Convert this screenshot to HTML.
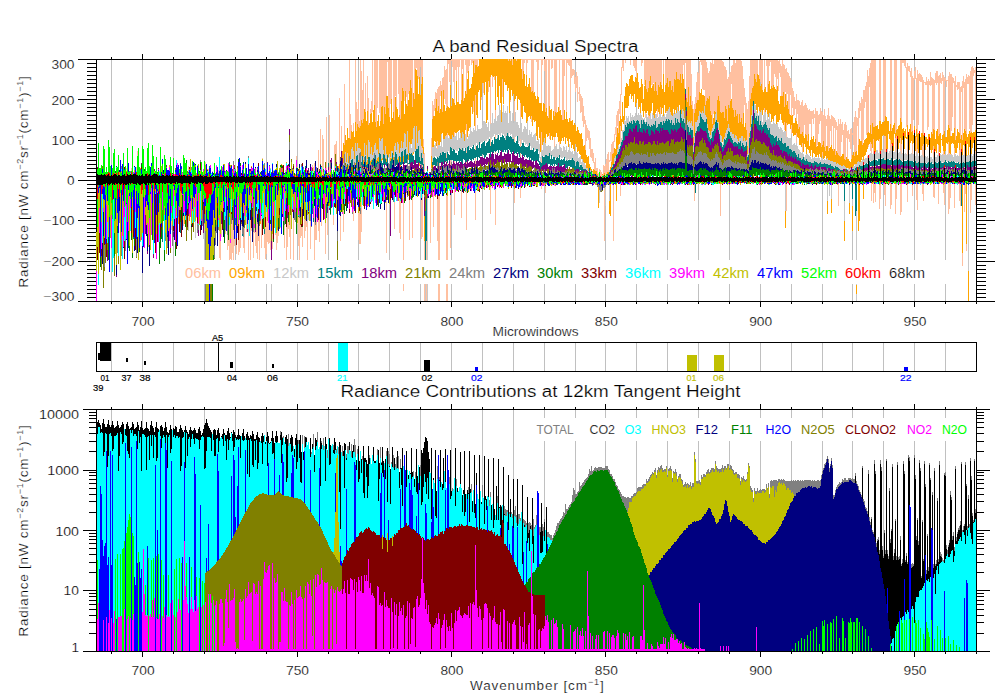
<!DOCTYPE html>
<html><head><meta charset="utf-8"><title>A band Residual Spectra</title>
<style>html,body{margin:0;padding:0;background:#fff}svg{display:block}text{font-family:"Liberation Sans",sans-serif}.t{stroke:#fff;stroke-width:.22px}</style></head>
<body>
<svg width="1000" height="700" viewBox="0 0 1000 700">
<rect width="1000" height="700" fill="#fff"/>
<g shape-rendering="crispEdges">
<path fill="#ffc0a0" d="M0 0m126 168h1v3h-1zm5 0h1v3h-1zm5-1h1v4h-1zm1-16h1v5h-1zm34 70h1v9h-1zm12-5h1v10h-1zm5-50h1v4h-1zm8 51h1v1h-1zm9-55h1v3h-1zm3 7h1v3h-1zm10 1h1v3h-1zm1 61h1v27h-1zm1 10h1v19h-1zm1-17h1v13h-1zm4 6h1v4h-1zm2 5h1v15h-1zm1 5h1v6h-1zm1-15h1v35h-1zm1 18h1v16h-1zm1-19h1v36h-1zm1-4h1v33h-1zm1 10h1v30h-1zm1 9h1v7h-1zm1-14h1v6h-1zm1 20h1v9h-1zm2-5h1v15h-1zm1-20h1v32h-1zm1 10h1v18h-1zm1-6h1v2h-1zm2 13h1v11h-1zm1-9h1v25h-1zm2-5h1v9h-1zm2-3h1v40h-1zm2 0h1v40h-1zm1 8h1v3h-1zm2 4h1v26h-1zm1-4h1v5h-1zm1 4h1v14h-1zm1-13h1v34h-1zm1 5h1v35h-1zm1 12h1v5h-1zm1-65h1v3h-1zm0 55h1v34h-1zm2-10h1v32h-1zm1-58h1v1h-1zm2 76h1v14h-1zm1-7h1v32h-1zm1-15h1v42h-1zm1 9h1v21h-1zm1 2h1v21h-1zm1 7h1v13h-1zm1-6h1v26h-1zm2 10h1v15h-1zm1-64h1v1h-1zm2 63h1v2h-1zm1 0h1v17h-1zm1-3h1v13h-1zm1 1h1v5h-1zm2-4h1v1h-1zm4-2h1v23h-1zm2 2h1v33h-1zm1-9h1v29h-1zm1 4h1v7h-1zm1 3h1v12h-1zm1-10h1v44h-1zm3 3h1v42h-1zm3-62h1v4h-1zm1 67h1v1h-1zm1-6h1v29h-1zm1 1h1v42h-1zm1 7h1v13h-1zm1 2h1v9h-1zm1 0h1v20h-1zm2-8h1v19h-1zm1 1h1v11h-1zm1 1h1v6h-1zm1 2h1v37h-1zm2-52h1v2h-1zm1 50h1v28h-1zm2-56h1v3h-1zm1 2h1v6h-1zm1-4h1v8h-1zm0 43h1v54h-1zm1 19h1v15h-1zm1-8h1v23h-1zm2-67h1v22h-1zm0 70h1v11h-1zm1-6h1v28h-1zm1-85h1v35h-1zm1 79h1v18h-1zm1-73h1v40h-1zm1 4h1v30h-1zm2 84h1v31h-1zm1-106h1v53h-1zm1 96h1v22h-1zm2-98h1v59h-1zm4 100h1v10h-1zm1-70h1v27h-1zm1-1h1v10h-1zm1-3h1v21h-1zm3-43h1v66h-1zm1 118h1v25h-1zm1-90h1v25h-1zm2 84h1v22h-1zm1-126h1v61h-1zm5-24h1v78h-1zm1 54h1v25h-1zm1 11h1v6h-1zm2-2h1v8h-1zm0 86h1v12h-1zm2-149h1v62h-1zm1 42h1v29h-1zm1 7h1v15h-1zm1-9h1v27h-1zm0 113h1v27h-1zm1-92h1v7h-1zm0 90h1v33h-1zm1-151h1v66h-1zm0 154h1v30h-1zm1-143h1v49h-1zm0 126h1v35h-1zm1-107h1v33h-1zm1-30h1v59h-1zm2 23h1v29h-1zm2-7h1v35h-1zm1 22h1v27h-1zm2 11h1v5h-1zm1-8h1v12h-1zm1-41h1v52h-1zm2 0h1v45h-1zm1 0h1v62h-1zm1 0h1v67h-1zm1 0h1v48h-1zm2 0h1v53h-1zm1 0h1v61h-1zm1 0h1v47h-1zm1 0h1v46h-1zm1 0h1v64h-1zm1 0h1v47h-1zm1 0h1v54h-1zm1 0h1v36h-1zm0 106h1v2h-1zm0 34h1v53h-1zm1-140h1v2h-1zm1 0h1v48h-1zm1 0h1v57h-1zm1 0h1v44h-1zm1 0h1v39h-1zm2 0h1v52h-1zm1 0h1v60h-1zm0 142h1v27h-1zm1-142h1v36h-1zm1 0h1v47h-1zm2 0h1v34h-1zm1 0h1v55h-1zm0 138h1v35h-1zm1-138h1v59h-1zm0 141h1v38h-1zm1-141h1v41h-1zm1 0h1v28h-1zm1 0h1v31h-1zm0 134h1v66h-1zm0 90h1v7h-1zm1-224h1v41h-1zm1 0h1v31h-1zm1 0h1v37h-1zm1 0h1v46h-1zm1 0h1v34h-1zm1 0h1v31h-1zm0 104h1v2h-1zm0 36h1v40h-1zm1-140h1v20h-1zm1 0h1v28h-1zm1 0h1v47h-1zm0 109h1v1h-1zm0 29h1v40h-1zm2-138h1v39h-1zm1 0h1v9h-1zm1 0h1v8h-1zm1 0h1v16h-1zm1 0h1v19h-1zm1 0h1v17h-1zm1 0h1v7h-1zm1 0h1v24h-1zm0 86h1v4h-1zm0 54h1v39h-1zm1-140h1v17h-1zm0 88h1v2h-1zm0 7h1v3h-1zm0 10h1v2h-1zm0 29h1v43h-1zm1-55h1v8h-1zm1 14h1v19h-1zm0 88h1v19h-1zm0 43h1v17h-1zm2-43h1v19h-1zm0 43h1v17h-1zm4-86h1v45h-1zm1-60h1v18h-1zm1-37h1v18h-1zm1 4h1v11h-1zm0 42h1v1h-1zm0 18h1v2h-1zm0 27h1v35h-1zm1-93h1v12h-1zm1-7h1v16h-1zm1 1h1v6h-1zm1-4h1v22h-1zm0 52h1v8h-1zm0 58h1v42h-1zm1-112h1v19h-1zm0 109h2v64h-2zm0 88h2v17h-2zm1-198h1v27h-1zm0 77h1v3h-1zm1-82h1v15h-1zm1 4h1v6h-1zm1-7h1v34h-1zm1-1h1v13h-1zm1-11h1v33h-1zm1 4h1v34h-1zm1-1h1v39h-1zm0 66h1v2h-1zm0 19h1v4h-1zm0 7h1v1h-1zm0 34h1v65h-1zm0 89h2v17h-2zm1-224h1v46h-1zm0 73h1v3h-1zm0 30h1v2h-1zm0 33h1v64h-1zm1-136h1v4h-1zm1 0h1v22h-1zm1 0h1v25h-1zm0 100h1v5h-1zm0 35h1v53h-1zm1-136h1v2h-1zm1 0h1v8h-1zm1 0h1v23h-1zm1 0h1v44h-1zm0 73h1v4h-1zm0 29h1v2h-1zm0 28h1v26h-1zm1-130h1v11h-1zm1 0h1v22h-1zm1 0h1v8h-1zm1 0h1v43h-1zm1 0h1v8h-1zm1 0h1v1h-1zm1 0h1v41h-1zm0 90h1v1h-1zm0 40h1v29h-1zm1-130h1v10h-1zm1 0h1v42h-1zm1 0h1v1h-1zm1 0h1v6h-1zm1 0h1v35h-1zm0 65h1v14h-1zm0 27h1v2h-1zm0 11h1v2h-1zm0 29h1v39h-1zm1-132h1v14h-1zm1 0h1v12h-1zm1 0h1v7h-1zm1 0h1v1h-1zm1 0h1v6h-1zm1 0h1v4h-1zm1 0h1v2h-1zm0 42h1v11h-1zm1-42h1v14h-1zm1 0h2v6h-2zm0 36h1v34h-1zm0 51h1v4h-1zm0 12h1v6h-1zm0 33h1v29h-1zm2-132h1v8h-1zm1 0h1v1h-1zm3 38h1v3h-1zm2-14h1v10h-1zm5-2h1v11h-1zm2-4h1v47h-1zm0 61h1v8h-1zm0 49h1v27h-1zm2-111h1v11h-1zm2 0h1v4h-1zm1 34h1v8h-1zm0 25h1v4h-1zm0 17h1v2h-1zm0 12h1v1h-1zm0 25h1v36h-1zm7-110h1v18h-1zm6-20h1v2h-1zm2 0h1v2h-1zm0 41h1v2h-1zm2-41h1v6h-1zm2 42h1v20h-1zm0 36h1v5h-1zm0 17h1v1h-1zm0 35h1v14h-1zm2-130h1v2h-1zm4 44h1v15h-1zm0 36h1v8h-1zm0 14h1v4h-1zm0 34h1v11h-1zm1-128h1v1h-1zm1 0h1v20h-1zm1 0h1v12h-1zm1 0h1v4h-1zm1 0h1v1h-1zm1 0h1v16h-1zm1 0h1v4h-1zm1 0h3v1h-3zm3 0h1v33h-1zm0 57h1v6h-1zm1-57h1v32h-1zm1 0h1v34h-1zm1 0h2v1h-2zm2 0h1v3h-1zm1 0h1v37h-1zm1 0h1v11h-1zm1 0h2v1h-2zm2 0h1v44h-1zm0 73h1v18h-1zm0 27h1v4h-1zm0 26h1v4h-1zm1-126h1v6h-1zm1 0h1v1h-1zm1 0h1v12h-1zm1 0h1v53h-1zm0 84h1v1h-1zm0 43h1v7h-1zm1-127h1v49h-1zm1 0h1v1h-1zm1 0h1v59h-1zm1 0h1v47h-1zm0 74h1v6h-1zm1-74h1v1h-1zm1 0h1v10h-1zm1 0h1v9h-1zm1 0h1v1h-1zm1 0h1v57h-1zm0 78h1v10h-1zm0 29h1v1h-1zm0 18h1v2h-1zm1-125h1v53h-1zm1 0h1v54h-1zm1 0h2v1h-2zm2 0h1v52h-1zm0 82h1v4h-1zm1-82h2v1h-2zm2 0h2v61h-2zm2 0h1v17h-1zm1 0h1v1h-1zm1 0h1v53h-1zm1 0h1v4h-1zm1 0h1v6h-1zm1 0h1v7h-1zm1 0h1v62h-1zm1 0h1v19h-1zm1 10h1v7h-1zm1 0h1v6h-1zm1 1h1v14h-1zm1 7h1v15h-1zm1-5h1v16h-1zm1 4h1v26h-1zm1 16h1v2h-1zm1-5h1v14h-1zm1 7h1v19h-1zm1 2h1v16h-1zm1 2h1v23h-1zm1 8h1v21h-1zm1 10h1v8h-1zm1 4h1v30h-1zm1 5h1v16h-1zm1 3h1v10h-1zm1 2h1v10h-1zm1 1h1v18h-1zm1 7h1v19h-1zm1 11h1v9h-1zm1 0h1v12h-1zm1 4h1v10h-1zm1 9h1v8h-1zm1-4h1v13h-1zm1 10h1v3h-1zm1 0h1v6h-1zm1 5h1v2h-1zm1-4h1v3h-1zm1 1h1v6h-1zm1 2h1v4h-1zm2-7h1v10h-1zm1 1h1v7h-1zm0 22h1v53h-1zm1-24h1v12h-1zm1-5h1v15h-1zm1-5h1v18h-1zm1-2h1v20h-1zm1 8h1v2h-1zm1-8h1v9h-1zm1-8h1v18h-1zm1-2h1v12h-1zm1-1h1v12h-1zm0 44h1v56h-1zm1-51h1v8h-1zm1-7h1v8h-1zm1-12h1v22h-1zm1-4h1v15h-1zm1-2h1v24h-1zm1-8h1v13h-1zm1-7h1v22h-1zm0 32h1v16h-1zm0 58h1v12h-1zm1-117h1v28h-1zm1-7h1v8h-1zm1 0h1v11h-1zm2 0h1v3h-1zm5 0h1v5h-1zm3 0h1v6h-1zm1 0h1v8h-1zm1 0h1v11h-1zm1 0h1v18h-1zm5 0h1v6h-1zm1 0h1v3h-1zm2 0h1v25h-1zm1 0h1v20h-1zm0 53h1v5h-1zm1-53h1v29h-1zm1 0h1v32h-1zm1 0h1v28h-1zm0 55h1v3h-1zm1-55h1v21h-1zm0 56h1v3h-1zm1-56h1v16h-1zm1 0h1v25h-1zm1 0h1v26h-1zm1 0h1v23h-1zm1 0h1v31h-1zm1 0h1v22h-1zm1 0h1v31h-1zm1 0h1v35h-1zm0 49h1v8h-1zm1-49h1v25h-1zm1 0h1v27h-1zm1 0h1v22h-1zm0 47h1v7h-1zm1-47h1v25h-1zm2 0h1v14h-1zm2 0h1v25h-1zm1 0h1v23h-1zm0 51h1v2h-1zm1-51h1v18h-1zm1 0h1v27h-1zm1 0h2v21h-2zm1 52h1v1h-1zm1-52h1v30h-1zm1 0h1v26h-1zm1 0h1v32h-1zm1 0h1v19h-1zm1 0h1v20h-1zm1 0h1v12h-1zm1 0h2v19h-2zm2 0h1v20h-1zm1 0h1v14h-1zm1 0h1v23h-1zm1 0h1v14h-1zm1 0h1v5h-1zm1 0h1v28h-1zm1 0h1v3h-1zm1 0h1v38h-1zm1 0h1v42h-1zm1 0h1v27h-1zm1 0h1v46h-1zm1 0h1v36h-1zm1 14h1v31h-1zm1 27h1v8h-1zm1 8h1v28h-1zm1-5h1v9h-1zm0 80h1v17h-1zm1-87h1v12h-1zm1-15h1v21h-1zm1-10h1v28h-1zm1 1h1v27h-1zm1-12h1v31h-1zm1-1h1v2h-1zm1 0h1v5h-1zm1 0h1v29h-1zm1 0h2v30h-2zm2 0h1v45h-1zm1 2h1v39h-1zm1 6h1v30h-1zm1 5h1v26h-1zm1-2h1v25h-1zm1-9h1v49h-1zm1 1h1v52h-1zm1-3h1v64h-1zm1 4h1v50h-1zm1-4h1v51h-1zm1 0h2v52h-2zm2 0h1v40h-1zm1 0h1v36h-1zm1 0h1v41h-1zm1 0h1v52h-1zm0 124h1v32h-1zm1-124h1v53h-1zm1 1h1v51h-1zm1 1h1v50h-1zm1 4h1v52h-1zm1 1h1v39h-1zm1 3h1v39h-1zm1 9h1v42h-1zm1-2h1v28h-1zm1-3h1v31h-1zm1-2h1v29h-1zm1-6h1v18h-1zm1-1h1v43h-1zm1-5h1v50h-1zm1 0h1v57h-1zm1 3h1v47h-1zm1-3h1v56h-1zm1 0h1v54h-1zm1 0h1v63h-1zm1 0h1v54h-1zm1 0h1v62h-1zm1 1h1v57h-1zm1 5h1v58h-1zm1 13h1v34h-1zm1 9h1v17h-1zm1 9h1v26h-1zm1 6h1v27h-1zm1 6h1v37h-1zm1-8h1v49h-1zm1-25h1v57h-1zm1-16h1v39h-1zm1 0h1v33h-1zm1 0h1v28h-1zm1 0h1v26h-1zm1 0h1v14h-1zm1 0h1v19h-1zm1 0h1v22h-1zm1 0h1v14h-1zm0 53h1v1h-1zm2-53h1v19h-1zm1 0h1v22h-1zm1 0h1v24h-1zm1 0h1v30h-1zm2 0h1v29h-1zm0 48h1v5h-1zm2-48h1v6h-1zm1 0h1v32h-1zm1 0h1v24h-1zm1 0h1v6h-1zm1 0h1v2h-1zm1 0h1v26h-1zm1 0h1v28h-1zm1 0h1v25h-1zm1 0h1v14h-1zm1 0h1v17h-1zm1 0h1v30h-1zm1 0h1v19h-1zm1 1h1v30h-1zm1-1h1v13h-1zm1 4h1v13h-1zm1 2h1v30h-1zm1-6h1v36h-1zm1 4h1v28h-1zm1 1h1v42h-1zm0 57h1v8h-1zm1-53h1v23h-1zm1-1h1v37h-1zm0 55h1v14h-1zm0 61h1v27h-1zm1-112h1v22h-1zm1 1h1v36h-1zm1 3h1v38h-1zm1 2h1v17h-1zm1 4h1v34h-1zm0 43h1v9h-1zm1-37h1v20h-1zm1 3h1v25h-1zm1 6h1v18h-1zm1 4h1v8h-1zm1-7h1v27h-1zm0 39h1v10h-1zm1-33h1v14h-1zm1 0h1v29h-1zm1 1h1v26h-1zm1 4h1v29h-1zm1-3h1v32h-1zm1-2h1v32h-1zm0 43h1v9h-1zm1-37h1v30h-1zm1-1h1v20h-1zm1-2h1v31h-1zm1 2h1v30h-1zm1 3h1v33h-1zm1 2h1v24h-1zm1-1h1v15h-1zm1 2h1v13h-1zm1 0h1v26h-1zm1 0h1v8h-1zm1-1h1v14h-1zm1 4h1v4h-1zm1-6h1v31h-1zm1 3h1v36h-1zm1 0h1v34h-1zm1 4h1v19h-1zm1-1h1v10h-1zm1-6h1v13h-1zm1 3h1v36h-1zm1 1h1v33h-1zm0 40h1v4h-1zm1-37h1v26h-1zm1-6h1v38h-1zm1 7h1v35h-1zm1 3h1v7h-1zm1-4h1v31h-1zm1-7h1v43h-1zm1 8h1v31h-1zm1 3h1v12h-1zm1-4h1v30h-1zm1 1h1v10h-1zm1 1h1v34h-1zm1 1h1v10h-1zm1 2h1v35h-1zm1 2h1v8h-1zm1 4h1v27h-1zm1-7h1v36h-1zm0 65h1v22h-1zm1-60h1v32h-1zm1-5h1v38h-1zm1 5h1v18h-1zm1-2h1v13h-1zm1 8h1v24h-1zm1-6h1v35h-1zm1-2h1v38h-1zm1 3h1v13h-1zm1 6h1v28h-1zm1-1h1v9h-1zm1 4h1v8h-1zm1-5h1v20h-1zm1-1h1v31h-1zm1 5h1v2h-1zm1-11h1v23h-1zm1-5h1v39h-1zm0 47h1v1h-1zm1-53h1v41h-1zm1 6h1v34h-1zm1 1h1v8h-1zm1-10h1v37h-1zm1-7h1v17h-1zm1 2h1v8h-1zm1-6h1v44h-1zm1 2h1v46h-1zm1-9h1v50h-1zm1 0h1v18h-1zm1-4h1v16h-1zm1-4h1v53h-1zm1-12h1v63h-1zm1 6h1v56h-1zm0 69h1v2h-1zm1-77h1v19h-1zm1-5h1v62h-1zm0 79h1v9h-1zm1-82h1v74h-1zm0 84h1v9h-1zm0 16h1v1h-1zm0 6h1v1h-1zm0 17h1v18h-1zm1-123h1v63h-1zm1 0h2v67h-2zm0 79h1v14h-1zm0 27h1v1h-1zm0 17h1v20h-1zm1 1h1v9h-1zm1-124h1v66h-1zm0 106h1v1h-1zm0 18h1v18h-1zm4-124h2v61h-2zm0 79h1v13h-1zm0 26h1v1h-1zm0 20h1v24h-1zm1-1h1v15h-1zm3-124h1v60h-1zm1 0h1v61h-1zm0 76h2v16h-2zm0 23h2v1h-2zm0 25h1v11h-1zm1-124h1v56h-1zm0 124h1v22h-1zm5-124h1v64h-1zm0 80h1v10h-1zm0 19h1v1h-1zm0 24h1v26h-1zm1-123h1v71h-1zm0 84h1v7h-1zm0 21h1v1h-1zm0 19h1v21h-1zm3-124h1v63h-1zm1 0h1v73h-1zm0 78h1v14h-1zm0 46h1v30h-1zm1-124h1v70h-1zm0 76h1v14h-1zm0 48h1v15h-1zm4-124h1v58h-1zm0 78h1v13h-1zm0 21h1v1h-1zm0 25h1v31h-1zm1-124h1v62h-1zm0 84h1v10h-1zm0 16h1v1h-1zm0 24h1v28h-1zm1-124h2v3h-2zm2 0h1v6h-1zm1 0h1v8h-1zm1 7h1v60h-1zm1-4h1v62h-1zm0 76h1v16h-1zm0 45h1v18h-1zm1-118h1v5h-1zm1 0h1v6h-1zm1 5h1v6h-1zm1-3h1v64h-1zm1 8h1v55h-1zm0 68h1v10h-1zm0 41h1v11h-1zm1-107h1v42h-1zm1-7h1v9h-1zm1-4h1v12h-1zm1 11h1v51h-1zm0 59h1v15h-1zm0 25h1v1h-1zm0 22h1v16h-1zm1-114h1v64h-1zm0 79h1v5h-1zm0 35h1v26h-1zm1-110h1v51h-1zm1-1h1v8h-1zm1 1h1v8h-1zm1 1h1v7h-1zm1 2h1v56h-1zm0 69h1v9h-1zm0 22h1v1h-1zm0 16h1v10h-1zm1-104h1v55h-1zm0 64h1v13h-1zm0 40h1v17h-1zm1-102h1v1h-1zm1 0h1v3h-1zm1-5h1v8h-1zm1 4h1v49h-1zm1-2h1v48h-1zm1 2h1v4h-1zm1-9h1v14h-1zm1 5h1v8h-1zm1 1h1v56h-1zm1 1h1v50h-1zm0 67h1v11h-1zm0 38h1v13h-1zm1-104h1v50h-1zm0 103h1v15h-1zm1-110h1v10h-1zm1-2h1v14h-1zm1 0h1v12h-1zm1 5h1v60h-1zm0 69h1v9h-1zm0 39h1v20h-1zm1-109h1v59h-1zm1-2h1v10h-1zm1 5h1v6h-1zm1-6h1v9h-1zm1 3h1v59h-1zm0 76h1v4h-1zm0 34h1v8h-1zm1-108h1v54h-1zm0 77h1v1h-1zm0 7h1v1h-1zm0 23h1v21h-1zm1-106h1v3h-1zm1 2h1v7h-1zm1 0h1v1h-1zm1-4h1v49h-1zm0 66h1v13h-1zm0 41h1v31h-1zm1-111h1v56h-1zm0 81h1v1h-1zm0 30h1v26h-1zm1-109h1v62h-1zm0 80h1v1h-1zm0 7h1v1h-1zm0 23h1v14h-1zm1-110h1v57h-1zm1 3h1v40h-1zm1 1h1v5h-1zm1 3h1v47h-1zm0 67h1v7h-1zm0 36h1v24h-1zm1-108h1v64h-1zm1 9h1v2h-1zm1-3h1v8h-1zm1 0h1v7h-1zm1 0h1v51h-1zm0 68h1v6h-1zm0 13h1v1h-1zm0 21h1v17h-1zm1-97h1v52h-1zm0 56h1v13h-1zm0 41h1v22h-1zm1-98h1v6h-1zm1-5h1v59h-1zm0 172h1v13h-1zm1-177h1v12h-1zm1 6h1v47h-1zm0 64h1v9h-1zm0 16h1v1h-1zm0 5h1v1h-1zm0 18h1v27h-1zm1-106h1v52h-1zm0 104h1v11h-1zm1-109h1v60h-1zm0 170h1v7h-1zm1-167h1v7h-1zm1-2h1v9h-1zm1 1h1v53h-1zm1-5h1v62h-1zm0 113h1v29h-1zm1-117h1v65h-1zm0 94h1v1h-1zm0 22h1v17h-1zm1-117h1v59h-1zm1 2h1v8h-1zm1 2h1v3h-1zm1-3h1v63h-1zm0 84h1v3h-1zm0 15h1v1h-1zm0 18h1v21h-1z"/>
<path fill="#ffa500" d="M0 0m140 168h1v1h-1zm29-3h1v2h-1zm9 52h1v7h-1zm6-2h1v9h-1zm5-1h1v7h-1zm7-41h1v1h-1zm8 50h1v1h-1zm3-54h1v1h-1zm8 4h1v1h-1zm36-7h1v1h-1zm9 55h1v3h-1zm21-57h1v1h-1zm1 1h1v1h-1zm4-3h1v1h-1zm52 4h1v2h-1zm1-2h1v5h-1zm3-13h1v7h-1zm1-8h1v20h-1zm1 2h1v9h-1zm1-10h1v17h-1zm1 5h1v22h-1zm0 25h1v2h-1zm1-37h1v25h-1zm1 10h1v25h-1zm0 27h1v4h-1zm0 37h1v2h-1zm1-64h1v18h-1zm1 1h1v20h-1zm1-8h1v18h-1zm1 1h1v15h-1zm1-1h1v20h-1zm1 6h1v22h-1zm1-15h1v21h-1zm0 41h1v2h-1zm1-32h1v20h-1zm0 37h1v2h-1zm1-44h1v19h-1zm1 3h1v21h-1zm0 33h1v2h-1zm1-32h1v20h-1zm1-2h1v23h-1zm1-6h1v36h-1zm1 3h1v33h-1zm1-4h1v38h-1zm0 41h1v4h-1zm0 7h1v1h-1zm1-58h1v34h-1zm1 3h1v43h-1zm0 55h1v1h-1zm1-46h1v24h-1zm0 41h1v3h-1zm1-51h1v48h-1zm0 49h1v4h-1zm0 8h1v1h-1zm1-43h1v15h-1zm1-2h1v19h-1zm1-9h1v40h-1zm0 47h1v4h-1zm1-48h1v34h-1zm0 47h1v2h-1zm1-38h1v33h-1zm0 37h1v1h-1zm1-49h1v42h-1zm1-5h1v40h-1zm1 17h1v21h-1zm1 5h1v23h-1zm0 33h1v3h-1zm1-39h1v28h-1zm0 37h1v3h-1zm1-43h1v39h-1zm0 42h1v5h-1zm1-31h1v12h-1zm1-5h1v20h-1zm1-14h1v32h-1zm0 52h1v2h-1zm1-53h1v32h-1zm0 52h1v2h-1zm1-34h1v26h-1zm1-17h1v48h-1zm1 7h1v32h-1zm0 44h1v1h-1zm1-62h1v58h-1zm0 63h1v3h-1zm1-63h1v59h-1zm1 12h1v49h-1zm1 9h1v37h-1zm1 5h1v35h-1zm0 36h1v3h-1zm1-59h1v52h-1zm0 59h1v1h-1zm1-40h1v33h-1zm1-6h1v43h-1zm0 45h1v3h-1zm1-37h1v26h-1zm1-23h1v46h-1zm1 10h1v43h-1zm1 2h1v33h-1zm0 50h1v1h-1zm1-42h1v27h-1zm0 40h1v5h-1zm1-42h1v38h-1zm1 4h1v29h-1zm0 38h1v5h-1zm0 8h1v2h-1zm1-64h1v40h-1zm1-13h1v60h-1zm1 3h1v51h-1zm0 65h1v6h-1zm1-42h1v19h-1zm1-23h1v43h-1zm1 13h1v43h-1zm0 50h1v1h-1zm1-48h1v25h-1zm1-6h1v53h-1zm0 55h1v5h-1zm1-64h1v51h-1zm1-11h1v64h-1zm1 8h1v56h-1zm1 19h1v32h-1zm0 47h1v1h-1zm1-61h1v35h-1zm0 59h1v2h-1zm1-53h1v27h-1zm1-30h1v80h-1zm1 1h1v56h-1zm1 6h1v67h-1zm1 18h1v37h-1zm1-17h1v53h-1zm0 86h1v3h-1zm1-68h1v44h-1zm1-11h1v62h-1zm1-7h1v71h-1zm1 70h1v7h-1zm1 69h1v25h-1zm7-60h1v12h-1zm1-37h1v28h-1zm1-3h1v31h-1zm1 0h1v25h-1zm1-8h1v34h-1zm1-9h1v47h-1zm1 12h1v30h-1zm1-5h1v39h-1zm1 7h1v32h-1zm1-4h1v33h-1zm1-18h1v43h-1zm1 21h1v21h-1zm1-22h1v49h-1zm1 15h1v34h-1zm1 6h1v25h-1zm1-3h1v27h-1zm1-2h1v27h-1zm1 1h1v28h-1zm1 1h1v28h-1zm1-23h1v54h-1zm1 21h1v33h-1zm1-8h1v37h-1zm1 1h1v38h-1zm1 4h1v29h-1zm1 2h1v28h-1zm1-24h1v52h-1zm1 21h1v30h-1zm1 0h1v29h-1zm1 2h1v26h-1zm1 0h1v29h-1zm1-4h1v38h-1zm1-26h1v58h-1zm1 27h1v33h-1zm1-3h1v43h-1zm1-7h1v39h-1zm1 3h1v30h-1zm1-15h1v58h-1zm1-8h1v60h-1zm1 18h1v39h-1zm1-1h1v39h-1zm1-4h1v23h-1zm1-7h1v37h-1zm1-16h1v40h-1zm1 12h1v53h-1zm1-8h1v30h-1zm1 0h1v50h-1zm1 2h1v51h-1zm1-1h1v26h-1zm1-7h1v31h-1zm1 0h1v51h-1zm1 0h1v38h-1zm1 0h2v24h-2zm2 0h1v36h-1zm1 0h1v23h-1zm1 0h1v64h-1zm1 0h1v61h-1zm1 0h1v22h-1zm1 0h1v28h-1zm1 0h1v18h-1zm1 0h1v16h-1zm1 0h1v17h-1zm1 0h1v18h-1zm1 0h1v17h-1zm1 0h1v51h-1zm1 0h1v17h-1zm1 0h1v38h-1zm1 0h1v46h-1zm1 0h1v27h-1zm1 0h1v44h-1zm1 0h1v63h-1zm1 0h1v20h-1zm1 0h1v45h-1zm1 0h1v23h-1zm1 0h2v26h-2zm2 0h1v32h-1zm1 2h1v27h-1zm1-2h1v54h-1zm1 2h1v39h-1zm1-2h1v31h-1zm1 6h1v31h-1zm1-6h1v35h-1zm1 0h1v42h-1zm1 0h1v40h-1zm1 2h1v35h-1zm1-2h1v51h-1zm1 0h1v40h-1zm1 0h1v41h-1zm1 0h1v44h-1zm1 10h1v48h-1zm1 10h1v40h-1zm1-8h1v35h-1zm1 3h1v38h-1zm1 12h1v27h-1zm1-11h1v48h-1zm1 12h1v34h-1zm1-3h1v33h-1zm1-6h1v38h-1zm1 9h1v32h-1zm1 5h1v24h-1zm1-1h1v35h-1zm1 2h1v27h-1zm1-1h1v30h-1zm1 4h1v25h-1zm1 3h1v37h-1zm1-3h1v44h-1zm1 1h1v30h-1zm1 6h1v35h-1zm1 0h1v49h-1zm1 0h1v29h-1zm1 8h1v34h-1zm1-8h1v39h-1zm1 1h1v34h-1zm1 8h1v31h-1zm1-4h1v26h-1zm1 8h1v21h-1zm1 2h1v18h-1zm1-12h1v27h-1zm1 4h1v30h-1zm1-1h1v27h-1zm1 11h1v20h-1zm1-9h1v26h-1zm1 5h1v21h-1zm1-4h1v25h-1zm1 1h1v20h-1zm1-1h1v25h-1zm1-5h1v35h-1zm1 4h1v30h-1zm1-1h1v34h-1zm1 5h1v26h-1zm1 5h1v18h-1zm1 0h1v21h-1zm1-10h1v27h-1zm1 9h1v25h-1zm1-7h1v26h-1zm1 7h1v22h-1zm1 3h1v25h-1zm1-4h1v21h-1zm1 3h1v21h-1zm1 0h1v27h-1zm1-1h1v25h-1zm1 5h1v24h-1zm1-2h1v28h-1zm1 2h1v19h-1zm1 6h1v16h-1zm1-4h1v25h-1zm1 3h1v21h-1zm1 3h1v21h-1zm1 1h1v21h-1zm1-1h1v26h-1zm1 6h1v20h-1zm1 7h1v16h-1zm1-1h1v18h-1zm1 5h1v13h-1zm1 5h1v13h-1zm1 2h1v11h-1zm1-1h1v15h-1zm1 8h1v4h-1zm1 3h1v3h-1zm1 2h1v2h-1zm1 2h1v1h-1zm1-2h1v5h-1zm1 1h1v4h-1zm1 1h1v3h-1zm1 0h1v4h-1zm1 3h1v2h-1zm1 13h1v21h-1zm4-13h1v1h-1zm1 1h1v1h-1zm1-2h1v2h-1zm3-1h1v2h-1zm1 0h1v1h-1zm1 29h1v13h-1zm1-34h1v3h-1zm0 17h1v32h-1zm1-22h1v6h-1zm1-8h1v11h-1zm1-1h1v11h-1zm1-5h1v10h-1zm1 1h1v7h-1zm1-12h1v18h-1zm0 47h1v17h-1zm1-56h1v21h-1zm1 5h1v12h-1zm1-12h1v23h-1zm1-5h1v10h-1zm1 3h1v12h-1zm1-17h1v20h-1zm1 14h1v8h-1zm1-20h1v24h-1zm1-9h1v21h-1zm1-4h1v25h-1zm1 1h1v24h-1zm1 2h1v20h-1zm1-7h1v17h-1zm1-3h1v18h-1zm1-1h1v24h-1zm1 0h1v21h-1zm1 6h1v21h-1zm1 1h1v12h-1zm1-5h1v30h-1zm1 1h1v25h-1zm1-5h1v26h-1zm1 9h1v27h-1zm1 6h1v19h-1zm1-1h1v26h-1zm1-8h1v24h-1zm1 5h1v27h-1zm1 15h1v18h-1zm1-13h1v25h-1zm1-6h1v33h-1zm1 9h1v24h-1zm1 3h1v19h-1zm1-4h1v27h-1zm1-7h1v35h-1zm1-5h1v37h-1zm1 12h1v23h-1zm1-2h1v17h-1zm1-2h1v31h-1zm1 7h1v27h-1zm1-9h1v31h-1zm1 9h1v20h-1zm1 4h1v14h-1zm1-10h1v27h-1zm1 2h1v27h-1zm1-5h1v25h-1zm1 3h1v29h-1zm1 4h1v19h-1zm1-15h1v42h-1zm1 18h1v13h-1zm1-7h1v28h-1zm1-2h1v28h-1zm1-5h1v33h-1zm1 9h1v22h-1zm1-6h1v26h-1zm1 0h1v31h-1zm1 9h1v25h-1zm1-4h1v30h-1zm1 6h1v17h-1zm1-13h1v35h-1zm1 1h1v30h-1zm1-8h1v41h-1zm1 7h1v28h-1zm1 0h1v32h-1zm1 1h1v25h-1zm1-6h1v36h-1zm1 9h1v31h-1zm1-9h1v35h-1zm1 5h1v32h-1zm1 9h1v30h-1zm2 10h1v9h-1zm1 4h1v18h-1zm1-15h1v35h-1zm1 19h1v15h-1zm1-10h1v27h-1zm1 9h1v16h-1zm1 4h1v17h-1zm1 28h1v8h-1zm1-24h1v23h-1zm1-4h1v13h-1zm1-6h1v19h-1zm1-3h1v20h-1zm1 0h1v16h-1zm1-8h1v19h-1zm1 1h1v19h-1zm1-4h1v24h-1zm1 6h1v16h-1zm1 0h1v18h-1zm1 1h1v10h-1zm1 9h1v10h-1zm1-4h1v16h-1zm1-3h1v26h-1zm1 1h1v31h-1zm1-3h1v35h-1zm1 15h1v24h-1zm1 4h1v16h-1zm1 9h1v4h-1zm1-6h1v7h-1zm1-7h1v13h-1zm1 1h1v2h-1zm2-12h1v22h-1zm1-4h1v26h-1zm1 5h1v29h-1zm1 11h1v23h-1zm1 1h1v23h-1zm1-1h1v30h-1zm1 0h1v27h-1zm1 6h1v19h-1zm1-12h1v27h-1zm1 3h1v21h-1zm1 12h1v7h-1zm1-16h1v19h-1zm1 3h1v20h-1zm1-7h1v31h-1zm1-2h1v33h-1zm1 9h1v26h-1zm1 2h1v24h-1zm1 7h1v21h-1zm1-7h1v25h-1zm1 6h1v20h-1zm1-2h1v25h-1zm1 9h1v18h-1zm1-9h1v24h-1zm1 8h1v16h-1zm1-4h1v18h-1zm1 6h1v12h-1zm1-11h1v28h-1zm1 14h1v11h-1zm1-4h1v18h-1zm1 7h1v10h-1zm1 16h1v8h-1zm2-13h1v4h-1zm1-34h1v28h-1zm1-6h1v22h-1zm1-5h1v18h-1zm1-2h1v15h-1zm1-12h1v30h-1zm1 5h1v25h-1zm1 3h1v28h-1zm1-8h1v39h-1zm1 1h1v32h-1zm1 4h1v32h-1zm1 7h1v26h-1zm1-2h1v26h-1zm1 6h1v25h-1zm1 2h1v18h-1zm1-3h1v19h-1zm1-2h1v25h-1zm1 5h1v18h-1zm1 0h1v22h-1zm1-8h1v33h-1zm1-3h1v32h-1zm1 8h1v25h-1zm1-3h1v36h-1zm1 2h1v31h-1zm1-3h1v36h-1zm1 2h1v29h-1zm1 2h1v26h-1zm1 1h1v34h-1zm1-4h1v36h-1zm1 15h1v21h-1zm1 3h1v16h-1zm1-8h1v18h-1zm1 0h1v24h-1zm1 0h1v27h-1zm1-4h1v33h-1zm1 15h1v15h-1zm1-13h1v37h-1zm0 117h1v17h-1zm1-106h1v18h-1zm1-4h1v24h-1zm1 8h1v15h-1zm1 5h1v10h-1zm1 1h1v14h-1zm1 1h1v9h-1zm1-1h1v18h-1zm1 8h1v13h-1zm1 0h1v12h-1zm1-5h1v17h-1zm1 3h1v12h-1zm1 3h1v13h-1zm1 5h1v9h-1zm1-2h1v18h-1zm1 7h1v11h-1zm1 0h1v13h-1zm1-2h1v11h-1zm1 4h1v16h-1zm1 2h1v6h-1zm1-4h1v13h-1zm1 1h1v19h-1zm1 6h1v8h-1zm1-7h1v16h-1zm1 12h1v7h-1zm1-6h1v16h-1zm1-3h1v13h-1zm1 2h1v18h-1zm1-3h1v17h-1zm1 6h1v12h-1zm1-3h1v18h-1zm1 8h1v10h-1zm1-1h1v9h-1zm1-4h1v15h-1zm1 0h1v12h-1zm1 1h1v14h-1zm1 4h1v11h-1zm1-2h1v7h-1zm1-4h1v18h-1zm1 6h1v11h-1zm1 4h1v5h-1zm1-5h1v13h-1zm1 0h1v12h-1zm0 55h1v13h-1zm1-50h1v9h-1zm1-3h1v12h-1zm1-1h1v14h-1zm1-2h1v16h-1zm0 54h1v14h-1zm1-50h1v12h-1zm1 2h1v11h-1zm1-2h1v13h-1zm1 6h1v7h-1zm1-4h1v13h-1zm1 2h1v10h-1zm1 2h1v9h-1zm1 1h1v9h-1zm1 1h1v8h-1zm1-1h1v10h-1zm1-2h1v12h-1zm1 0h1v11h-1zm1 5h1v7h-1zm0 62h1v20h-1zm1-61h1v7h-1zm1-3h1v11h-1zm1 2h2v9h-2zm2 2h1v8h-1zm0 42h1v11h-1zm1-41h1v6h-1zm1-3h1v8h-1zm1-4h1v13h-1zm0 51h1v25h-1zm1-54h1v14h-1zm1 4h1v8h-1zm1-4h1v12h-1zm1-1h1v13h-1zm0 134h1v9h-1zm1-130h1v7h-1zm1-10h1v16h-1zm0 38h1v48h-1zm1-44h1v23h-1zm0 46h1v36h-1zm1-44h1v21h-1zm1 0h1v19h-1zm1 4h1v12h-1zm1-2h1v17h-1zm0 41h1v15h-1zm1-44h1v16h-1zm1-1h1v16h-1zm1-1h1v14h-1zm1-5h1v16h-1zm1-1h1v13h-1zm1 1h1v11h-1zm1-8h1v17h-1zm1 9h1v10h-1zm1-11h1v25h-1zm1 4h1v12h-1zm1 0h1v24h-1zm1-1h1v26h-1zm1 0h1v15h-1zm1-1h1v15h-1zm1 4h1v12h-1zm1-8h1v18h-1zm1 0h1v30h-1zm1 3h1v26h-1zm1-2h1v14h-1zm1 0h1v13h-1zm1-1h1v15h-1zm1-5h1v20h-1zm1 1h1v32h-1zm1 4h1v28h-1zm1 0h1v13h-1zm1 10h1v8h-1zm1-7h1v16h-1zm1 7h1v13h-1zm1-3h1v15h-1zm1-3h1v26h-1zm1-2h1v11h-1zm1 10h1v5h-1zm1-3h1v6h-1zm1-1h1v7h-1zm1-3h1v23h-1zm1-1h1v18h-1zm1-7h1v20h-1zm1 4h1v22h-1zm1 7h1v11h-1zm1-1h1v5h-1zm1 3h1v18h-1zm1-2h1v9h-1zm1 8h1v2h-1zm1-12h1v14h-1zm2 4h1v21h-1zm1-5h1v19h-1zm1 8h1v9h-1zm1-1h1v13h-1zm1 4h1v8h-1zm1-9h1v4h-1zm1 10h1v15h-1zm1-7h1v8h-1zm1 5h1v15h-1zm1-1h1v20h-1zm2 4h1v13h-1zm1-4h1v17h-1zm1 0h1v13h-1zm1 2h1v9h-1zm2 2h1v13h-1zm1 0h1v7h-1zm1 2h1v8h-1zm1-5h1v11h-1zm1 0h1v3h-1zm1 4h1v12h-1zm1-6h1v21h-1zm1 2h1v16h-1zm1-5h1v17h-1zm1 1h1v19h-1zm1 9h1v12h-1zm1-8h1v22h-1zm1-2h1v15h-1zm1 7h1v9h-1zm1-2h1v18h-1zm1-1h1v20h-1zm1 6h1v1h-1zm1-4h1v11h-1zm1-1h1v17h-1zm1-3h1v23h-1zm1 6h1v14h-1zm1 0h1v6h-1zm1-7h1v14h-1zm1-5h1v17h-1zm1 3h1v25h-1zm1 8h1v18h-1zm1 0h1v8h-1zm1-3h1v10h-1zm1 0h1v11h-1zm1-5h1v20h-1zm1 12h1v13h-1zm1-4h1v17h-1zm1-7h1v19h-1zm1 3h1v11h-1zm1 1h1v17h-1zm1 6h1v4h-1zm1-4h1v14h-1zm1 5h1v15h-1zm0 44h1v69h-1zm1-51h1v12h-1zm1-4h1v17h-1zm1 2h1v10h-1zm1 3h1v22h-1zm0 50h1v60h-1zm1-47h1v7h-1zm1-3h1v21h-1zm0 137h1v30h-1zm1-140h1v16h-1zm1 2h1v4h-1zm1-1h1v22h-1zm1 1h1v15h-1zm1-1h1v11h-1zm1 0h1v5h-1zm1-2h1v21h-1z"/>
<path fill="#c8c8c8" d="M0 0m159 171h1v1h-1zm29-1h1v2h-1zm0 46h1v15h-1zm7 5h1v17h-1zm8 12h1v6h-1zm9-62h1v1h-1zm8-2h1v1h-1zm26 48h1v6h-1zm10-6h1v8h-1zm14-43h1v1h-1zm1 116h1v17h-1zm14-114h1v2h-1zm22 45h1v8h-1zm1-1h1v6h-1zm11-6h1v6h-1zm13-36h1v2h-1zm11-9h1v2h-1zm2-11h1v11h-1zm1 10h1v3h-1zm1-9h1v11h-1zm1 10h1v2h-1zm2-4h1v4h-1zm1-10h1v11h-1zm1-2h1v12h-1zm1 4h1v14h-1zm1 8h1v3h-1zm1-16h1v20h-1zm1 8h1v5h-1zm1-8h1v12h-1zm1 5h1v12h-1zm1 0h1v5h-1zm1 1h1v3h-1zm1 7h1v6h-1zm2 1h1v3h-1zm1-14h1v14h-1zm1 12h1v1h-1zm1-10h1v17h-1zm1 14h1v1h-1zm1-19h1v17h-1zm1 2h1v15h-1zm1 12h1v7h-1zm1-7h1v13h-1zm1 8h1v4h-1zm1-3h1v6h-1zm1-7h1v8h-1zm1-2h1v12h-1zm1 7h1v10h-1zm1-1h1v9h-1zm1 5h1v3h-1zm1-16h1v15h-1zm1 3h1v13h-1zm1-2h1v20h-1zm1-1h1v20h-1zm1 12h1v4h-1zm2-4h1v12h-1zm1 8h1v5h-1zm2 3h1v1h-1zm1-3h1v8h-1zm1 3h1v1h-1zm1-6h1v7h-1zm1 0h1v2h-1zm1 4h1v2h-1zm1-9h1v11h-1zm1-3h1v9h-1zm1 7h1v4h-1zm1-8h1v17h-1zm1 2h1v13h-1zm1 9h1v3h-1zm1-5h1v9h-1zm1-7h1v11h-1zm1 7h1v3h-1zm1-6h1v14h-1zm1-9h1v17h-1zm1 1h1v15h-1zm1 13h1v7h-1zm1-16h1v23h-1zm1 22h1v2h-1zm1-11h1v11h-1zm1 2h1v10h-1zm1 4h1v5h-1zm1-9h1v15h-1zm1-11h1v24h-1zm1-2h1v26h-1zm1 23h1v2h-1zm1-23h1v23h-1zm1 17h1v6h-1zm1-12h1v15h-1zm1-1h1v27h-1zm1 9h1v14h-1zm1 11h1v3h-1zm1 0h1v5h-1zm1 4h1v10h-1zm2 130h1v17h-1zm2-86h1v62h-1zm0 86h1v17h-1zm4-116h1v1h-1zm1-21h1v15h-1zm1 1h1v10h-1zm1-3h1v12h-1zm1-2h1v13h-1zm1 5h1v9h-1zm1 1h1v8h-1zm1-4h1v13h-1zm1 0h1v11h-1zm1 1h1v7h-1zm1-12h1v21h-1zm1 13h1v5h-1zm1-8h2v13h-2zm2-3h1v17h-1zm1 1h1v17h-1zm1-1h1v16h-1zm1 2h1v13h-1zm1-2h1v17h-1zm1 3h1v8h-1zm1 0h1v9h-1zm1-4h1v15h-1zm1 2h1v12h-1zm1-1h2v14h-2zm2-3h1v18h-1zm1 7h1v11h-1zm1-8h1v17h-1zm1 6h1v10h-1zm1-5h1v16h-1zm1 5h1v11h-1zm1-6h1v16h-1zm1 2h1v17h-1zm1 7h1v7h-1zm1-7h1v14h-1zm1 4h1v13h-1zm1 1h1v8h-1zm1-3h1v10h-1zm1-2h1v15h-1zm1-7h1v20h-1zm1 4h1v16h-1zm1 1h1v14h-1zm1-4h1v17h-1zm1 2h1v15h-1zm1-1h1v17h-1zm1 2h1v12h-1zm1-6h1v20h-1zm1 4h1v16h-1zm1 0h1v13h-1zm1 0h1v14h-1zm1-1h1v14h-1zm1-3h1v17h-1zm1-4h2v20h-2zm2 1h1v19h-1zm1 2h1v17h-1zm1 3h1v12h-1zm1-5h1v19h-1zm1 9h1v6h-1zm1-7h1v14h-1zm1-1h1v16h-1zm1-10h1v24h-1zm1 10h1v13h-1zm1-4h1v15h-1zm1-1h1v17h-1zm1 3h1v14h-1zm1-5h1v22h-1zm1-1h1v19h-1zm1-10h1v30h-1zm1 5h1v26h-1zm1 12h1v11h-1zm1-10h1v23h-1zm1-7h1v29h-1zm1 8h1v23h-1zm1-2h1v29h-1zm1 2h1v23h-1zm1-7h1v27h-1zm1 17h1v13h-1zm1-10h1v20h-1zm1-2h1v24h-1zm1 10h1v13h-1zm1-8h1v26h-1zm1 10h1v12h-1zm1-2h1v16h-1zm1-9h1v25h-1zm1 10h2v14h-2zm2 3h1v18h-1zm1 3h1v13h-1zm1-10h1v21h-1zm1 5h1v21h-1zm1 9h1v8h-1zm1-3h1v14h-1zm1-3h1v16h-1zm1 1h1v18h-1zm1 2h1v15h-1zm1-8h1v25h-1zm1 14h1v11h-1zm1-5h1v13h-1zm1 4h1v12h-1zm1-2h1v18h-1zm1 5h1v11h-1zm1-2h1v13h-1zm1-1h1v16h-1zm1-1h1v17h-1zm1 8h2v8h-2zm2-2h1v12h-1zm1 5h1v14h-1zm1 13h1v5h-1zm1-7h1v9h-1zm1 0h1v6h-1zm1-8h1v14h-1zm1-4h1v18h-1zm1 6h1v11h-1zm1 2h1v9h-1zm1 0h1v10h-1zm1-1h1v11h-1zm1 1h1v7h-1zm1 0h1v10h-1zm1 5h1v4h-1zm1-1h1v6h-1zm1-1h1v8h-1zm1-2h1v10h-1zm1-1h1v12h-1zm1-2h1v14h-1zm1 5h2v8h-2zm2-4h1v10h-1zm1 2h1v10h-1zm1 1h1v10h-1zm1 3h1v7h-1zm1-5h1v11h-1zm1 1h1v10h-1zm1 3h1v8h-1zm1-4h1v14h-1zm1 6h1v9h-1zm1-2h1v9h-1zm1-6h1v16h-1zm1 7h1v8h-1zm1 1h1v8h-1zm1-1h1v7h-1zm1 3h1v6h-1zm1-3h1v10h-1zm1 5h1v7h-1zm1-4h1v10h-1zm1 1h1v8h-1zm1 5h1v4h-1zm1-1h1v10h-1zm1-1h1v8h-1zm1 6h1v3h-1zm1-3h1v8h-1zm1 3h1v7h-1zm1 1h1v6h-1zm1 2h1v4h-1zm1 3h1v2h-1zm1 0h1v3h-1zm1 3h1v1h-1zm2-1h1v2h-1zm2 2h1v2h-1zm6 3h1v2h-1zm1 15h1v13h-1zm2-14h1v1h-1zm1-1h1v1h-1zm3 12h1v19h-1zm2-3h1v1h-1zm2-14h1v2h-1zm0 15h1v16h-1zm3-20h1v2h-1zm2-7h1v6h-1zm1-2h1v5h-1zm2-7h1v5h-1zm1-4h1v7h-1zm1 2h1v2h-1zm1-5h1v4h-1zm1-4h1v4h-1zm1-8h1v10h-1zm1 0h1v2h-1zm1-10h1v11h-1zm1 1h1v4h-1zm1-5h1v11h-1zm1 2h1v5h-1zm1-2h1v8h-1zm1 5h1v1h-1zm1-8h1v10h-1zm1 4h1v4h-1zm1-2h1v9h-1zm1 2h1v3h-1zm1-1h1v5h-1zm1-3h1v10h-1zm1 4h1v4h-1zm1-2h1v5h-1zm1-2h1v8h-1zm1 2h1v9h-1zm1-2h1v15h-1zm1 2h1v5h-1zm1 3h1v6h-1zm1 1h1v1h-1zm1-1h1v4h-1zm1 4h1v2h-1zm1-8h1v8h-1zm1 3h1v9h-1zm1 1h1v6h-1zm1 1h1v7h-1zm1-6h1v14h-1zm1 6h1v6h-1zm1-6h1v13h-1zm1 2h1v9h-1zm1 3h1v7h-1zm1-4h1v7h-1zm1 0h1v14h-1zm1 4h1v9h-1zm1-1h1v7h-1zm1-3h1v10h-1zm1 0h1v8h-1zm1 3h1v5h-1zm1-2h1v10h-1zm1 1h1v5h-1zm1-2h1v9h-1zm1 3h1v4h-1zm1-3h1v5h-1zm1-3h1v10h-1zm1-2h1v10h-1zm1-2h1v13h-1zm1 6h1v10h-1zm1 2h1v5h-1zm1 1h1v9h-1zm1-3h1v10h-1zm1 1h1v11h-1zm1-1h1v5h-1zm1 0h1v10h-1zm1-6h1v12h-1zm1 4h1v11h-1zm1 0h1v12h-1zm2 3h1v4h-1zm1-5h1v12h-1zm1 2h1v8h-1zm1 7h1v5h-1zm3 2h1v5h-1zm1 2h1v5h-1zm1-1h1v11h-1zm1 2h1v5h-1zm1-2h1v9h-1zm1 5h1v4h-1zm1 19h1v7h-1zm1-9h1v7h-1zm1-14h1v11h-1zm1 0h1v9h-1zm1-2h1v7h-1zm1-4h1v10h-1zm1-5h1v12h-1zm1 1h1v2h-1zm1 1h1v4h-1zm1-2h1v8h-1zm1 2h1v7h-1zm1-7h1v16h-1zm1 9h1v7h-1zm1 2h1v2h-1zm1 7h1v4h-1zm1 6h1v3h-1zm1 1h1v6h-1zm1 4h1v4h-1zm1-4h1v7h-1zm1-3h1v4h-1zm1-3h1v6h-1zm1-1h1v5h-1zm1-10h1v8h-1zm1-2h1v8h-1zm1 10h1v1h-1zm1 0h1v8h-1zm1 8h1v4h-1zm1 5h1v7h-1zm1 1h1v7h-1zm1 8h1v3h-1zm1-5h1v6h-1zm1-2h1v2h-1zm1-4h1v7h-1zm1-3h1v8h-1zm1-2h1v6h-1zm1-4h1v7h-1zm1 4h1v4h-1zm1 4h1v4h-1zm1 0h1v6h-1zm1 2h1v6h-1zm1 0h1v9h-1zm1 4h1v4h-1zm1-3h1v7h-1zm1 1h1v7h-1zm1 3h1v5h-1zm1 2h1v1h-1zm1-3h1v5h-1zm1 0h1v3h-1zm1-2h1v10h-1zm1 0h1v7h-1zm1 5h1v4h-1zm1-3h1v9h-1zm1 3h1v5h-1zm1-1h1v2h-1zm1 14h1v3h-1zm1-4h1v5h-1zm1-13h1v1h-1zm1-10h1v4h-1zm1-12h1v9h-1zm1-9h1v10h-1zm2-2h1v9h-1zm1 1h1v13h-1zm1 6h1v5h-1zm1 3h1v7h-1zm1 1h1v1h-1zm1-4h1v14h-1zm1 3h1v7h-1zm1-4h1v15h-1zm1 12h1v5h-1zm1-7h1v10h-1zm1-2h1v11h-1zm1-1h1v10h-1zm1 8h1v5h-1zm1-6h1v14h-1zm1 5h1v11h-1zm1-6h1v15h-1zm1 8h1v13h-1zm1 3h2v11h-2zm2-3h1v15h-1zm1 2h1v15h-1zm1 1h1v13h-1zm1 0h1v12h-1zm1-1h1v18h-1zm1 4h1v11h-1zm1 2h1v11h-1zm1-2h1v14h-1zm1 1h1v10h-1zm1 2h1v13h-1zm1 2h1v12h-1zm1-1h2v12h-2zm1 53h1v27h-1zm1-47h1v10h-1zm1 0h1v9h-1zm1 1h1v8h-1zm1 0h2v11h-2zm2 2h1v10h-1zm1 5h1v7h-1zm1-1h1v7h-1zm1-1h1v8h-1zm1 2h1v8h-1zm1-2h1v12h-1zm1 3h1v11h-1zm1 3h1v5h-1zm1 1h1v8h-1zm1 2h1v6h-1zm1 1h1v7h-1zm1-1h1v7h-1zm1 2h1v3h-1zm1 3h1v3h-1zm1-2h1v6h-1zm1-1h1v5h-1zm1 0h1v7h-1zm1 1h1v7h-1zm1 1h1v6h-1zm1 1h1v5h-1zm1 2h1v4h-1zm1-2h1v6h-1zm1 1h1v5h-1zm1-1h1v4h-1zm1 1h2v4h-2zm2 0h1v5h-1zm1-1h1v7h-1zm1 1h1v5h-1zm1 2h1v2h-1zm1-2h2v6h-2zm2 2h1v4h-1zm1-1h1v4h-1zm1 1h1v4h-1zm1-1h1v5h-1zm1-1h1v6h-1zm0 27h1v16h-1zm1-25h2v5h-2zm1 24h1v12h-1zm1-23h1v3h-1zm1 0h2v5h-2zm0 24h1v14h-1zm2-23h1v5h-1zm1 0h1v6h-1zm1 0h1v4h-1zm1 2h1v3h-1zm1-1h1v4h-1zm1 1h1v4h-1zm1 1h1v4h-1zm1 0h1v5h-1zm1 1h2v4h-2zm2-1h1v4h-1zm1 1h1v3h-1zm0 35h1v20h-1zm1-34h1v2h-1zm1 1h1v1h-1zm1 1h1v1h-1zm1-1h1v3h-1zm1 1h1v2h-1zm0 16h1v18h-1zm1-17h1v2h-1zm2 0h1v1h-1zm0 31h1v7h-1zm1-33h1v3h-1zm1 0h1v4h-1zm1-2h1v4h-1zm1 0h1v3h-1zm0 47h1v49h-1zm0 73h1v1h-1zm0 10h1v7h-1zm1-132h1v5h-1zm1-1h1v6h-1zm1 1h1v3h-1zm1 0h1v4h-1zm1-1h1v5h-1zm1-2h1v7h-1zm1 1h1v2h-1zm1-1h1v5h-1zm1-1h1v6h-1zm1 0h1v5h-1zm1-2h1v7h-1zm2-2h1v7h-1zm1-1h1v8h-1zm1 0h1v7h-1zm1 1h1v7h-1zm1-1h1v7h-1zm2-1h1v8h-1zm1-2h2v9h-2zm2 3h1v6h-1zm1-1h1v7h-1zm2-2h1v8h-1zm1-1h1v10h-1zm1 4h1v5h-1zm1-1h2v7h-2zm3-3h1v10h-1zm1 4h1v6h-1zm1-2h1v8h-1zm1-1h1v9h-1zm1 1h1v7h-1zm2 1h2v7h-2zm2 0h1v8h-1zm1-2h1v9h-1zm2 3h1v7h-1zm1-1h1v7h-1zm1-1h1v8h-1zm1 3h1v6h-1zm1-1h1v8h-1zm2 1h1v6h-1zm1-1h1v7h-1zm1 1h1v6h-1zm1 1h1v5h-1zm2-1h2v7h-2zm2-1h1v8h-1zm1 1h2v7h-2zm3 2h1v5h-1zm1-4h1v10h-1zm1 2h1v9h-1zm1 2h1v6h-1zm2 0h1v7h-1zm1-1h2v8h-2zm2 2h1v6h-1zm2-1h1v7h-1zm1 1h1v6h-1zm1-1h1v7h-1zm1 2h1v4h-1zm2-1h1v6h-1zm1 0h1v5h-1zm1 2h1v4h-1zm1-2h1v7h-1zm2 0h1v5h-1zm1 0h1v6h-1zm1-2h1v7h-1zm1-1h1v8h-1zm2 0h1v7h-1zm1 1h1v8h-1zm1-1h1v8h-1zm1 1h1v8h-1zm1 0h1v6h-1zm1 0h1v5h-1zm1 0h1v6h-1zm1-1h1v8h-1zm1 1h1v6h-1zm1-1h1v8h-1zm1 1h1v6h-1zm1-1h1v7h-1zm1 1h1v7h-1zm1 2h1v4h-1zm1-2h1v7h-1zm1-1h1v8h-1zm1 2h1v7h-1zm1-1h1v7h-1zm1 1h1v6h-1zm1 0h2v7h-2zm3-1h1v8h-1zm1 0h2v7h-2zm3 1h1v6h-1zm1-1h2v7h-2zm1 30h1v86h-1zm1-30h1v6h-1zm2-1h1v7h-1zm1 2h1v5h-1zm1-2h1v7h-1zm2 0h1v7h-1z"/>
<path fill="#008080" d="M0 0m133 237h1v2h-1zm29-7h1v12h-1zm18-67h1v1h-1zm0 59h1v11h-1zm1-56h1v1h-1zm7 6h1v1h-1zm16 42h1v9h-1zm5-48h1v2h-1zm20-4h1v3h-1zm6 56h1v7h-1zm7 16h1v2h-1zm15-67h1v1h-1zm3 5h1v1h-1zm4 57h1v5h-1zm5-64h1v1h-1zm19-1h1v1h-1zm10 52h1v1h-1zm7-50h1v2h-1zm7 38h1v10h-1zm1 14h1v4h-1zm5-46h1v1h-1zm5-3h1v1h-1zm3 35h1v14h-1zm1-31h1v1h-1zm1-10h1v4h-1zm10 5h1v3h-1zm5-3h1v5h-1zm3 2h1v2h-1zm1-3h1v4h-1zm4-4h1v7h-1zm1-1h1v8h-1zm4-3h1v12h-1zm1-1h1v7h-1zm4 7h1v3h-1zm1-6h1v10h-1zm1 8h1v3h-1zm2-8h1v11h-1zm1 9h1v2h-1zm1-1h1v4h-1zm1-7h2v7h-2zm3 5h1v2h-1zm1-2h1v5h-1zm1-2h1v8h-1zm2-3h1v12h-1zm1 8h1v4h-1zm1-2h1v3h-1zm1 1h1v1h-1zm1-9h1v11h-1zm1 1h1v9h-1zm1 7h1v4h-1zm1 2h1v5h-1zm1-9h1v11h-1zm1 1h1v9h-1zm1 4h1v6h-1zm1 3h1v4h-1zm1-7h1v9h-1zm3 6h1v8h-1zm1-2h1v9h-1zm1-6h1v10h-1zm3-1h1v14h-1zm1 2h1v11h-1zm1 6h1v4h-1zm2-4h1v6h-1zm1 6h1v3h-1zm1-10h1v13h-1zm1-1h1v13h-1zm2-1h1v14h-1zm1-1h1v14h-1zm1 6h1v8h-1zm1-1h1v5h-1zm1 9h1v1h-1zm1-10h1v11h-1zm1 1h1v9h-1zm1-1h1v9h-1zm1 2h1v7h-1zm1 1h1v8h-1zm2-5h1v9h-1zm1-2h2v14h-2zm2-3h1v16h-1zm1 11h1v6h-1zm1 4h1v3h-1zm1-8h1v11h-1zm1 5h1v7h-1zm1 6h1v6h-1zm2 47h1v49h-1zm1-39h1v1h-1zm0 27h1v42h-1zm6-37h1v3h-1zm1-4h1v7h-1zm1-1h1v8h-1zm1 1h1v8h-1zm1 1h1v7h-1zm1-2h1v5h-1zm1 1h1v8h-1zm1-2h1v7h-1zm1-3h1v10h-1zm1 2h1v7h-1zm1-3h1v10h-1zm1 0h1v12h-1zm1 1h1v8h-1zm1 0h1v9h-1zm1 5h1v3h-1zm1-6h1v11h-1zm1 2h1v6h-1zm1 1h1v6h-1zm1-8h1v13h-1zm1 1h1v12h-1zm1 3h1v9h-1zm1-2h1v12h-1zm1 1h1v11h-1zm1 3h1v8h-1zm1 0h1v9h-1zm1 2h1v6h-1zm1-4h1v10h-1zm1-3h1v15h-1zm1 1h1v12h-1zm1 1h1v12h-1zm1-2h1v16h-1zm1 3h1v8h-1zm1 0h1v9h-1zm1-3h1v14h-1zm1 5h1v9h-1zm1-6h1v13h-1zm1-1h1v15h-1zm1 4h1v9h-1zm1-2h1v12h-1zm1 1h1v12h-1zm1-2h1v12h-1zm1-2h1v15h-1zm1 4h1v9h-1zm1 1h1v8h-1zm1-4h1v11h-1zm1-1h1v15h-1zm1 3h1v9h-1zm1-6h1v16h-1zm1 6h1v8h-1zm1-4h1v12h-1zm1-1h1v11h-1zm1-1h1v13h-1zm1-1h1v17h-1zm1 5h1v11h-1zm1-3h1v12h-1zm1-1h1v11h-1zm1-1h1v12h-1zm1-2h1v14h-1zm1 7h1v11h-1zm1-4h1v10h-1zm1-2h1v12h-1zm1 4h1v9h-1zm1-7h1v14h-1zm1 2h1v13h-1zm1 0h1v12h-1zm1-1h1v12h-1zm1-3h1v18h-1zm1 5h1v10h-1zm1-3h1v14h-1zm1 0h1v13h-1zm1-2h1v17h-1zm1 1h1v16h-1zm1 2h1v12h-1zm1 2h1v12h-1zm1-4h1v14h-1zm1-3h1v20h-1zm1 3h1v13h-1zm1 1h1v13h-1zm1-1h1v16h-1zm1 1h1v17h-1zm1 2h1v13h-1zm1 0h1v12h-1zm1 3h1v12h-1zm1 1h1v10h-1zm1-2h1v13h-1zm1-5h1v16h-1zm1 8h1v10h-1zm1 2h1v11h-1zm1 1h1v6h-1zm1-1h1v8h-1zm1-3h1v12h-1zm1 0h1v13h-1zm1 3h1v11h-1zm1 1h1v8h-1zm1 0h1v10h-1zm1 0h1v11h-1zm1-1h1v11h-1zm1-3h1v17h-1zm1 7h1v8h-1zm1 0h1v11h-1zm1 0h1v10h-1zm1-2h1v13h-1zm1 4h1v9h-1zm1-1h1v10h-1zm1-2h1v11h-1zm1 0h1v12h-1zm1 5h1v8h-1zm1 7h1v4h-1zm1 1h1v7h-1zm1 1h1v4h-1zm1-7h1v10h-1zm1 1h2v8h-2zm2-2h1v9h-1zm1 0h1v8h-1zm1 1h1v9h-1zm1 0h1v8h-1zm1-3h1v11h-1zm1 6h1v7h-1zm1-4h1v10h-1zm1 4h1v7h-1zm1-2h1v7h-1zm1 0h1v9h-1zm1 3h1v4h-1zm1-2h1v7h-1zm1-1h1v9h-1zm1 1h1v5h-1zm1-3h1v12h-1zm1 5h1v6h-1zm1-1h1v7h-1zm1 1h1v5h-1zm1-1h1v6h-1zm1-2h1v7h-1zm1 4h1v7h-1zm1-1h1v8h-1zm1 1h1v6h-1zm1-1h2v6h-2zm2 0h2v7h-2zm2-2h1v10h-1zm1 2h1v8h-1zm1 1h1v9h-1zm1 5h1v4h-1zm1-4h1v7h-1zm1-1h1v8h-1zm1 1h1v7h-1zm1 5h1v4h-1zm1-2h1v5h-1zm1 0h1v6h-1zm1 2h1v3h-1zm1 2h1v2h-1zm1 0h1v1h-1zm1 0h1v2h-1zm2 2h1v3h-1zm2-3h1v4h-1zm1 4h1v2h-1zm1-1h1v1h-1zm1 3h1v2h-1zm1 0h2v1h-2zm3 1h1v1h-1zm9 1h1v1h-1zm4-4h1v2h-1zm2-4h1v2h-1zm1-1h1v3h-1zm1-3h1v3h-1zm1 0h1v1h-1zm1-3h1v1h-1zm1-6h1v4h-1zm1-1h1v4h-1zm1-2h1v2h-1zm1-3h1v6h-1zm1-3h1v5h-1zm1-4h1v5h-1zm1-2h1v5h-1zm1-8h1v9h-1zm1-1h1v9h-1zm1-6h1v11h-1zm1 2h1v9h-1zm1-4h1v13h-1zm1 1h1v9h-1zm1-2h1v7h-1zm1 1h1v6h-1zm1-2h1v10h-1zm1 3h1v8h-1zm1-4h1v8h-1zm1 1h1v8h-1zm1 2h1v3h-1zm1-2h1v4h-1zm1-1h1v12h-1zm1 1h1v11h-1zm1 3h1v5h-1zm1 4h1v4h-1zm1-8h1v12h-1zm1 4h1v9h-1zm1-4h1v9h-1zm1 2h1v9h-1zm1 2h1v9h-1zm1-2h1v8h-1zm1 4h1v3h-1zm1-2h1v10h-1zm1 2h1v10h-1zm1 1h1v8h-1zm1-2h1v5h-1zm1 1h1v5h-1zm1-2h1v8h-1zm1 1h1v9h-1zm1-4h1v9h-1zm1 7h1v2h-1zm1-1h1v4h-1zm1-3h1v7h-1zm1 0h1v9h-1zm1-2h1v6h-1zm1 0h1v9h-1zm1 3h1v3h-1zm1-4h1v9h-1zm1 2h1v7h-1zm1-2h1v9h-1zm1-2h1v11h-1zm1 2h1v9h-1zm1-2h1v13h-1zm1 1h1v14h-1zm1 3h1v11h-1zm1-3h1v9h-1zm1 5h1v5h-1zm1-2h1v8h-1zm1 2h1v4h-1zm1-7h1v12h-1zm1 5h1v9h-1zm1-4h1v11h-1zm1 3h1v7h-1zm1 1h1v5h-1zm1-13h1v13h-1zm1 8h1v9h-1zm1 3h1v7h-1zm1-2h1v10h-1zm1 4h1v8h-1zm1-34h1v5h-1zm1 18h1v4h-1zm1 18h1v7h-1zm1 2h1v8h-1zm1 5h1v3h-1zm1-4h1v7h-1zm1 2h2v8h-2zm2 22h1v2h-1zm1-9h1v3h-1zm1-10h1v3h-1zm0 51h1v9h-1zm1-53h1v2h-1zm1-4h1v4h-1zm1-1h1v6h-1zm1-3h1v8h-1zm1-9h1v14h-1zm1 3h1v12h-1zm1 2h1v11h-1zm1 1h1v11h-1zm1 2h2v9h-2zm2-3h1v14h-1zm1 9h1v10h-1zm1 5h1v8h-1zm1 4h1v5h-1zm1 2h1v6h-1zm1-1h1v2h-1zm1-6h1v10h-1zm1-1h1v10h-1zm1-2h1v7h-1zm1-7h1v11h-1zm1-2h1v10h-1zm1 3h1v5h-1zm1 7h1v2h-1zm1 4h1v5h-1zm1 8h1v4h-1zm1 1h1v5h-1zm1 4h1v5h-1zm1-2h1v6h-1zm1-6h1v9h-1zm1 1h1v6h-1zm1-2h1v6h-1zm1-4h1v8h-1zm1-3h1v8h-1zm1 1h1v7h-1zm1 4h1v6h-1zm1 2h1v5h-1zm1 2h1v4h-1zm1 3h1v3h-1zm1-1h1v5h-1zm1 0h1v4h-1zm1 1h1v4h-1zm1 1h1v2h-1zm1-2h1v7h-1zm1 1h1v6h-1zm1-2h1v9h-1zm1 5h1v1h-1zm1-3h1v6h-1zm1 2h1v7h-1zm1 2h1v4h-1zm1-1h1v5h-1zm1-4h1v8h-1zm1 15h1v4h-1zm1-2h1v5h-1zm1-17h1v10h-1zm1-7h1v7h-1zm1-7h1v6h-1zm1-8h1v11h-1zm1-15h1v9h-1zm1 12h1v11h-1zm1 5h1v6h-1zm1-2h1v10h-1zm1 5h1v8h-1zm1-5h1v14h-1zm1 9h1v6h-1zm1-4h1v9h-1zm1 4h1v8h-1zm1 2h1v4h-1zm1-2h1v4h-1zm1-1h1v9h-1zm1-2h1v11h-1zm1 3h1v10h-1zm1 3h1v6h-1zm1 2h1v7h-1zm1-2h1v10h-1zm1 6h1v9h-1zm1 1h1v10h-1zm1 0h1v12h-1zm1 1h1v8h-1zm1 2h1v8h-1zm1-1h1v8h-1zm1-1h1v6h-1zm1 5h1v4h-1zm1-3h1v7h-1zm1 2h1v7h-1zm1 1h1v9h-1zm1-3h1v12h-1zm1 5h1v10h-1zm1 1h1v7h-1zm1-1h1v8h-1zm1 0h1v9h-1zm1 4h1v5h-1zm1-1h1v8h-1zm1 0h1v10h-1zm1 3h1v5h-1zm1 0h1v8h-1zm1 1h1v6h-1zm1 2h1v6h-1zm1-1h1v6h-1zm1 0h1v8h-1zm1 2h1v4h-1zm1 2h1v4h-1zm1 2h1v4h-1zm1-3h1v6h-1zm1 4h1v3h-1zm1 0h1v4h-1zm1 2h1v6h-1zm1-1h1v4h-1zm1-2h1v7h-1zm1 3h1v5h-1zm1 1h1v4h-1zm1-2h1v6h-1zm1 2h1v3h-1zm1 1h1v3h-1zm1 0h1v5h-1zm1 0h1v4h-1zm1 1h1v1h-1zm1 0h1v3h-1zm1 0h1v5h-1zm1-2h1v5h-1zm1 1h1v3h-1zm1 0h1v5h-1zm1 1h1v4h-1zm1 1h1v3h-1zm1-1h1v3h-1zm1-1h1v5h-1zm1 2h3v3h-3zm3-1h1v4h-1zm1 1h1v3h-1zm1 0h1v5h-1zm1 0h1v4h-1zm1 1h2v3h-2zm2-1h1v5h-1zm1 2h1v4h-1zm1 0h1v3h-1zm1 1h1v2h-1zm1 1h1v2h-1zm1-2h1v3h-1zm1 1h1v4h-1zm1 0h1v3h-1zm1 1h1v2h-1zm1 1h1v1h-1zm1 1h3v1h-3zm4 14h1v17h-1zm2-15h1v2h-1zm6 0h2v1h-2zm0 15h1v15h-1zm3-16h1v2h-1zm0 17h1v31h-1zm1-18h1v4h-1zm0 17h1v27h-1zm2-17h1v2h-1zm1-2h1v2h-1zm1 1h1v3h-1zm1 0h1v4h-1zm1 0h1v3h-1zm2-1h1v3h-1zm1-1h1v4h-1zm1-1h1v4h-1zm1 1h1v4h-1zm2-3h1v4h-1zm1 1h1v4h-1zm1-1h2v5h-2zm2-1h1v6h-1zm2 0h1v6h-1zm1 0h1v5h-1zm1 1h1v5h-1zm1-2h2v6h-2zm3 0h1v6h-1zm1 0h1v5h-1zm1-1h1v6h-1zm1 2h2v4h-2zm3-1h2v6h-2zm2 1h2v5h-2zm2-2h1v7h-1zm2 3h1v4h-1zm1-1h1v5h-1zm1 0h1v6h-1zm1-1h1v6h-1zm2 1h1v5h-1zm1-1h1v5h-1zm1 1h1v6h-1zm1 1h1v4h-1zm1 1h1v3h-1zm2-1h2v5h-2zm2 0h1v3h-1zm1-1h1v6h-1zm2 1h1v5h-1zm1 0h1v4h-1zm1 0h2v6h-2zm2 1h1v5h-1zm2-1h1v5h-1zm1 2h1v3h-1zm1 0h1v5h-1zm1-1h1v5h-1zm2 1h1v6h-1zm1 0h1v4h-1zm1 0h1v5h-1zm1 0h1v3h-1zm2 0h1v4h-1zm1 1h1v4h-1zm1-1h1v5h-1zm1-1h1v5h-1zm2 1h1v6h-1zm1-1h1v6h-1zm1 2h2v4h-2zm3-2h1v5h-1zm1 1h2v5h-2zm2-1h1v6h-1zm2-1h1v7h-1zm1 2h1v5h-1zm1 0h2v4h-2zm2-1h1v3h-1zm1-2h1v7h-1zm1 2h1v4h-1zm1 1h1v4h-1zm1-2h1v5h-1zm1 1h2v5h-2zm2-1h1v6h-1zm1 1h1v5h-1zm1-1h1v6h-1zm1 1h1v5h-1zm1 1h1v2h-1zm1 0h1v5h-1zm1 0h1v4h-1zm1-1h1v6h-1zm1 2h1v4h-1zm1-1h1v5h-1zm1 21h1v22h-1zm1-21h1v5h-1zm1-1h1v5h-1zm1 1h1v4h-1zm2-1h1v6h-1zm1 0h1v3h-1zm1 0h1v5h-1zm1-1h1v6h-1zm2 1h1v5h-1zm1-1h1v6h-1zm1 0h1v5h-1zm2 0h1v5h-1z"/>
<path fill="#800080" d="M0 0m97 167h1v1h-1zm10 83h1v11h-1zm9 25h1v2h-1zm25-112h1v1h-1zm4 52h1v19h-1zm2 36h1v3h-1zm6 3h1v4h-1zm1-85h1v2h-1zm12-4h1v2h-1zm7 67h1v5h-1zm15-27h1v11h-1zm10 25h1v6h-1zm5-26h1v29h-1zm18 8h1v12h-1zm11 6h1v2h-1zm15 11h1v3h-1zm2-60h2v2h-2zm2-2h1v1h-1zm4 63h1v2h-1zm12-68h1v1h-1zm4 79h1v19h-1zm16-76h1v3h-1zm0 41h1v12h-1zm2-77h1v6h-1zm3 80h1v3h-1zm6-40h1v2h-1zm10-1h1v4h-1zm1 5h1v1h-1zm13 2h1v1h-1zm4-5h1v3h-1zm1 37h1v6h-1zm1-40h1v3h-1zm1 41h1v2h-1zm1-48h1v2h-1zm1-2h1v5h-1zm0 49h1v1h-1zm5-45h1v2h-1zm1 4h1v2h-1zm1 30h1v15h-1zm2-39h1v1h-1zm1-6h1v6h-1zm1 7h1v7h-1zm4 11h1v2h-1zm16-3h1v2h-1zm1 2h1v1h-1zm3-1h1v4h-1zm4-2h1v1h-1zm2 0h1v2h-1zm3 2h1v2h-1zm4-3h1v7h-1zm5 0h1v3h-1zm2 4h1v2h-1zm4 32h1v36h-1zm1-32h1v2h-1zm6-4h1v3h-1zm2-2h1v8h-1zm4 0h1v8h-1zm1 3h1v7h-1zm1 0h1v1h-1zm1 0h1v2h-1zm4-2h1v7h-1zm1-1h1v5h-1zm1 0h1v7h-1zm1 3h1v4h-1zm1-5h1v8h-1zm1 0h1v10h-1zm1 4h1v7h-1zm1 0h1v4h-1zm1-2h1v9h-1zm1 6h1v1h-1zm1-3h1v3h-1zm2 2h1v1h-1zm1 3h1v2h-1zm1 27h1v19h-1zm3-31h1v3h-1zm0 28h1v4h-1zm6-27h1v4h-1zm1-1h2v4h-2zm4 0h1v5h-1zm2 0h1v4h-1zm1-4h1v5h-1zm1 0h1v3h-1zm1 3h1v1h-1zm1-4h1v7h-1zm1 3h1v3h-1zm1-2h1v4h-1zm1 3h1v1h-1zm1-1h1v1h-1zm1-3h1v7h-1zm1 4h1v3h-1zm2-1h1v5h-1zm1-3h1v7h-1zm1 2h1v6h-1zm1 1h1v5h-1zm1-2h1v3h-1zm1 1h1v7h-1zm1-1h1v4h-1zm1 2h1v4h-1zm1-2h1v8h-1zm1 0h1v6h-1zm1 2h1v5h-1zm1 0h1v1h-1zm1-1h1v4h-1zm1-1h1v5h-1zm1 2h1v4h-1zm1-4h1v8h-1zm1 3h1v4h-1zm1-1h1v5h-1zm1-1h2v6h-2zm2 1h1v5h-1zm1 1h1v4h-1zm1-2h1v7h-1zm1 3h1v2h-1zm1-3h1v6h-1zm1-1h1v7h-1zm1 1h1v5h-1zm1-1h1v6h-1zm1-3h1v7h-1zm1 0h2v9h-2zm2 1h1v7h-1zm1 0h1v9h-1zm1 1h1v5h-1zm1-2h1v8h-1zm1 0h1v7h-1zm1 1h1v4h-1zm1-4h1v11h-1zm1 3h1v3h-1zm1-3h1v10h-1zm1-2h1v14h-1zm1 2h1v8h-1zm1 5h1v6h-1zm1-5h1v10h-1zm1 1h1v8h-1zm1-2h1v7h-1zm1 3h1v6h-1zm1-1h1v7h-1zm1-3h1v10h-1zm1-2h1v10h-1zm1 6h2v7h-2zm2-3h1v6h-1zm1 1h1v8h-1zm1 0h1v10h-1zm1-1h1v9h-1zm1-3h1v12h-1zm1 4h2v8h-2zm2 7h1v1h-1zm1-8h1v10h-1zm1-2h1v11h-1zm1 4h1v10h-1zm1 1h2v8h-2zm2-3h1v11h-1zm1 5h1v7h-1zm1 0h1v6h-1zm1-1h1v6h-1zm1 1h1v6h-1zm1-3h1v12h-1zm1 2h1v9h-1zm1 3h1v6h-1zm1-1h1v8h-1zm1 0h1v5h-1zm1 1h1v8h-1zm1 0h1v7h-1zm1 0h2v6h-2zm2 1h1v6h-1zm1 1h1v7h-1zm1-1h1v7h-1zm1 4h1v2h-1zm1-4h1v7h-1zm1-1h1v9h-1zm1 3h1v6h-1zm1 1h1v5h-1zm1 2h1v5h-1zm1 3h1v2h-1zm1-2h1v2h-1zm1-1h1v5h-1zm1-1h1v5h-1zm1 0h1v4h-1zm1-1h1v7h-1zm1-1h1v8h-1zm1 2h1v4h-1zm1 2h1v2h-1zm1-1h1v5h-1zm1 0h1v4h-1zm1 0h1v5h-1zm1 1h1v1h-1zm1-1h1v4h-1zm1 1h1v1h-1zm1 0h1v5h-1zm1-1h1v6h-1zm1 0h1v4h-1zm1-3h1v8h-1zm1 4h1v4h-1zm1-1h1v5h-1zm1 0h1v6h-1zm1 1h1v5h-1zm1-1h1v6h-1zm1-2h1v8h-1zm1 4h1v2h-1zm1 1h1v2h-1zm1-2h1v2h-1zm4 2h1v1h-1zm4 1h1v3h-1zm1-1h1v2h-1zm1 0h1v4h-1zm1 0h1v3h-1zm2 2h2v1h-2zm2-1h1v1h-1zm1 1h1v3h-1zm1-1h1v2h-1zm2 0h1v3h-1zm1 4h1v2h-1zm2-2h1v1h-1zm4 3h1v2h-1zm0 9h1v1h-1zm4-8h1v1h-1zm6 0h1v1h-1zm4-2h1v1h-1zm3-4h1v4h-1zm2 0h1v1h-1zm1-3h1v2h-1zm1-2h1v3h-1zm1-3h1v5h-1zm1-3h1v7h-1zm1-1h1v5h-1zm1-4h1v8h-1zm1 1h1v4h-1zm1-4h1v7h-1zm1-4h1v8h-1zm1-2h1v6h-1zm1-4h1v7h-1zm1-1h1v10h-1zm1-4h2v9h-2zm2 0h1v11h-1zm1-3h1v10h-1zm1-4h1v15h-1zm1 0h1v13h-1zm1 2h1v11h-1zm1 1h1v11h-1zm1-4h1v14h-1zm1 1h1v8h-1zm1-3h1v18h-1zm1-1h1v18h-1zm1 7h1v12h-1zm1 0h1v13h-1zm1-3h1v12h-1zm1 3h1v9h-1zm1 0h1v12h-1zm1 1h1v9h-1zm1-4h1v12h-1zm1 2h1v14h-1zm1 2h1v11h-1zm1-3h1v14h-1zm1-1h1v15h-1zm1 5h1v8h-1zm1 2h1v6h-1zm1-1h1v8h-1zm1-5h1v15h-1zm1 1h1v13h-1zm1 1h1v9h-1zm1 2h1v7h-1zm1-4h1v14h-1zm1 0h1v15h-1zm1 1h1v10h-1zm1 0h1v14h-1zm1 2h1v10h-1zm1-5h1v15h-1zm1 3h1v12h-1zm1-3h1v14h-1zm1 2h1v13h-1zm1 0h1v14h-1zm1 0h1v13h-1zm1 0h1v12h-1zm1 0h1v11h-1zm1 2h1v9h-1zm1 2h1v12h-1zm1 0h1v9h-1zm1-5h1v10h-1zm1 1h1v10h-1zm1 1h1v8h-1zm1-2h1v15h-1zm1 1h1v12h-1zm1 2h1v10h-1zm1-2h1v11h-1zm1-1h1v13h-1zm1-1h1v14h-1zm1-5h1v18h-1zm1 4h1v10h-1zm1 1h1v11h-1zm1 1h1v13h-1zm1 2h1v8h-1zm1-37h1v6h-1zm1 17h1v5h-1zm1 21h1v13h-1zm1 3h1v12h-1zm1 0h1v10h-1zm1 0h1v11h-1zm1 3h1v7h-1zm1 0h1v8h-1zm1 16h1v6h-1zm1-8h1v8h-1zm1-10h1v11h-1zm1-3h1v13h-1zm1-2h1v15h-1zm1 1h1v15h-1zm1-1h1v11h-1zm1-3h1v13h-1zm1 1h1v11h-1zm1 1h1v8h-1zm1 1h1v12h-1zm1 0h1v9h-1zm1 0h1v12h-1zm1 2h1v14h-1zm1 5h1v9h-1zm1 3h1v7h-1zm1 1h1v10h-1zm1 3h1v7h-1zm1-5h1v12h-1zm1 2h1v6h-1zm1-1h1v8h-1zm1-5h1v10h-1zm1-3h1v11h-1zm1-3h1v15h-1zm1-2h1v15h-1zm1 4h1v14h-1zm1 7h1v13h-1zm1 7h1v5h-1zm1 2h1v6h-1zm1 4h1v7h-1zm1-1h1v5h-1zm1-3h1v7h-1zm1-2h1v9h-1zm1-2h1v8h-1zm1-2h1v9h-1zm1-3h1v9h-1zm1 0h1v13h-1zm1 3h1v6h-1zm1 1h1v8h-1zm1 1h1v7h-1zm1 2h1v10h-1zm1 1h1v8h-1zm1-1h1v9h-1zm1 1h1v8h-1zm1-1h1v8h-1zm1 3h1v6h-1zm1 0h1v8h-1zm1 1h1v4h-1zm1-3h1v9h-1zm1 2h1v7h-1zm1 3h1v5h-1zm1-1h1v6h-1zm1 0h1v9h-1zm1-1h1v6h-1zm1 11h1v3h-1zm1-1h1v4h-1zm1-12h1v5h-1zm1-10h1v7h-1zm1-8h1v12h-1zm1-3h1v11h-1zm1-17h1v10h-1zm1 14h1v18h-1zm1 0h1v16h-1zm1 2h1v13h-1zm1 3h1v12h-1zm1 1h1v11h-1zm1 1h1v10h-1zm1-1h1v12h-1zm1 3h1v11h-1zm1-2h1v13h-1zm1-2h1v13h-1zm1 4h1v10h-1zm1 0h1v12h-1zm1 2h1v11h-1zm1-1h1v13h-1zm1 3h1v9h-1zm1 1h1v12h-1zm1 5h1v10h-1zm1 2h1v8h-1zm1 2h1v8h-1zm1-3h1v6h-1zm1 2h1v9h-1zm1-1h1v11h-1zm1-3h1v13h-1zm1 3h1v12h-1zm1 0h1v11h-1zm1 2h1v9h-1zm1 3h1v5h-1zm1 0h1v7h-1zm1 3h1v5h-1zm1-2h1v8h-1zm1 0h1v5h-1zm1 1h1v7h-1zm1 0h1v9h-1zm1 2h1v9h-1zm1 2h1v5h-1zm1-2h1v7h-1zm1 3h1v4h-1zm1-1h1v6h-1zm1 2h1v4h-1zm1-1h1v7h-1zm1 2h1v4h-1zm1-2h1v7h-1zm1 2h1v5h-1zm1 2h1v3h-1zm1-1h1v5h-1zm1 1h1v5h-1zm1 1h1v6h-1zm1 4h1v2h-1zm1-3h1v6h-1zm1 1h1v5h-1zm1 1h1v3h-1zm1 0h1v4h-1zm1 0h1v3h-1zm1-1h1v5h-1zm1 1h1v4h-1zm1 2h1v2h-1zm1-1h1v2h-1zm1-2h1v6h-1zm1 2h1v3h-1zm1 2h1v2h-1zm1-2h1v4h-1zm1-1h1v4h-1zm1 2h1v1h-1zm1 0h1v2h-1zm1 0h1v3h-1zm1-1h1v4h-1zm2 1h1v2h-1zm1 0h1v3h-1zm1 0h1v2h-1zm1 0h2v3h-2zm2 2h1v2h-1zm2-1h2v3h-2zm2 1h1v2h-1zm2 0h1v3h-1zm1 0h1v1h-1zm5 1h1v1h-1zm2 1h1v1h-1zm3-2h1v3h-1zm1 0h1v2h-1zm2 2h1v1h-1zm1-1h1v1h-1zm3 0h1v2h-1zm1-3h1v4h-1zm1 3h1v2h-1zm2 0h1v1h-1zm8-1h1v1h-1zm2-1h1v3h-1zm1 0h1v2h-1zm1-1h1v4h-1zm1 1h1v2h-1zm2-3h1v5h-1zm1 2h1v2h-1zm1 0h1v3h-1zm1-1h1v2h-1zm1 1h1v3h-1zm2 0h1v1h-1zm1-2h1v4h-1zm1 1h1v2h-1zm1 0h2v3h-2zm3-1h1v3h-1zm1-1h1v4h-1zm1 0h3v5h-3zm4 1h1v4h-1zm1 0h1v3h-1zm1 0h1v4h-1zm1 0h1v2h-1zm1 1h1v3h-1zm2-1h2v4h-2zm2 1h1v4h-1zm1-1h1v3h-1zm2 0h1v4h-1zm1-1h1v5h-1zm1 2h1v3h-1zm1-1h1v2h-1zm1 0h1v3h-1zm2 1h2v2h-2zm2-2h1v5h-1zm1 2h1v2h-1zm2 0h1v3h-1zm1-1h1v4h-1zm1 2h1v3h-1zm1 0h1v2h-1zm1 1h1v2h-1zm2-2h1v3h-1zm1 0h1v4h-1zm1 2h1v2h-1zm1-1h1v3h-1zm3 0h1v3h-1zm1 2h1v2h-1zm1-3h1v4h-1zm2 1h1v3h-1zm1 1h1v2h-1zm1 1h1v2h-1zm1-2h1v4h-1zm2 2h1v3h-1zm1-1h1v1h-1zm1 1h1v1h-1zm1-1h1v3h-1zm2-1h1v3h-1zm1 1h1v1h-1zm2 0h1v3h-1zm2 0h2v1h-2zm2-1h1v1h-1zm1 0h1v3h-1zm2 1h1v1h-1zm1-2h1v3h-1zm2 0h1v4h-1zm1 1h1v2h-1zm1 0h1v3h-1zm1 1h1v1h-1zm1-1h1v2h-1zm1 0h1v3h-1zm1 0h1v1h-1zm2 1h4v2h-4zm4 0h1v1h-1zm3-1h1v3h-1zm1 1h1v1h-1zm3-3h1v5h-1zm1 2h2v3h-2zm3 0h1v3h-1zm2-1h1v4h-1zm2 1h1v2h-1z"/>
<path fill="#808000" d="M0 0m101 256h1v14h-1zm1-90h1v3h-1zm1 70h1v52h-1zm1 31h1v4h-1zm1-23h1v19h-1zm2-1h1v7h-1zm7 13h1v20h-1zm4 0h1v8h-1zm18 1h1v1h-1zm4-88h1v1h-1zm22 41h1v20h-1zm5 37h1v1h-1zm3 1h1v5h-1zm5-80h1v2h-1zm11 47h1v26h-1zm1-44h1v2h-1zm0 56h1v3h-1zm4 0h1v13h-1zm2-4h1v9h-1zm12 350h1v29h-1zm1-1h1v79h-1zm1-1h1v80h-1zm1 0h1v23h-1zm1-1h1v24h-1zm1-286h2v17h-2zm0 285h1v25h-1zm1-1h1v35h-1zm1-1h1v29h-1zm1-1h1v34h-1zm1-308h1v1h-1zm0 307h1v41h-1zm1-1h1v41h-1zm1-2h1v39h-1zm1-1h1v90h-1zm1-1h1v91h-1zm1-1h1v45h-1zm1-1h1v41h-1zm1-2h1v43h-1zm1-1h1v48h-1zm1-2h1v93h-1zm1-1h1v91h-1zm1-2h1v49h-1zm1-2h1v42h-1zm1-1h1v55h-1zm1-2h1v83h-1zm1-2h1v41h-1zm1-2h1v60h-1zm1-376h1v1h-1zm0 375h1v60h-1zm1-371h1v2h-1zm0 369h1v62h-1zm1-338h1v30h-1zm0 336h1v62h-1zm1-371h1v3h-1zm0 369h1v55h-1zm1-2h1v110h-1zm1-2h1v119h-1zm1-364h1v2h-1zm0 362h1v120h-1zm1-2h1v123h-1zm1-2h1v78h-1zm1-2h1v77h-1zm1-300h1v2h-1zm0 298h1v82h-1zm1-2h1v83h-1zm1-2h1v83h-1zm1-296h1v8h-1zm0 294h1v126h-1zm1-2h1v77h-1zm1-1h1v87h-1zm1-2h1v87h-1zm1-2h1v75h-1zm1-2h1v89h-1zm1-2h1v90h-1zm1-1h1v90h-1zm1-1h1v140h-1zm1-1h1v83h-1zm1-2h1v86h-1zm1-1h1v97h-1zm1-1h1v96h-1zm1 0h1v98h-1zm1-1h1v86h-1zm1-274h1v5h-1zm0 273h1v155h-1zm1 0h1v92h-1zm1 0h1v155h-1zm1-1h1v156h-1zm1 0h1v86h-1zm1 1h1v68h-1zm1 0h1v78h-1zm1 0h1v79h-1zm1 1h1v75h-1zm1 0h1v71h-1zm1 0h1v70h-1zm1 0h2v154h-2zm1-323h1v1h-1zm0 59h1v10h-1zm1 264h1v68h-1zm1 0h1v154h-1zm1 0h1v83h-1zm1-1h1v89h-1zm1-1h1v89h-1zm1-1h1v82h-1zm1-1h1v158h-1zm1-276h1v14h-1zm0 277h1v150h-1zm1 1h1v149h-1zm1 1h1v98h-1zm1 1h1v97h-1zm1 0h1v106h-1zm1 1h1v92h-1zm1 0h1v105h-1zm1 0h2v106h-2zm2 0h1v153h-1zm1-361h1v7h-1zm0 362h1v108h-1zm1-290h1v8h-1zm0 290h1v109h-1zm1-338h1v3h-1zm0 338h1v95h-1zm1 0h1v107h-1zm1-333h1v2h-1zm0 334h1v151h-1zm1 0h1v102h-1zm1 0h1v151h-1zm1 0h1v92h-1zm1 0h1v100h-1zm1 1h1v98h-1zm1 0h1v97h-1zm1-282h1v8h-1zm0 282h1v87h-1zm1 1h1v97h-1zm1 1h1v98h-1zm1 1h1v147h-1zm1 1h1v95h-1zm1 1h1v82h-1zm1 2h1v143h-1zm1-336h1v1h-1zm0 337h1v75h-1zm1-294h1v1h-1zm0 296h1v75h-1zm1 1h1v84h-1zm1 2h1v68h-1zm1 1h1v83h-1zm1-345h1v3h-1zm0 347h1v121h-1zm1 1h1v63h-1zm1 2h1v131h-1zm1 2h1v55h-1zm1 1h1v66h-1zm1 1h1v52h-1zm1 2h1v51h-1zm1-355h1v2h-1zm0 30h1v9h-1zm0 327h1v59h-1zm1-362h1v1h-1zm0 363h1v57h-1zm1-361h1v1h-1zm0 363h1v39h-1zm1 2h1v49h-1zm1-361h1v2h-1zm0 364h1v115h-1zm1 2h1v46h-1zm1-374h1v6h-1zm0 376h1v45h-1zm1 2h1v43h-1zm1-334h1v1h-1zm0 336h1v40h-1zm1-339h1v3h-1zm0 342h1v104h-1zm1-371h1v1h-1zm0 373h1v102h-1zm1 2h1v40h-1zm1 2h1v35h-1zm1 1h1v97h-1zm1 2h1v35h-1zm1 1h1v38h-1zm1-401h1v12h-1zm0 403h1v33h-1zm1-393h1v7h-1zm0 395h1v85h-1zm1-318h1v19h-1zm0 319h1v27h-1zm1 2h1v29h-1zm1 1h1v29h-1zm1-405h1v3h-1zm0 407h1v26h-1zm1-408h1v1h-1zm0 409h1v23h-1zm2-362h1v6h-1zm2-41h1v2h-1zm2 5h1v4h-1zm3 32h1v3h-1zm1-33h1v5h-1zm0 26h1v14h-1zm1-26h1v4h-1zm11 30h1v9h-1zm16-26h1v2h-1zm33-1h1v2h-1zm1 0h1v1h-1zm1-2h1v3h-1zm1 2h1v2h-1zm1 1h1v1h-1zm1-3h1v1h-1zm1 3h1v1h-1zm1-2h1v3h-1zm3-1h1v1h-1zm3 23h1v20h-1zm1 0h1v8h-1zm1-22h1v2h-1zm1 5h1v1h-1zm1-2h2v1h-2zm2-3h1v1h-1zm0 23h1v5h-1zm1-27h1v6h-1zm9 2h1v2h-1zm11 2h1v1h-1zm1-1h1v3h-1zm2 1h1v1h-1zm2 1h1v2h-1zm7-3h1v1h-1zm2 1h1v1h-1zm1 1h1v2h-1zm2-1h1v3h-1zm1 0h1v2h-1zm1-1h1v2h-1zm2 1h1v3h-1zm2-2h1v3h-1zm2 1h1v2h-1zm1 1h1v2h-1zm1-1h1v3h-1zm1-3h1v7h-1zm1 2h1v5h-1zm1 1h1v2h-1zm2 0h1v2h-1zm1-2h1v5h-1zm1 1h1v1h-1zm1 0h1v3h-1zm1-4h1v7h-1zm2-2h1v8h-1zm1 4h1v1h-1zm2-2h1v5h-1zm1 3h1v2h-1zm1 0h1v3h-1zm1-2h1v5h-1zm1-3h1v7h-1zm1 2h1v6h-1zm1 0h1v8h-1zm1 4h1v3h-1zm1-6h1v7h-1zm1 3h1v5h-1zm1 2h1v4h-1zm1-6h1v9h-1zm1 5h1v5h-1zm1 0h1v6h-1zm1-1h1v4h-1zm1 4h1v1h-1zm1-5h1v5h-1zm1 2h1v4h-1zm1-2h1v6h-1zm1 1h1v4h-1zm1-1h1v5h-1zm1 3h1v3h-1zm1-1h2v5h-2zm2 2h1v2h-1zm1 0h1v1h-1zm2-3h1v5h-1zm1 1h1v5h-1zm1 3h1v1h-1zm1-1h1v3h-1zm1 0h1v4h-1zm1 2h1v1h-1zm1-4h1v7h-1zm1 4h1v4h-1zm1-1h1v4h-1zm1-1h2v6h-2zm2 1h1v4h-1zm1 4h1v2h-1zm1-1h1v1h-1zm2-2h1v4h-1zm1 1h1v1h-1zm3 2h2v1h-2zm2-2h1v6h-1zm2 1h1v2h-1zm2 1h1v1h-1zm2-2h2v4h-2zm6 1h1v2h-1zm2 2h1v1h-1zm3-1h2v1h-2zm7-1h1v3h-1zm1 1h1v1h-1zm1-2h1v2h-1zm1 0h1v4h-1zm1-2h1v4h-1zm1 2h1v4h-1zm1 1h1v3h-1zm1-2h1v4h-1zm1 0h1v6h-1zm1 2h1v1h-1zm2 1h1v2h-1zm2 1h1v2h-1zm1-1h1v2h-1zm2 1h1v1h-1zm1-1h1v2h-1zm3 0h1v3h-1zm3 1h1v1h-1zm6 3h1v1h-1zm7 16h1v1h-1zm1-1h1v1h-1zm6-17h1v2h-1zm1 1h2v1h-2zm2-4h1v2h-1zm1 1h1v1h-1zm1-2h1v1h-1zm1-1h1v2h-1zm1-1h1v2h-1zm1-1h1v3h-1zm1-3h1v4h-1zm1-1h1v5h-1zm1-3h1v5h-1zm1-1h1v6h-1zm1-3h1v7h-1zm1-4h1v11h-1zm1-3h1v11h-1zm1 2h1v7h-1zm1-5h1v10h-1zm1 0h1v11h-1zm1 2h1v8h-1zm1-4h1v13h-1zm1 1h1v11h-1zm1-2h1v10h-1zm1 0h1v9h-1zm1 1h1v9h-1zm1-1h1v12h-1zm1-5h1v18h-1zm1 7h1v10h-1zm1-1h1v10h-1zm1 1h1v9h-1zm1 1h1v8h-1zm1-4h1v13h-1zm1 0h1v14h-1zm1 3h1v9h-1zm1-2h1v13h-1zm1-1h1v13h-1zm1 4h1v9h-1zm1-1h1v10h-1zm1 0h1v11h-1zm1 0h1v8h-1zm1-2h2v15h-2zm2 1h1v10h-1zm1 2h1v11h-1zm1-1h1v9h-1zm1-3h1v12h-1zm1 0h1v14h-1zm1 3h1v12h-1zm1 1h1v9h-1zm1-4h1v12h-1zm1 4h1v9h-1zm1-2h1v11h-1zm1 0h1v10h-1zm1 0h1v11h-1zm1-1h1v12h-1zm1 1h1v10h-1zm1 1h1v8h-1zm1-1h1v12h-1zm1-1h1v10h-1zm1-1h2v12h-2zm2 5h1v7h-1zm1-3h1v10h-1zm1-4h1v14h-1zm1 1h1v12h-1zm1-1h1v14h-1zm1 5h1v10h-1zm1-2h2v12h-2zm2-1h1v11h-1zm1 1h1v10h-1zm1 0h1v9h-1zm1-1h1v8h-1zm1-4h1v14h-1zm1 2h1v11h-1zm1 3h1v9h-1zm1-3h1v14h-1zm1-39h1v10h-1zm1 16h1v8h-1zm1 29h1v8h-1zm1 2h1v8h-1zm1-2h1v11h-1zm1 1h1v10h-1zm1-1h1v12h-1zm1 1h1v13h-1zm1 14h1v8h-1zm1-6h1v7h-1zm1-7h1v10h-1zm1-1h1v10h-1zm1 0h1v8h-1zm1 1h1v5h-1zm1-5h1v10h-1zm1-1h1v10h-1zm1-1h1v12h-1zm1-2h1v17h-1zm1 5h1v10h-1zm1-3h1v13h-1zm1 3h1v10h-1zm1 4h1v7h-1zm1 0h1v10h-1zm1 1h1v10h-1zm1 4h1v7h-1zm1 0h1v9h-1zm1 0h1v7h-1zm1-4h1v12h-1zm1 1h1v9h-1zm1-3h1v12h-1zm1-2h1v10h-1zm1 1h1v7h-1zm1-2h1v11h-1zm1 3h1v11h-1zm1 6h1v6h-1zm1-1h1v9h-1zm1 3h1v8h-1zm1 5h1v6h-1zm1-3h1v7h-1zm1-1h1v5h-1zm1 0h1v6h-1zm1-3h1v8h-1zm1-1h1v9h-1zm1-3h1v11h-1zm1 4h1v7h-1zm1-4h1v12h-1zm1 3h1v10h-1zm1 0h1v11h-1zm1 5h1v6h-1zm1-1h1v8h-1zm1 0h1v6h-1zm1 0h1v9h-1zm1-1h1v8h-1zm1 1h1v7h-1zm1 2h1v6h-1zm1-3h1v9h-1zm1 2h1v8h-1zm1 0h1v7h-1zm1 1h1v7h-1zm1 0h1v6h-1zm1 3h1v4h-1zm1-4h1v8h-1zm1 8h1v5h-1zm1 0h1v4h-1zm1-11h1v9h-1zm1-8h1v13h-1zm1-3h1v11h-1zm1-4h1v11h-1zm1-18h1v29h-1zm1 22h1v5h-1zm1-2h1v14h-1zm1-1h1v12h-1zm1 2h1v11h-1zm1 0h1v12h-1zm1 0h1v13h-1zm1 1h1v12h-1zm1 2h1v10h-1zm1 0h1v11h-1zm1-2h1v13h-1zm1 1h1v10h-1zm1 2h1v10h-1zm1 1h1v6h-1zm1 1h1v8h-1zm1-1h1v10h-1zm1 4h1v8h-1zm1 3h1v6h-1zm1 0h1v8h-1zm1 2h1v5h-1zm1-5h1v10h-1zm1 5h1v6h-1zm1 1h1v4h-1zm1-1h1v6h-1zm1 2h1v6h-1zm1-1h1v6h-1zm1 0h1v7h-1zm1-1h1v7h-1zm1 2h1v7h-1zm1 1h1v4h-1zm1 1h1v4h-1zm1-3h1v9h-1zm1 3h1v5h-1zm1 2h1v5h-1zm1 2h1v2h-1zm1-2h1v5h-1zm1 0h1v4h-1zm1 0h1v5h-1zm1 1h2v5h-2zm2 2h1v2h-1zm1-1h1v5h-1zm1 1h1v4h-1zm1 0h2v5h-2zm2 1h1v4h-1zm1 1h1v4h-1zm1 2h1v3h-1zm1 0h1v2h-1zm1 1h1v3h-1zm1 0h1v2h-1zm2 0h1v2h-1zm1-1h1v2h-1zm1 1h2v2h-2zm4 1h1v1h-1zm2 0h1v1h-1zm4-1h1v1h-1zm1 1h1v1h-1zm4 0h1v1h-1zm3 0h1v2h-1zm8 0h2v1h-2zm2-1h1v4h-1zm1 2h1v3h-1zm1-1h1v1h-1zm3 2h1v1h-1zm1-1h2v2h-2zm2 1h1v2h-1zm2-3h1v3h-1zm1 3h1v2h-1zm1-1h1v3h-1zm2 0h1v3h-1zm3 1h1v1h-1zm2-1h1v2h-1zm1-1h1v2h-1zm1 1h1v3h-1zm2-2h1v2h-1zm1-2h1v2h-1zm3 3h1v1h-1zm3 0h1v2h-1zm4 0h1v1h-1zm3-2h1v3h-1zm3 0h1v1h-1zm1 1h1v2h-1zm1-1h1v3h-1zm1 1h2v2h-2zm3-1h2v3h-2zm2 1h1v1h-1zm1 0h2v2h-2zm3 0h1v3h-1zm1-1h1v2h-1zm1 1h1v1h-1zm1-2h1v5h-1zm1 2h1v2h-1zm3 0h1v2h-1zm1 1h1v2h-1zm1-2h1v2h-1zm2 1h1v3h-1zm1 0h1v1h-1zm3-1h1v1h-1zm7 1h1v1h-1zm3 0h1v2h-1zm1 1h1v1h-1zm2-1h1v1h-1zm2 1h2v1h-2zm4 0h1v1h-1zm2 0h1v2h-1zm2 0h2v1h-2zm2 1h2v1h-2zm5-1h1v2h-1zm3 0h1v1h-1zm8 0h1v1h-1zm9-1h1v2h-1zm1 1h1v2h-1zm6 0h1v1h-1zm8 0h1v1h-1zm2 0h1v1h-1zm6-1h1v1h-1z"/>
<path fill="#808080" d="M0 0m104 245h1v22h-1zm13-12h1v20h-1zm2-22h1v12h-1zm2-45h1v3h-1zm0 74h1v16h-1zm4-1h1v12h-1zm5-68h1v2h-1zm6 68h1v18h-1zm29-6h1v8h-1zm2 4h1v10h-1zm5-12h1v21h-1zm1 6h1v1h-1zm5-25h1v11h-1zm4-34h1v1h-1zm9-5h1v3h-1zm6 56h1v10h-1zm1 2h1v5h-1zm2-65h1v2h-1zm2 50h1v16h-1zm3 21h1v29h-1zm0 53h1v17h-1zm9-38h1v12h-1zm1-15h1v14h-1zm1-6h1v8h-1zm2-52h1v1h-1zm0 54h1v3h-1zm7-11h1v14h-1zm2-6h1v25h-1zm4 4h1v10h-1zm2-53h1v4h-1zm2 8h1v2h-1zm7 57h1v8h-1zm1 1h1v10h-1zm1-54h1v1h-1zm4-17h1v2h-1zm5 43h1v33h-1zm4-31h1v2h-1zm0 54h1v2h-1zm3-3h1v2h-1zm4-56h1v5h-1zm14 9h1v1h-1zm2 259h1v4h-1zm2 6h1v1h-1zm1-1h1v2h-1zm1-219h1v8h-1zm4 217h1v12h-1zm1-292h1v8h-1zm3 26h1v2h-1zm2 39h1v13h-1zm1 5h1v10h-1zm3 228h1v4h-1zm1-229h1v7h-1zm1-41h1v1h-1zm1-6h1v3h-1zm1 271h1v9h-1zm1-268h1v2h-1zm1 269h1v12h-1zm2 1h1v1h-1zm2-265h1v1h-1zm2 42h1v7h-1zm1 12h1v1h-1zm0 226h1v2h-1zm2-18h1v13h-1zm2-212h1v3h-1zm1-55h1v5h-1zm1 265h1v10h-1zm4 9h1v2h-1zm2-3h1v12h-1zm4 12h1v8h-1zm2-275h1v1h-1zm1-13h1v6h-1zm0 52h1v1h-1zm3 231h1v5h-1zm3 4h1v4h-1zm1-218h1v10h-1zm1-60h1v3h-1zm0 276h1v7h-1zm1-278h1v3h-1zm3-4h1v5h-1zm0 281h1v10h-1zm2-292h1v12h-1zm1 11h1v5h-1zm1 289h1v4h-1zm1-8h1v7h-1zm1 0h1v8h-1zm1-290h1v10h-1zm2 288h1v13h-1zm1-232h1v2h-1zm2-50h1v5h-1zm0 277h1v13h-1zm1 6h1v12h-1zm1-275h1v2h-1zm1-8h1v11h-1zm0 287h1v5h-1zm2-296h1v14h-1zm1-1h1v15h-1zm0 56h1v6h-1zm1-43h1v9h-1zm1 3h1v5h-1zm0 288h1v4h-1zm1-287h1v2h-1zm1-12h1v5h-1zm1 11h1v1h-1zm2 1h1v4h-1zm2-5h1v8h-1zm0 291h1v3h-1zm2-291h1v6h-1zm1 3h1v2h-1zm1-1h1v4h-1zm1-13h1v6h-1zm1 16h1v2h-1zm1-2h1v6h-1zm1-3h1v6h-1zm0 285h1v6h-1zm1-286h1v6h-1zm1 10h1v1h-1zm1 274h1v11h-1zm1-282h1v2h-1zm0 297h1v1h-1zm2-294h1v1h-1zm1-1h1v6h-1zm1 1h1v5h-1zm1 2h1v2h-1zm0 281h1v5h-1zm2-288h1v5h-1zm0 288h1v13h-1zm1-287h1v5h-1zm0 290h1v12h-1zm2-284h1v1h-1zm0 292h1v2h-1zm1-299h1v2h-1zm1 35h1v4h-1zm0 257h1v13h-1zm1-298h1v10h-1zm1 307h1v3h-1zm1-7h1v12h-1zm2-295h1v1h-1zm0 294h1v13h-1zm1-286h1v2h-1zm1 289h1v9h-1zm2-292h1v2h-1zm1 3h1v1h-1zm3-3h1v2h-1zm0 22h1v4h-1zm1-30h1v10h-1zm0 36h1v2h-1zm1-29h1v5h-1zm1 0h1v4h-1zm3 6h1v2h-1zm1 299h1v5h-1zm2 1h1v6h-1zm1-300h1v1h-1zm4-4h1v1h-1zm0 297h1v11h-1zm1-301h1v4h-1zm3 8h1v1h-1zm0 23h1v2h-1zm7-25h1v4h-1zm1 1h1v3h-1zm2-1h1v1h-1zm1 0h1v3h-1zm2-8h1v7h-1zm0 304h1v13h-1zm1-295h1v2h-1zm1-5h1v7h-1zm0 311h1v3h-1zm1-306h1v2h-1zm1-2h1v2h-1zm1-4h1v1h-1zm1 1h1v4h-1zm1 2h1v5h-1zm1-1h1v5h-1zm1-1h1v7h-1zm2-1h1v5h-1zm1 3h1v2h-1zm0 309h1v7h-1zm1-309h1v3h-1zm1-6h1v4h-1zm1 8h1v3h-1zm0 318h1v3h-1zm2-319h1v4h-1zm0 18h1v2h-1zm1-17h1v2h-1zm1-5h1v6h-1zm0 314h1v7h-1zm2-313h1v6h-1zm1 2h1v4h-1zm1 2h1v3h-1zm1-2h1v5h-1zm1 1h1v1h-1zm1-4h1v6h-1zm1 3h1v6h-1zm1 23h1v1h-1zm2-20h1v2h-1zm1 316h1v6h-1zm1-316h1v1h-1zm1-1h1v3h-1zm1 314h1v8h-1zm4-315h1v1h-1zm3 1h1v3h-1zm1 0h1v1h-1zm1 1h2v1h-2zm2-2h1v3h-1zm0 316h1v12h-1zm1-319h1v4h-1zm1 3h1v1h-1zm2-2h1v4h-1zm1 2h1v1h-1zm1 0h1v2h-1zm1 331h1v6h-1zm1-8h1v5h-1zm1-327h1v2h-1zm2 2h1v1h-1zm2 1h1v1h-1zm1 0h1v2h-1zm1-1h1v3h-1zm0 329h1v7h-1zm1-328h1v4h-1zm1 2h1v1h-1zm2 336h1v1h-1zm1-338h1v3h-1zm2 338h1v8h-1zm1-337h1v1h-1zm0 340h1v7h-1zm1 1h1v6h-1zm1-343h1v2h-1zm0 343h1v2h-1zm1-342h1v2h-1zm1-1h1v1h-1zm0 345h1v2h-1zm2-344h1v2h-1zm0 344h1v2h-1zm1-345h1v3h-1zm0 347h1v4h-1zm1-347h1v2h-1zm1 343h1v6h-1zm1-341h1v2h-1zm0 337h1v11h-1zm1-336h1v2h-1zm0 345h1v8h-1zm2-1h1v10h-1zm1 0h1v5h-1zm1-346h1v3h-1zm0 350h1v3h-1zm3-349h1v1h-1zm0 350h1v4h-1zm1 1h1v5h-1zm1-351h1v1h-1zm0 352h1v6h-1zm1-350h1v1h-1zm0 352h1v2h-1zm1-351h1v1h-1zm1-1h1v1h-1zm0 352h1v10h-1zm1-1h1v8h-1zm1 1h1v3h-1zm1 2h1v5h-1zm1-352h1v1h-1zm1-2h1v1h-1zm0 348h1v17h-1zm1-352h1v6h-1zm0 360h1v2h-1zm1-2h1v2h-1zm1-355h1v3h-1zm0 345h1v10h-1zm1-346h1v2h-1zm1 0h1v4h-1zm1 3h1v1h-1zm0 355h1v8h-1zm1 0h1v5h-1zm2-355h1v3h-1zm0 352h1v7h-1zm1-352h1v1h-1zm0 355h1v9h-1zm1-358h1v3h-1zm0 350h1v3h-1zm3-346h1v1h-1zm0 359h2v5h-2zm2 2h1v4h-1zm1-364h1v3h-1zm0 365h2v5h-2zm2-367h1v5h-1zm0 370h1v3h-1zm1-366h1v1h-1zm0 363h1v3h-1zm1-367h1v6h-1zm0 365h1v3h-1zm1-3h1v5h-1zm1-358h1v1h-1zm0 354h1v6h-1zm1-356h1v3h-1zm0 353h1v8h-1zm1 0h1v5h-1zm1-351h1v2h-1zm0 349h1v4h-1zm1-2h1v5h-1zm1-1h1v4h-1zm1-346h2v1h-2zm0 344h1v4h-1zm1-4h1v7h-1zm1-340h1v2h-1zm0 341h1v4h-1zm1-340h1v3h-1zm0 331h1v11h-1zm1-332h1v2h-1zm0 337h1v5h-1zm1-338h1v1h-1zm0 338h1v2h-1zm1-2h1v3h-1zm1-336h1v3h-1zm0 334h1v3h-1zm1-1h1v3h-1zm1-331h1v1h-1zm0 329h1v2h-1zm1-330h1v1h-1zm0 323h1v8h-1zm1-7h1v14h-1zm1-317h1v1h-1zm0 319h1v11h-1zm1 4h1v4h-1zm1-321h1v3h-1zm0 321h1v3h-1zm1-321h1v2h-1zm0 319h1v4h-1zm1-1h1v2h-1zm1-318h1v1h-1zm0 309h1v10h-1zm1-310h1v2h-1zm0 314h1v5h-1zm1-313h1v3h-1zm0 312h1v4h-1zm1-312h1v1h-1zm0 310h1v4h-1zm1-1h1v4h-1zm1-2h1v5h-1zm1-1h1v4h-1zm1-306h1v2h-1zm0 305h1v3h-1zm1-1h1v3h-1zm1-3h1v4h-1zm1-5h1v7h-1zm1-295h1v1h-1zm0 297h1v4h-1zm1-5h1v9h-1zm1-281h1v1h-1zm0 286h1v3h-1zm1-1h1v2h-1zm1-2h1v3h-1zm1-1h1v4h-1zm1-283h1v1h-1zm0 284h1v4h-1zm1-283h2v2h-2zm0 283h1v2h-1zm1-1h2v4h-2zm1-282h1v5h-1zm1 0h1v7h-1zm0 282h2v3h-2zm1-281h1v5h-1zm1 282h1v2h-1zm1-284h1v4h-1zm0 284h1v3h-1zm1-283h1v3h-1zm0 283h1v2h-1zm1-283h1v2h-1zm0 281h3v4h-3zm1-282h1v1h-1zm1-1h1v1h-1zm1 286h1v3h-1zm1 1h1v4h-1zm1-295h1v1h-1zm0 299h1v2h-1zm1-302h1v3h-1zm0 302h1v3h-1zm1-302h1v2h-1zm0 304h1v3h-1zm1-306h1v4h-1zm0 309h1v2h-1zm1 0h1v3h-1zm1 3h1v4h-1zm1-313h1v3h-1zm0 316h1v2h-1zm1-318h1v4h-1zm0 319h1v4h-1zm1-319h1v3h-1zm0 322h1v2h-1zm1-325h2v5h-2zm0 326h1v4h-1zm1 2h1v5h-1zm1-330h1v5h-1zm0 332h1v5h-1zm1-332h1v6h-1zm0 334h1v6h-1zm1-337h1v7h-1zm0 337h1v7h-1zm1-339h1v9h-1zm0 340h1v9h-1zm1-342h1v8h-1zm0 342h1v11h-1zm1-341h1v9h-1zm0 342h1v12h-1zm1-343h1v11h-1zm0 342h1v15h-1zm1-341h1v8h-1zm0 341h1v11h-1zm1-342h1v8h-1zm0 343h2v4h-2zm1-346h1v11h-1zm1-1h1v11h-1zm0 345h1v6h-1zm1-344h1v12h-1zm0 344h1v2h-1zm1-342h1v9h-1zm0 340h1v3h-1zm1-339h1v8h-1zm0 338h2v3h-2zm1-339h1v10h-1zm1-1h3v11h-3zm0 339h1v2h-1zm1-4h1v4h-1zm1-1h3v4h-3zm1-333h1v7h-1zm1 1h1v8h-1zm1-2h1v11h-1zm0 334h1v2h-1zm1-332h1v9h-1zm0 330h1v4h-1zm1-331h1v8h-1zm0 330h1v4h-1zm1-330h2v9h-2zm0 330h2v2h-2zm2-329h1v7h-1zm0 324h1v4h-1zm1-327h1v11h-1zm0 329h1v2h-1zm1-324h2v6h-2zm0 322h1v3h-1zm1-2h1v4h-1zm1-324h1v10h-1zm0 322h1v3h-1zm1-319h1v8h-1zm0 318h1v2h-1zm1-321h2v11h-2zm0 319h1v2h-1zm1 1h1v2h-1zm1-318h1v9h-1zm0 315h1v2h-1zm1-314h1v7h-1zm0 312h1v4h-1zm1-314h1v10h-1zm0 321h1v3h-1zm1-322h1v10h-1zm0 317h1v3h-1zm1-316h1v9h-1zm0 313h1v3h-1zm1-313h1v10h-1zm0 314h1v4h-1zm1-315h1v12h-1zm0 313h1v4h-1zm1-312h1v9h-1zm0 311h1v4h-1zm1-311h1v10h-1zm0 314h1v4h-1zm1-315h1v9h-1zm0 317h1v2h-1zm1-318h1v12h-1zm0 317h1v2h-1zm1-314h1v8h-1zm0 314h1v3h-1zm1-317h1v12h-1zm0 314h1v2h-1zm1-313h1v11h-1zm0 322h1v2h-1zm1-322h3v10h-3zm0 316h1v2h-1zm1-1h1v3h-1zm1-2h1v4h-1zm1-313h1v9h-1zm0 316h1v2h-1zm1-317h1v11h-1zm0 326h1v4h-1zm1-325h1v11h-1zm0 318h1v2h-1zm1-317h1v9h-1zm0 318h1v2h-1zm1-318h1v10h-1zm0 315h1v4h-1zm1-315h1v9h-1zm0 318h1v4h-1zm1-320h1v13h-1zm0 327h1v3h-1zm1-327h1v11h-1zm0 324h1v2h-1zm1-325h1v11h-1zm0 323h1v3h-1zm1-325h1v13h-1zm0 325h1v4h-1zm1-323h1v11h-1zm0 328h1v2h-1zm1-329h1v13h-1zm0 330h1v4h-1zm1-329h1v12h-1zm0 334h1v2h-1zm1-332h1v10h-1zm0 331h1v3h-1zm1-374h1v20h-1zm0 372h1v4h-1zm1-358h1v16h-1zm0 360h1v4h-1zm1-331h1v10h-1zm0 330h1v2h-1zm1-328h1v9h-1zm0 329h1v4h-1zm1-328h1v8h-1zm0 329h1v2h-1zm1-329h1v9h-1zm0 326h1v4h-1zm1-325h1v7h-1zm0 329h1v3h-1zm1-327h1v7h-1zm0 324h2v4h-2zm1-315h1v6h-1zm1-7h1v6h-1zm0 291h1v3h-1zm1-295h1v7h-1zm0 302h1v3h-1zm1-303h1v9h-1zm0 325h1v2h-1zm1-327h1v10h-1zm0 327h1v3h-1zm1-329h1v11h-1zm0 329h1v2h-1zm1-329h1v10h-1zm0 328h1v4h-1zm1-329h1v10h-1zm0 331h1v3h-1zm1-330h1v10h-1zm0 323h1v4h-1zm1-320h1v9h-1zm0 322h1v2h-1zm1-324h1v9h-1zm0 321h2v3h-2zm1-321h1v11h-1zm1 0h1v10h-1zm0 322h1v2h-1zm1-321h1v9h-1zm0 318h1v2h-1zm1-315h1v7h-1zm0 313h1v4h-1zm1-312h1v8h-1zm0 311h1v4h-1zm1-310h1v8h-1zm0 313h1v2h-1zm1-311h1v7h-1zm0 309h1v3h-1zm1-311h1v8h-1zm0 309h1v4h-1zm1-308h1v8h-1zm0 308h1v2h-1zm1-310h1v8h-1zm0 310h1v4h-1zm1-310h1v7h-1zm0 311h1v3h-1zm1-315h1v10h-1zm0 307h1v3h-1zm1-309h1v10h-1zm0 314h1v4h-1zm1-312h1v11h-1zm0 314h1v4h-1zm1-311h1v6h-1zm0 312h1v2h-1zm1-311h1v10h-1zm0 311h1v4h-1zm1-309h1v8h-1zm0 309h1v3h-1zm1-307h1v7h-1zm0 306h1v4h-1zm1-303h1v5h-1zm0 300h1v4h-1zm1-302h1v6h-1zm0 305h1v4h-1zm1-308h1v8h-1zm0 306h1v4h-1zm1-305h1v6h-1zm0 305h1v2h-1zm1-306h1v8h-1zm0 308h1v2h-1zm1-308h1v7h-1zm0 304h1v4h-1zm1-305h2v8h-2zm0 305h1v2h-1zm1 4h1v2h-1zm1-308h1v8h-1zm0 305h1v4h-1zm1-304h1v5h-1zm0 305h1v4h-1zm1-304h1v5h-1zm0 307h1v2h-1zm1-307h1v6h-1zm0 308h1v4h-1zm1-307h1v5h-1zm0 310h1v2h-1zm1-312h1v7h-1zm0 311h2v2h-2zm1-308h1v4h-1zm1-2h2v7h-2zm0 312h2v4h-2zm2-311h1v5h-1zm0 312h1v4h-1zm1-312h1v7h-1zm0 318h1v4h-1zm1-317h1v5h-1zm0 313h1v2h-1zm1-314h1v6h-1zm0 315h1v4h-1zm1-314h1v5h-1zm0 312h1v4h-1zm1-313h1v6h-1zm0 316h1v2h-1zm1-315h1v6h-1zm0 316h1v2h-1zm1-316h1v5h-1zm0 315h1v2h-1zm1-310h1v1h-1zm0 303h1v2h-1zm1-304h1v3h-1zm0 295h1v2h-1zm1-301h1v5h-1zm0 304h1v2h-1zm1-308h1v7h-1zm0 328h1v4h-1zm1-333h1v9h-1zm0 335h1v4h-1zm1-339h1v11h-1zm0 341h1v2h-1zm1-341h1v14h-1zm0 349h1v4h-1zm1-351h1v13h-1zm0 341h1v3h-1zm1-334h1v6h-1zm0 337h2v3h-2zm1-340h1v12h-1zm1 1h1v10h-1zm0 336h1v4h-1zm1-335h1v8h-1zm0 338h1v2h-1zm1-337h1v10h-1zm0 336h1v3h-1zm1-336h1v8h-1zm0 335h1v4h-1zm1-335h1v9h-1zm0 336h1v3h-1zm1-335h2v8h-2zm0 334h2v2h-2zm2-336h1v11h-1zm0 336h1v4h-1zm1-334h1v8h-1zm0 335h1v2h-1zm1-338h1v12h-1zm0 332h1v4h-1zm1-329h1v10h-1zm0 333h1v2h-1zm1-332h1v9h-1zm0 327h1v4h-1zm1-325h1v6h-1zm0 336h1v4h-1zm1-335h1v8h-1zm0 322h1v6h-1zm1-320h1v5h-1zm0 319h1v8h-1zm1-320h1v8h-1zm0 321h1v5h-1zm1-321h1v6h-1zm0 320h1v6h-1zm1-319h1v6h-1zm0 319h1v17h-1zm1-320h1v6h-1zm0 320h1v10h-1zm1-319h1v6h-1zm0 319h1v12h-1zm1-317h1v5h-1zm0 318h1v5h-1zm1-319h1v6h-1zm0 317h1v4h-1zm1-316h1v4h-1zm0 316h1v3h-1zm1-317h1v7h-1zm0 318h1v4h-1zm1-316h1v5h-1zm0 315h1v4h-1zm1-317h1v6h-1zm0 318h1v5h-1zm1-317h1v7h-1zm0 316h1v4h-1zm1-314h1v6h-1zm0 315h1v4h-1zm1-316h1v6h-1zm0 317h1v5h-1zm1-315h1v4h-1zm0 315h1v9h-1zm1-316h1v5h-1zm0 316h2v7h-2zm1-315h1v6h-1zm1-1h1v5h-1zm0 316h2v9h-2zm1-315h1v5h-1zm1 1h2v5h-2zm0 313h1v13h-1zm1 1h1v11h-1zm1-315h1v4h-1zm0 314h1v14h-1zm1-312h2v2h-2zm0 313h1v15h-1zm1-1h1v16h-1zm1-311h1v2h-1zm0 312h1v12h-1zm1-312h1v1h-1zm0 311h1v13h-1zm1-311h1v2h-1zm0 311h1v12h-1zm1-310h1v2h-1zm0 311h1v11h-1zm1-310h1v1h-1zm0 309h1v10h-1zm1 1h1v8h-1zm1-1h1v8h-1zm1 1h1v7h-1zm1-1h1v8h-1zm1-309h1v1h-1zm0 309h1v7h-1zm1-310h1v3h-1zm0 310h1v8h-1zm1 0h1v7h-1zm1-309h1v1h-1zm0 309h2v6h-2zm1-311h1v3h-1zm1-1h1v4h-1zm0 312h1v7h-1zm1-309h1v2h-1zm0 310h1v5h-1zm1-312h1v2h-1zm0 311h1v8h-1zm1-309h1v3h-1zm0 310h1v6h-1zm1-311h1v1h-1zm0 310h1v7h-1zm1-311h1v3h-1zm0 312h1v6h-1zm1-313h1v6h-1zm0 313h1v7h-1zm1-311h1v3h-1zm0 310h1v9h-1zm1-309h1v1h-1zm0 309h1v8h-1zm1-310h1v3h-1zm0 311h1v7h-1zm1-314h1v6h-1zm0 313h1v6h-1zm1-311h1v4h-1zm0 306h1v4h-1zm1-304h1v1h-1zm0 300h1v3h-1zm1-302h1v3h-1zm0 299h1v2h-1zm1-298h1v4h-1zm0 294h1v4h-1zm1-292h1v2h-1zm0 291h1v2h-1zm1-292h1v3h-1zm0 288h1v3h-1zm1-291h1v3h-1zm0 288h1v3h-1zm1-285h3v2h-3zm0 288h1v4h-1zm1 9h1v4h-1zm1-4h1v2h-1zm1-294h1v3h-1zm0 288h1v3h-1zm1-286h1v2h-1zm0 293h1v3h-1zm1 30h1v4h-1zm1-324h1v1h-1zm0 324h1v2h-1zm1-322h1v2h-1zm0 317h1v3h-1zm1-3h1v2h-1zm1-316h1v2h-1zm0 314h1v4h-1zm1-314h1v4h-1zm0 313h1v3h-1zm1-314h1v4h-1zm0 312h1v4h-1zm1 1h1v2h-1zm1-310h1v2h-1zm0 309h1v2h-1zm1-309h1v1h-1zm0 306h1v3h-1zm1-305h1v1h-1zm0 306h1v3h-1zm1-309h1v2h-1zm0 12h1v1h-1zm0 295h2v4h-2zm1-306h1v1h-1zm1 2h1v1h-1zm0 306h2v2h-2zm2-309h1v3h-1zm0 307h1v4h-1zm1 0h2v2h-2zm1-306h1v2h-1zm0 11h1v1h-1zm1-12h1v4h-1zm0 308h1v2h-1zm1-306h1v3h-1zm0 305h1v4h-1zm1-308h1v4h-1zm0 309h2v4h-2zm2-307h1v2h-1zm0 301h1v3h-1zm1-299h1v1h-1zm0 307h1v3h-1zm1 3h1v2h-1zm1-313h1v4h-1zm0 315h1v4h-1zm1-317h2v4h-2zm0 321h1v2h-1zm1 2h1v2h-1zm1-322h1v2h-1zm0 325h1v2h-1zm1-29h1v2h-1zm1 33h1v3h-1zm1-328h1v1h-1zm0 330h1v4h-1zm1-329h1v3h-1zm0 335h1v2h-1zm1-336h1v1h-1zm0 337h1v3h-1zm1-338h1v4h-1zm0 341h1v3h-1zm1-41h1v4h-1zm1 47h1v4h-1zm1-348h1v3h-1zm0 353h1v3h-1zm1-352h1v2h-1zm0 347h1v2h-1zm1-346h1v2h-1zm0 359h1v2h-1zm1-360h1v1h-1zm0 362h1v2h-1zm1-72h1v4h-1zm1-291h1v1h-1zm0 302h1v3h-1zm1-300h1v1h-1zm0 372h1v4h-1zm1-4h1v2h-1zm1-2h1v3h-1zm1-366h1v2h-1zm0 379h1v4h-1zm1-90h1v4h-1zm1 7h1v4h-1zm1 79h1v4h-1zm1 10h1v2h-1zm1-385h1v1h-1zm0 359h1v3h-1zm1 20h1v4h-1zm1-91h1v2h-1zm1 91h1v4h-1zm1 6h1v3h-1zm1-68h1v3h-1zm1 51h1v4h-1zm1-368h1v1h-1zm0 358h1v2h-1zm1-65h1v3h-1zm1 92h1v4h-1zm1-385h1v1h-1zm0 378h1v4h-1zm1-377h1v1h-1zm0 347h1v2h-1zm1 37h1v4h-1zm1-94h1v3h-1zm1 95h1v3h-1zm1-387h1v1h-1zm0 386h1v3h-1zm1-387h1v3h-1zm0 367h1v4h-1zm1-369h1v2h-1zm0 397h1v2h-1zm1-5h1v4h-1zm1-98h1v3h-1zm1-293h1v5h-1zm0 303h1v3h-1zm1-303h1v4h-1zm0 392h1v2h-1zm1-391h1v3h-1zm0 384h1v3h-1zm1-385h1v4h-1zm0 394h1v2h-1zm1-107h1v3h-1zm1-285h1v1h-1zm0 287h1v4h-1zm1-288h1v2h-1zm1 1h1v3h-1zm0 394h1v4h-1zm1-393h1v2h-1zm0 392h1v4h-1zm1-392h1v1h-1zm0 393h1v2h-1zm1-109h1v3h-1zm1 20h1v4h-1zm1-305h1v3h-1zm0 366h1v4h-1zm1-365h2v3h-2zm0 347h1v2h-1zm1 23h1v4h-1zm1-81h1v3h-1zm1-291h1v3h-1zm0 299h1v3h-1zm1-297h2v3h-2zm0 405h1v2h-1zm1-56h1v2h-1zm1 39h1v2h-1zm1-98h1v3h-1zm1-290h1v3h-1zm0 313h1v3h-1zm1-313h1v1h-1zm0 399h1v4h-1zm1-398h1v1h-1zm0 362h1v2h-1zm1 33h1v4h-1zm1-104h1v2h-1zm1-291h1v1h-1zm0 306h1v2h-1zm1-309h1v2h-1zm1 3h1v1h-1zm0 320h1v3h-1zm1-321h1v2h-1zm0 393h1v4h-1zm1-96h1v3h-1zm1-297h1v2h-1zm0 393h1v2h-1zm1-395h1v2h-1zm0 391h1v4h-1zm1-392h1v3h-1zm0 330h1v3h-1zm1 61h1v3h-1zm1-98h1v4h-1zm1-292h1v1h-1zm0 383h1v4h-1zm1-383h1v2h-1zm0 385h1v3h-1zm1-386h1v2h-1zm0 390h1v3h-1zm1-387h1v2h-1zm0 389h1v2h-1zm1-87h1v2h-1zm1-304h1v4h-1zm0 303h1v4h-1zm1-303h1v3h-1zm0 376h1v4h-1zm1-378h1v3h-1zm0 383h1v4h-1zm1-380h1v1h-1zm0 375h1v2h-1zm1-376h1v2h-1zm0 371h1v3h-1zm1-370h1v3h-1zm0 321h1v4h-1zm1-322h1v2h-1zm0 328h1v3h-1zm1-326h1v2h-1zm0 365h1v4h-1zm1-4h1v4h-1zm1-364h1v4h-1zm0 379h1v4h-1zm1-81h1v3h-1zm1-296h1v3h-1zm0 367h1v4h-1zm1-5h1v2h-1zm1-362h1v2h-1zm0 358h1v2h-1zm1-357h1v3h-1zm0 355h1v4h-1zm1-357h1v4h-1zm0 352h1v4h-1zm1-59h1v2h-1zm1-294h1v2h-1zm0 362h1v2h-1zm1-4h1v4h-1zm1-357h1v1h-1zm0 355h1v2h-1zm1-62h1v3h-1zm1-294h1v3h-1zm0 316h1v2h-1zm1-313h1v3h-1zm0 355h1v4h-1zm1-356h1v3h-1zm0 325h1v4h-1zm1-324h1v2h-1zm0 353h1v3h-1zm1-66h1v3h-1zm1 18h1v4h-1zm1-309h1v3h-1zm0 346h1v3h-1zm1-343h1v3h-1zm0 350h1v2h-1zm1-61h1v2h-1zm1-289h1v3h-1zm0 339h1v4h-1z"/>
<path fill="#000080" d="M0 0m102 243h1v21h-1zm1-31h1v24h-1zm13 53h1v10h-1zm3-95h1v2h-1zm0 27h1v14h-1zm4 50h1v1h-1zm3-8h1v1h-1zm8-73h1v1h-1zm0 80h1v5h-1zm3-9h1v16h-1zm5 9h1v27h-1zm4-21h1v11h-1zm1 9h1v17h-1zm2 11h1v21h-1zm14-75h1v2h-1zm4 65h1v2h-1zm1-4h1v24h-1zm6-12h1v21h-1zm3 26h1v1h-1zm5-25h1v10h-1zm1-7h1v3h-1zm3-2h1v4h-1zm2-8h1v2h-1zm3 23h1v1h-1zm4-62h1v1h-1zm6 57h1v9h-1zm13 17h1v8h-1zm1-11h1v4h-1zm2-19h1v38h-1zm6 21h1v8h-1zm3-59h1v1h-1zm1 36h1v4h-1zm10 20h1v7h-1zm3-8h1v12h-1zm2-15h1v23h-1zm1 10h1v14h-1zm2-51h1v2h-1zm3 51h1v7h-1zm2-3h1v10h-1zm2 7h1v25h-1zm3-50h1v1h-1zm2 3h1v2h-1zm0 48h1v4h-1zm1-4h1v22h-1zm18-50h1v3h-1zm2 63h1v4h-1zm4-13h1v3h-1zm2-41h1v1h-1zm5-23h1v17h-1zm1 19h1v1h-1zm3 43h1v6h-1zm6-48h1v4h-1zm1 43h1v10h-1zm3-4h1v13h-1zm2-35h1v1h-1zm1-8h1v8h-1zm0 50h1v11h-1zm1-39h1v3h-1zm2 3h1v1h-1zm1-10h1v7h-1zm3 9h1v1h-1zm1 26h1v7h-1zm1-38h1v5h-1zm0 53h1v8h-1zm2-46h1v4h-1zm2 3h1v2h-1zm1-6h1v4h-1zm2 35h1v9h-1zm5 2h1v4h-1zm1 0h1v1h-1zm3-39h1v5h-1zm3 9h1v5h-1zm3-4h1v4h-1zm0 32h1v31h-1zm1-26h1v1h-1zm1-2h1v2h-1zm1-11h1v11h-1zm0 51h1v4h-1zm1-54h1v8h-1zm2 12h1v3h-1zm0 29h1v5h-1zm1-33h1v1h-1zm1 4h1v3h-1zm1 40h1v1h-1zm1-38h1v2h-1zm0 20h1v16h-1zm1-23h1v5h-1zm1-3h1v4h-1zm1-3h1v8h-1zm1 9h1v3h-1zm2-7h1v7h-1zm2 0h1v7h-1zm1 7h1v2h-1zm1 1h1v1h-1zm0 29h1v3h-1zm1-40h1v7h-1zm5 9h1v3h-1zm0 21h1v5h-1zm1-30h1v7h-1zm1 7h1v4h-1zm1 2h1v2h-1zm1 2h1v2h-1zm1-9h1v7h-1zm1 8h1v2h-1zm1-6h1v8h-1zm4-7h1v7h-1zm1 12h1v1h-1zm2-1h1v4h-1zm3-7h1v8h-1zm0 41h1v5h-1zm1-37h1v7h-1zm1 1h1v5h-1zm2 5h2v1h-2zm0 27h1v10h-1zm2-28h1v1h-1zm1-8h1v4h-1zm1 4h1v2h-1zm0 22h1v13h-1zm1-21h1v1h-1zm1 0h1v5h-1zm1 2h1v1h-1zm1-6h1v7h-1zm0 32h1v3h-1zm1-37h1v9h-1zm1 7h1v4h-1zm1 0h1v6h-1zm1-1h1v6h-1zm1 1h1v3h-1zm1-4h1v8h-1zm1 9h1v2h-1zm1-5h1v7h-1zm1-1h1v5h-1zm1 3h1v1h-1zm1 2h1v2h-1zm1 1h1v1h-1zm1-6h1v6h-1zm1 3h2v2h-2zm1 22h1v4h-1zm1-20h1v2h-1zm1-1h1v4h-1zm2-3h1v5h-1zm3 4h1v2h-1zm0 20h1v4h-1zm1-19h1v2h-1zm1 21h1v3h-1zm1-24h1v4h-1zm1 3h1v1h-1zm1 0h1v2h-1zm0 19h1v3h-1zm1-22h1v5h-1zm1-1h1v3h-1zm0 30h1v2h-1zm1-29h1v6h-1zm0 20h1v5h-1zm1-17h1v4h-1zm2 1h1v3h-1zm1 0h1v2h-1zm2 23h1v2h-1zm2-23h1v2h-1zm2 1h1v1h-1zm1-3h1v5h-1zm2 2h1v1h-1zm1-5h1v5h-1zm0 21h1v5h-1zm1-20h1v4h-1zm1 4h1v2h-1zm1 0h1v1h-1zm1 14h1v7h-1zm2-21h1v6h-1zm1 4h1v5h-1zm4-4h1v5h-1zm1 4h1v4h-1zm2 1h1v3h-1zm0 22h1v2h-1zm1-27h1v6h-1zm1 7h1v1h-1zm1-2h1v3h-1zm3 0h1v2h-1zm1 1h1v2h-1zm2 0h1v3h-1zm1 1h1v2h-1zm2-3h1v4h-1zm0 16h1v6h-1zm1-15h1v3h-1zm2-4h1v2h-1zm1 2h1v3h-1zm3 3h1v2h-1zm1 1h1v1h-1zm0 16h1v2h-1zm1-20h1v5h-1zm1-2h1v6h-1zm1 4h1v2h-1zm1-3h1v4h-1zm2-1h1v7h-1zm1 2h1v5h-1zm3 3h1v1h-1zm0 13h1v3h-1zm3-15h1v3h-1zm1 0h1v1h-1zm1 1h1v4h-1zm1 0h1v2h-1zm1-1h1v5h-1zm1 16h1v1h-1zm1-21h1v5h-1zm1 3h1v5h-1zm1-1h1v3h-1zm1-1h1v6h-1zm1 2h1v5h-1zm1-1h1v6h-1zm1 2h1v3h-1zm1 1h2v2h-2zm4-1h1v3h-1zm1-2h1v2h-1zm1 4h1v3h-1zm1-2h1v5h-1zm1-1h1v5h-1zm1 2h2v2h-2zm2-1h1v3h-1zm2-1h1v2h-1zm1 0h1v4h-1zm1 2h2v3h-2zm2-1h1v4h-1zm1-1h1v7h-1zm1 3h1v2h-1zm2-3h1v7h-1zm1-1h1v4h-1zm1 1h1v5h-1zm1 3h1v4h-1zm1-2h1v3h-1zm1-1h1v4h-1zm1 2h1v3h-1zm1 0h1v5h-1zm2 2h1v2h-1zm2 0h1v2h-1zm2 0h1v1h-1zm1-1h1v2h-1zm2 1h1v1h-1zm2 0h1v3h-1zm2-1h1v4h-1zm1 2h1v1h-1zm2-1h1v3h-1zm1 3h1v2h-1zm3-3h1v3h-1zm1 0h1v4h-1zm1 1h1v3h-1zm1 1h1v2h-1zm1 9h1v3h-1zm1-12h1v4h-1zm2 0h1v4h-1zm1 2h2v1h-2zm1 11h1v1h-1zm1-10h1v2h-1zm1-1h1v2h-1zm1 0h1v1h-1zm1 0h1v2h-1zm1-1h1v3h-1zm1 2h1v1h-1zm1-3h1v3h-1zm2 2h1v1h-1zm2 1h1v1h-1zm0 10h1v1h-1zm6-11h1v3h-1zm4-1h1v2h-1zm1 1h1v1h-1zm3 1h1v2h-1zm3 2h1v1h-1zm1-2h1v3h-1zm2 10h1v1h-1zm2-1h1v2h-1zm4-8h1v1h-1zm0 8h1v1h-1zm5-9h1v1h-1zm4 10h1v1h-1zm3 0h1v6h-1zm6-9h1v1h-1zm0 9h1v1h-1zm1-9h1v2h-1zm2 0h1v1h-1zm1-1h1v2h-1zm2-4h1v3h-1zm1-1h1v3h-1zm2 2h1v2h-1zm2-2h1v2h-1zm3-1h1v2h-1zm1-2h2v4h-2zm2-3h1v7h-1zm1 2h1v5h-1zm1 2h1v4h-1zm1-3h1v6h-1zm1-1h2v6h-2zm2-1h1v6h-1zm1 2h1v5h-1zm1-1h2v7h-2zm2 1h1v4h-1zm1 1h1v3h-1zm1-1h1v6h-1zm1 0h1v4h-1zm1-3h1v8h-1zm1 2h1v6h-1zm1 1h2v5h-2zm2-2h1v7h-1zm1 1h1v5h-1zm1 0h1v6h-1zm1-1h1v7h-1zm1 1h2v6h-2zm2 0h1v5h-1zm0 412h1v3h-1zm1-412h1v6h-1zm0 409h1v8h-1zm1-408h1v6h-1zm0 408h1v10h-1zm1-408h1v4h-1zm0 406h1v15h-1zm1-406h1v6h-1zm0 404h1v20h-1zm1-404h1v4h-1zm0 404h1v22h-1zm1-405h1v5h-1zm0 403h1v28h-1zm1-402h1v5h-1zm0 400h1v32h-1zm1-401h1v6h-1zm0 401h1v34h-1zm1-401h1v8h-1zm0 400h1v37h-1zm1-399h1v6h-1zm0 396h1v42h-1zm1-395h1v4h-1zm0 395h1v45h-1zm1-397h1v8h-1zm0 395h1v50h-1zm1-394h1v5h-1zm0 394h1v52h-1zm1-396h1v6h-1zm0 393h1v59h-1zm1-391h1v6h-1zm0 391h1v61h-1zm1-392h1v5h-1zm0 390h1v65h-1zm1-389h2v5h-2zm0 388h1v69h-1zm1-1h1v71h-1zm1-388h2v7h-2zm0 386h1v76h-1zm1 0h1v78h-1zm1-386h1v6h-1zm0 385h1v81h-1zm1-386h1v7h-1zm0 384h1v84h-1zm1-383h1v5h-1zm0 382h1v87h-1zm1-381h1v5h-1zm0 380h1v89h-1zm1-381h1v5h-1zm0 379h1v92h-1zm1-378h1v6h-1zm0 378h1v93h-1zm1-379h1v6h-1zm0 378h1v97h-1zm1-376h1v3h-1zm0 374h1v100h-1zm1-376h1v5h-1zm0 375h1v102h-1zm1-376h2v6h-2zm0 374h1v105h-1zm1-1h1v105h-1zm1-373h1v7h-1zm0 372h1v107h-1zm1-371h1v5h-1zm0 370h1v110h-1zm1-370h2v6h-2zm0 368h1v111h-1zm1-1h1v112h-1zm1-400h1v20h-1zm0 400h1v115h-1zm1-390h1v16h-1zm0 388h1v117h-1zm1-365h1v8h-1zm0 365h1v118h-1zm1-364h1v7h-1zm0 361h1v121h-1zm1-361h1v6h-1zm0 361h1v122h-1zm1-360h1v5h-1zm0 359h1v123h-1zm1-360h1v6h-1zm0 360h1v124h-1zm1-358h1v4h-1zm0 356h2v127h-2zm2-355h1v2h-1zm0 354h1v127h-1zm1-357h1v6h-1zm0 358h1v127h-1zm1-357h1v6h-1zm0 356h1v127h-1zm1-357h1v7h-1zm0 357h2v128h-2zm1-358h1v7h-1zm1-1h1v7h-1zm0 358h1v83h-1zm1-359h1v7h-1zm0 359h1v128h-1zm1-358h1v6h-1zm0 357h1v130h-1zm1-355h1v6h-1zm0 353h1v132h-1zm1-355h1v6h-1zm0 354h1v133h-1zm1-352h1v5h-1zm0 350h1v135h-1zm1-351h1v5h-1zm0 351h1v137h-1zm1-351h1v7h-1zm0 349h1v139h-1zm1-348h1v6h-1zm0 346h1v141h-1zm1-344h1v5h-1zm0 342h2v143h-2zm1-341h1v5h-1zm1 1h1v3h-1zm0 341h1v142h-1zm1-342h1v5h-1zm0 345h1v139h-1zm1-344h1v2h-1zm0 347h1v136h-1zm1-349h1v6h-1zm0 350h1v135h-1zm1-351h1v6h-1zm0 353h1v133h-1zm1-354h1v6h-1zm0 358h1v129h-1zm1-360h1v5h-1zm0 362h1v127h-1zm1-359h1v5h-1zm0 358h1v128h-1zm1-360h1v7h-1zm0 359h1v129h-1zm1-354h1v4h-1zm0 351h1v132h-1zm1-351h1v1h-1zm0 351h1v127h-1zm1-350h1v1h-1zm0 347h1v135h-1zm1-346h1v2h-1zm0 344h1v137h-1zm1-4h1v136h-1zm1-342h1v3h-1zm0 336h1v147h-1zm1-4h1v151h-1zm1-332h1v5h-1zm0 333h1v145h-1zm1-334h3v4h-3zm0 339h1v145h-1zm1 6h1v134h-1zm1 4h1v135h-1zm1-348h1v3h-1zm0 354h1v129h-1zm1-356h1v3h-1zm0 354h1v131h-1zm1-353h1v3h-1zm0 349h1v135h-1zm1-348h1v2h-1zm0 346h1v137h-1zm1 1h1v136h-1zm1-347h1v2h-1zm0 348h1v135h-1zm1-348h1v3h-1zm0 349h1v134h-1zm1-348h1v2h-1zm0 350h1v132h-1zm1-350h1v1h-1zm0 351h2v131h-2zm1-352h1v2h-1zm1 353h2v130h-2zm1-352h1v2h-1zm1 353h1v129h-1zm1-353h1v2h-1zm0 355h2v127h-2zm1-355h1v3h-1zm1 1h1v1h-1zm0 356h3v125h-3zm1-357h1v2h-1zm1 1h1v3h-1zm1 1h1v3h-1zm0 357h1v123h-1zm1-361h1v3h-1zm0 362h1v122h-1zm1-364h1v5h-1zm0 365h2v121h-2zm1-368h1v8h-1zm1-2h1v7h-1zm0 372h1v119h-1zm1-369h1v5h-1zm0 371h1v117h-1zm1-374h2v8h-2zm0 375h2v116h-2zm2-372h1v5h-1zm0 373h1v91h-1zm1-374h1v7h-1zm0 375h1v114h-1zm1-376h1v8h-1zm0 379h2v111h-2zm1-376h1v5h-1zm1-2h1v5h-1zm0 379h1v110h-1zm1-378h1v7h-1zm0 379h1v109h-1zm1-379h2v6h-2zm0 380h3v108h-3zm2-379h1v6h-1zm1-1h1v7h-1zm0 381h1v107h-1zm1-380h1v5h-1zm0 378h2v109h-2zm1-377h1v5h-1zm1 0h1v4h-1zm0 375h2v111h-2zm1-376h1v7h-1zm1 3h1v5h-1zm0 372h1v112h-1zm1-373h1v4h-1zm0 372h1v113h-1zm1-370h1v2h-1zm0 369h1v114h-1zm1-371h1v4h-1zm0 370h1v115h-1zm1-369h1v3h-1zm0 368h1v116h-1zm1-369h1v4h-1zm0 368h1v117h-1zm1-367h1v1h-1zm0 365h1v119h-1zm1-364h2v2h-2zm0 363h1v120h-1zm1-2h1v122h-1zm1-362h1v4h-1zm0 360h1v124h-1zm1-358h2v1h-2zm0 357h1v125h-1zm1-2h1v127h-1zm1-3h1v130h-1zm1-1h1v131h-1zm1-349h1v1h-1zm0 346h1v134h-1zm1-347h1v1h-1zm0 346h1v135h-1zm1-3h1v138h-1zm1-3h1v141h-1zm1-338h1v1h-1zm0 337h1v142h-1zm1-3h1v145h-1zm1-335h1v2h-1zm0 332h1v148h-1zm1-331h1v1h-1zm0 330h1v149h-1zm1-1h1v148h-1zm1-331h1v1h-1zm0 328h1v153h-1zm1-328h1v3h-1zm0 326h1v155h-1zm1 0h1v147h-1zm1-325h1v1h-1zm0 322h2v158h-2zm1-323h1v4h-1zm1 1h1v2h-1zm0 321h1v149h-1zm1-320h1v2h-1zm0 320h1v159h-1zm1-320h1v1h-1zm0 318h1v161h-1zm1-320h1v4h-1zm0 319h1v149h-1zm1-1h2v163h-2zm1-317h1v1h-1zm1-3h1v3h-1zm0 320h1v151h-1zm1-316h1v2h-1zm0 315h1v164h-1zm1-314h1v1h-1zm0 315h1v163h-1zm1-317h1v2h-1zm0 316h1v148h-1zm1-315h2v3h-2zm0 314h2v165h-2zm2-314h1v1h-1zm0 315h1v144h-1zm1-314h1v1h-1zm0 313h1v165h-1zm1-302h1v1h-1zm0 304h1v163h-1zm1-1h1v142h-1zm1-316h1v3h-1zm0 316h2v164h-2zm1-315h1v2h-1zm1 316h1v139h-1zm1 1h1v162h-1zm1-317h1v3h-1zm0 316h1v163h-1zm1-315h1v1h-1zm0 315h1v156h-1zm1-2h1v165h-1zm1-313h1v2h-1zm0 306h1v172h-1zm1-307h1v3h-1zm0 11h1v1h-1zm0 291h1v147h-1zm1-4h1v156h-1zm1-296h3v1h-3zm0 294h1v152h-1zm1-3h1v186h-1zm1-3h1v189h-1zm1-291h1v2h-1zm0 288h1v165h-1zm1 4h1v188h-1zm1-290h1v1h-1zm0 299h1v179h-1zm1-299h1v3h-1zm0 293h1v156h-1zm1-5h1v162h-1zm1 7h1v183h-1zm1 31h1v120h-1zm1-2h1v154h-1zm1-4h1v158h-1zm1-319h1v2h-1zm0 315h1v127h-1zm1-316h1v1h-1zm0 316h1v162h-1zm1-314h1v1h-1zm0 312h1v164h-1zm1-305h1v1h-1zm0 304h1v152h-1zm1-1h1v166h-1zm1-1h1v167h-1zm1-2h1v136h-1zm1-299h1v1h-1zm0 300h1v138h-1zm1-310h1v3h-1zm0 309h1v169h-1zm1 0h1v156h-1zm1-307h1v1h-1zm0 307h2v169h-2zm1-308h1v1h-1zm1 308h1v140h-1zm1-298h1v1h-1zm0 296h1v143h-1zm1-306h1v1h-1zm0 306h1v138h-1zm1 1h1v141h-1zm1 1h1v169h-1zm1 1h2v139h-2zm2-299h1v1h-1zm0 299h1v168h-1zm1 1h1v134h-1zm1 2h1v132h-1zm1-311h1v1h-1zm0 315h1v161h-1zm1 2h1v130h-1zm1 2h1v157h-1zm1-322h1v2h-1zm0 325h1v154h-1zm1 2h1v127h-1zm1 3h1v149h-1zm1 3h1v146h-1zm1 4h1v120h-1zm1 2h1v140h-1zm1-337h1v1h-1zm0 340h1v137h-1zm1 3h1v119h-1zm1-346h1v1h-1zm0 350h1v130h-1zm1 4h1v126h-1zm1-353h1v4h-1zm0 356h1v120h-1zm1 4h1v119h-1zm1-361h1v2h-1zm0 363h1v117h-1zm1 3h1v114h-1zm1-367h1v2h-1zm0 372h1v109h-1zm1-370h1v2h-1zm0 375h1v104h-1zm1-376h1v3h-1zm0 381h1v99h-1zm1 3h1v96h-1zm1-382h1v1h-1zm0 388h1v90h-1zm1 7h1v83h-1zm1 4h1v79h-1zm1-401h1v3h-1zm0 407h1v73h-1zm1-408h1v1h-1zm0 414h1v67h-1zm1-412h1v1h-1zm0 417h1v62h-1zm1 7h1v55h-1zm1 8h1v47h-1zm1-432h1v1h-1zm0 441h1v38h-1zm1-443h1v4h-1zm0 451h1v30h-1zm1 8h1v22h-1zm1-457h1v2h-1zm0 464h1v8h-1zm1 10h1v5h-1zm2-477h1v3h-1zm2 4h1v2h-1zm1-3h1v2h-1zm2 2h1v1h-1zm1-1h1v2h-1zm1 1h1v1h-1zm1-3h1v1h-1zm3 4h1v1h-1zm1-1h1v1h-1zm1 0h1v2h-1zm1 0h1v1h-1zm2-1h1v2h-1zm1 0h1v3h-1zm1 2h1v1h-1zm1 0h1v2h-1zm3-3h1v4h-1zm2 4h2v1h-2zm5 0h1v1h-1zm1-2h1v2h-1zm2 2h1v1h-1zm2-1h1v2h-1zm1-1h1v2h-1zm2 1h1v1h-1zm1-2h1v1h-1zm1 2h1v1h-1zm3 0h1v2h-1zm6-2h1v3h-1zm4 2h1v1h-1zm1-1h1v2h-1zm1-2h1v4h-1zm1 1h1v1h-1zm3 0h1v5h-1zm1 2h1v1h-1zm1-1h2v2h-2zm3 1h1v1h-1zm1-3h1v2h-1zm1 2h1v3h-1zm2 1h1v1h-1zm2-3h1v3h-1zm1 0h1v1h-1zm1 0h1v4h-1zm2 1h1v3h-1zm5-1h1v4h-1zm1 0h1v3h-1zm1 3h1v1h-1z"/>
<path fill="#008000" d="M0 0m100 257h1v10h-1zm8-20h1v23h-1zm6-4h1v23h-1zm1-62h1v2h-1zm1-5h1v1h-1zm1 60h1v7h-1zm11 5h1v17h-1zm1 15h1v5h-1zm2-13h1v7h-1zm1 20h1v5h-1zm2-15h1v8h-1zm5 10h1v4h-1zm2-84h1v3h-1zm3 5h1v2h-1zm8 34h1v37h-1zm5-31h1v1h-1zm2 70h1v22h-1zm1-5h1v11h-1zm1-10h1v12h-1zm2-55h1v2h-1zm1 78h1v11h-1zm8-77h1v1h-1zm3 69h1v14h-1zm5-32h1v12h-1zm2-15h1v25h-1zm3 25h1v7h-1zm1-60h1v3h-1zm5 64h1v2h-1zm8-53h1v1h-1zm1-9h1v1h-1zm2 38h1v10h-1zm5-30h1v1h-1zm5 114h1v17h-1zm1-111h1v2h-1zm0 82h1v5h-1zm2-35h1v7h-1zm2-14h1v2h-1zm1-32h1v1h-1zm3 37h1v1h-1zm2 1h1v17h-1zm1 8h1v23h-1zm4-20h1v40h-1zm4 7h1v11h-1zm3-36h1v1h-1zm3-12h1v3h-1zm2 4h1v3h-1zm3-1h1v1h-1zm5 46h1v5h-1zm4 0h1v9h-1zm3 10h1v12h-1zm1-11h1v4h-1zm3 6h1v8h-1zm1-40h1v1h-1zm1-2h1v1h-1zm0 44h1v1h-1zm2 3h1v11h-1zm7 2h1v4h-1zm3 19h1v3h-1zm5-66h1v1h-1zm0 45h1v9h-1zm2-53h1v2h-1zm1 0h1v3h-1zm1 1h1v1h-1zm1 55h1v14h-1zm2-10h1v13h-1zm2-43h1v2h-1zm1 47h1v7h-1zm6-42h1v2h-1zm2 35h1v26h-1zm1-40h1v3h-1zm2 40h1v3h-1zm3 18h1v1h-1zm11-52h1v3h-1zm5-1h1v1h-1zm12 28h1v13h-1zm1-33h1v1h-1zm4 39h1v1h-1zm4-33h1v1h-1zm2 30h1v8h-1zm3 0h1v10h-1zm1-31h1v2h-1zm1 30h1v7h-1zm4-32h1v2h-1zm1 4h1v1h-1zm0 16h1v2h-1zm3-24h1v2h-1zm1 5h1v4h-1zm1 2h1v2h-1zm0 23h1v2h-1zm2-28h1v2h-1zm1-2h1v3h-1zm1 0h1v1h-1zm2 6h1v1h-1zm3 0h1v2h-1zm1 0h1v1h-1zm5-3h1v4h-1zm1-1h1v4h-1zm2-3h1v2h-1zm1 6h1v4h-1zm3 27h1v8h-1zm1-25h1v1h-1zm1-3h1v2h-1zm1 3h1v1h-1zm0 29h1v1h-1zm1-30h1v3h-1zm1-4h1v2h-1zm2 5h1v2h-1zm2-6h1v4h-1zm0 22h1v10h-1zm1-20h1v2h-1zm1 0h1v4h-1zm1 4h1v1h-1zm5-1h1v3h-1zm1-1h1v2h-1zm1-2h1v3h-1zm1 1h1v2h-1zm1 3h1v3h-1zm2-3h1v4h-1zm2 2h1v3h-1zm0 20h1v1h-1zm1 5h1v5h-1zm1-26h1v4h-1zm2-1h1v2h-1zm1 2h1v1h-1zm1 1h1v3h-1zm1-3h1v3h-1zm1 1h1v4h-1zm0 24h1v4h-1zm1-5h1v7h-1zm1-20h1v2h-1zm0 23h1v3h-1zm1-21h1v4h-1zm1 1h1v3h-1zm1-1h2v1h-2zm4 1h1v2h-1zm1-3h1v3h-1zm1 4h1v1h-1zm2-2h1v1h-1zm6 22h1v3h-1zm3-5h1v2h-1zm1-19h1v3h-1zm1 3h1v3h-1zm3 1h1v1h-1zm1-1h1v1h-1zm1-1h1v4h-1zm1-2h1v2h-1zm2 22h1v3h-1zm1-20h1v1h-1zm1-1h1v4h-1zm0 18h1v3h-1zm1-17h1v2h-1zm1-2h1v2h-1zm2-1h1v4h-1zm2 2h1v1h-1zm1 2h1v3h-1zm1 0h1v2h-1zm1-1h1v4h-1zm2 0h1v2h-1zm1 1h1v2h-1zm0 13h1v4h-1zm1-15h1v4h-1zm1 3h1v1h-1zm1 15h1v1h-1zm1-17h1v4h-1zm1 1h1v2h-1zm1 0h2v1h-2zm1 14h1v3h-1zm1-19h1v5h-1zm1 3h1v3h-1zm1 1h1v4h-1zm0 18h1v2h-1zm1-22h1v6h-1zm1 5h1v2h-1zm2 0h1v1h-1zm1-1h2v1h-2zm2-1h1v2h-1zm1-2h1v6h-1zm1 4h1v2h-1zm1 0h1v3h-1zm1-1h1v4h-1zm0 17h1v1h-1zm1-19h1v4h-1zm2 1h1v1h-1zm2 1h1v4h-1zm1-2h1v4h-1zm1 4h1v2h-1zm1-2h1v3h-1zm2-2h1v4h-1zm0 13h1v2h-1zm1-14h1v4h-1zm1 3h1v2h-1zm1-3h1v5h-1zm0 15h1v1h-1zm1-13h1v4h-1zm1 1h2v2h-2zm0 12h1v1h-1zm2-13h1v4h-1zm1 0h1v1h-1zm1 0h1v3h-1zm1 0h1v4h-1zm1-1h1v3h-1zm1 1h1v3h-1zm1-3h1v7h-1zm1 5h1v3h-1zm1 0h1v1h-1zm2-2h1v4h-1zm0 13h1v1h-1zm1-13h1v5h-1zm1 0h1v4h-1zm1-2h2v5h-2zm2 2h1v5h-1zm1 1h1v4h-1zm1 0h1v5h-1zm1 0h1v2h-1zm1 2h1v1h-1zm2-3h1v1h-1zm1 3h1v1h-1zm1-4h1v4h-1zm1 2h1v2h-1zm1 2h1v1h-1zm1-3h1v4h-1zm0 14h1v2h-1zm1-14h1v3h-1zm1 1h1v4h-1zm2-3h1v6h-1zm0 414h1v2h-1zm1-410h1v2h-1zm0 408h1v6h-1zm1-409h1v4h-1zm0 409h1v8h-1zm1-408h1v3h-1zm0 405h1v13h-1zm1-407h1v4h-1zm0 406h1v14h-1zm1-1h1v16h-1zm1-404h1v4h-1zm1 1h1v2h-1zm0 399h1v21h-1zm1-400h2v3h-2zm0 399h1v22h-1zm1 0h1v23h-1zm1-397h1v2h-1zm0 395h1v25h-1zm1-397h1v4h-1zm0 395h1v27h-1zm1-1h2v28h-2zm1-393h1v1h-1zm1 390h2v31h-2zm2-2h1v33h-1zm1-387h1v2h-1zm0 385h1v35h-1zm1-2h1v37h-1zm1-1h1v38h-1zm1-372h1v1h-1zm0 370h1v61h-1zm1-379h2v1h-2zm0 377h1v67h-1zm1-2h1v64h-1zm1-378h1v4h-1zm0 376h1v73h-1zm1-2h1v102h-1zm1-374h1v2h-1zm0 372h1v104h-1zm1-370h1v1h-1zm0 368h1v77h-1zm1-2h1v108h-1zm1-367h1v3h-1zm0 9h1v1h-1zm0 355h1v80h-1zm1-2h1v88h-1zm1-361h1v2h-1zm0 360h1v88h-1zm1-361h1v3h-1zm0 9h1v2h-1zm0 349h1v88h-1zm1-357h1v1h-1zm0 356h1v96h-1zm1-3h1v121h-1zm1-353h1v2h-1zm0 350h1v124h-1zm1-351h1v2h-1zm0 350h1v125h-1zm1-352h1v4h-1zm0 350h1v127h-1zm1-348h1v3h-1zm0 346h1v104h-1zm1-347h1v2h-1zm0 346h1v110h-1zm1-2h1v132h-1zm1-341h1v1h-1zm0 339h1v134h-1zm1-341h1v2h-1zm0 340h1v135h-1zm1-342h1v4h-1zm0 339h1v138h-1zm1-1h1v139h-1zm1-336h1v1h-1zm0 334h1v141h-1zm1-1h1v118h-1zm1-333h1v3h-1zm0 330h1v145h-1zm1-331h1v2h-1zm0 330h1v146h-1zm1-329h1v2h-1zm0 328h1v130h-1zm1-328h2v1h-2zm0 327h1v130h-1zm1-3h1v131h-1zm1-1h1v152h-1zm1-322h1v2h-1zm0 321h1v131h-1zm1-320h1v1h-1zm0 317h1v156h-1zm1-319h1v2h-1zm0 318h1v143h-1zm1-1h1v140h-1zm1-2h1v147h-1zm1-2h1v141h-1zm1-313h1v2h-1zm0 10h1v1h-1zm0 302h1v150h-1zm1-1h1v164h-1zm1-302h1v2h-1zm0 300h1v148h-1zm1-2h1v168h-1zm1-305h1v1h-1zm0 7h1v2h-1zm0 297h1v91h-1zm1-2h1v138h-1zm1-305h1v4h-1zm0 303h1v173h-1zm1-1h1v158h-1zm1 0h1v174h-1zm1-1h1v162h-1zm1-2h1v177h-1zm1-1h1v178h-1zm1 0h1v168h-1zm1-295h1v1h-1zm0 296h1v163h-1zm1-2h1v179h-1zm1 1h1v164h-1zm1 0h1v178h-1zm1-1h3v179h-3zm3 1h1v161h-1zm1-296h1v1h-1zm0 295h1v161h-1zm1 0h2v179h-2zm2 0h1v161h-1zm1 2h1v177h-1zm1 2h1v159h-1zm1 2h1v173h-1zm1 1h1v160h-1zm1-301h1v1h-1zm0 303h1v156h-1zm1-305h1v2h-1zm0 307h1v154h-1zm1-308h1v2h-1zm0 10h1v1h-1zm0 299h1v156h-1zm1-310h1v4h-1zm0 314h1v163h-1zm1-314h1v5h-1zm0 315h1v149h-1zm1-314h1v3h-1zm0 317h1v140h-1zm1-320h1v6h-1zm0 321h1v142h-1zm1-320h1v5h-1zm0 323h1v155h-1zm1-325h1v6h-1zm0 328h1v152h-1zm1-330h1v9h-1zm0 332h1v150h-1zm1-329h1v3h-1zm0 332h1v147h-1zm1-332h1v6h-1zm0 333h1v130h-1zm1-333h1v3h-1zm0 336h1v143h-1zm1-336h1v6h-1zm0 338h1v126h-1zm1-338h1v5h-1zm0 340h1v130h-1zm1-339h1v3h-1zm0 342h1v123h-1zm1-343h1v7h-1zm0 346h1v133h-1zm1-347h1v5h-1zm0 349h1v114h-1zm1-349h1v7h-1zm0 353h1v127h-1zm1-354h1v7h-1zm0 356h1v125h-1zm1-355h1v7h-1zm0 358h1v110h-1zm1-357h1v6h-1zm0 362h1v104h-1zm1-362h1v3h-1zm0 365h1v114h-1zm1-367h1v5h-1zm0 370h1v111h-1zm1-370h1v7h-1zm0 372h1v109h-1zm1-370h1v5h-1zm0 372h1v107h-1zm1-374h1v7h-1zm0 378h1v103h-1zm1-377h1v5h-1zm0 378h1v102h-1zm1-378h1v7h-1zm0 380h1v87h-1zm1-380h1v3h-1zm0 384h1v83h-1zm1-384h2v6h-2zm0 387h1v84h-1zm1 3h1v26h-1zm1-391h1v9h-1zm0 395h1v67h-1zm1-394h1v8h-1zm0 396h1v84h-1zm1-396h1v3h-1zm0 399h1v81h-1zm1-399h2v7h-2zm0 404h1v70h-1zm1 2h1v74h-1zm1-407h1v9h-1zm0 410h1v71h-1zm1-409h1v5h-1zm0 411h1v69h-1zm1-410h1v6h-1zm0 412h1v62h-1zm1-414h1v7h-1zm0 417h1v61h-1zm1-415h1v5h-1zm0 418h1v61h-1zm1-420h2v8h-2zm0 422h1v59h-1zm1 4h1v55h-1zm1-425h1v2h-1zm0 427h1v53h-1zm1-427h1v8h-1zm0 429h1v44h-1zm1-427h1v5h-1zm0 429h1v46h-1zm1-430h1v2h-1zm0 432h1v46h-1zm1-433h1v5h-1zm0 436h1v39h-1zm1-434h1v6h-1zm0 437h1v36h-1zm1-439h1v8h-1zm0 441h1v34h-1zm1-442h1v8h-1zm0 446h1v23h-1zm1-444h1v4h-1zm0 446h1v28h-1zm1-448h1v8h-1zm0 450h1v20h-1zm1-449h2v8h-2zm0 452h1v28h-1zm1 1h1v27h-1zm1-452h2v7h-2zm0 455h1v17h-1zm1 2h1v22h-1zm1-458h1v8h-1zm0 460h1v8h-1zm1-460h1v6h-1zm0 461h1v4h-1zm1-462h1v7h-1zm0 464h1v6h-1zm1-463h1v6h-1zm0 464h1v1h-1zm1-465h1v9h-1zm0 466h1v6h-1zm1-464h1v7h-1zm0 465h1v5h-1zm1-466h1v8h-1zm0 469h1v1h-1zm1-470h1v7h-1zm1 0h1v5h-1zm0 472h1v3h-1zm1-472h1v8h-1zm1 0h1v9h-1zm0 472h1v4h-1zm1-471h1v7h-1zm0 472h1v2h-1zm1-473h1v4h-1zm0 475h1v6h-1zm1-474h1v6h-1zm0 473h1v7h-1zm1-473h1v8h-1zm1-19h1v26h-1zm0 495h1v2h-1zm1-489h1v19h-1zm0 489h1v3h-1zm1-474h1v5h-1zm0 475h1v3h-1zm1-475h1v6h-1zm0 475h1v2h-1zm1-476h2v7h-2zm0 477h2v2h-2zm2-477h1v3h-1zm0 478h1v1h-1zm1-478h1v7h-1zm1 4h1v3h-1zm1-5h1v7h-1zm1 1h1v5h-1zm1 1h1v5h-1zm1 0h1v4h-1zm1-1h1v5h-1zm1-1h1v4h-1zm1-1h1v7h-1zm1 0h1v8h-1zm1 2h1v6h-1zm1-2h1v8h-1zm1 1h1v7h-1zm1-1h1v7h-1zm1 2h1v5h-1zm1 0h1v6h-1zm1 1h1v4h-1zm1 1h1v5h-1zm1-1h1v5h-1zm1 1h1v5h-1zm1-2h1v3h-1zm1 2h1v3h-1zm1-1h1v6h-1zm1-1h1v5h-1zm1-3h1v9h-1zm1 3h1v6h-1zm1 0h1v7h-1zm1 2h1v5h-1zm1-3h1v8h-1zm1 1h1v7h-1zm1 2h1v5h-1zm1-3h1v7h-1zm1 2h1v5h-1zm1-4h1v9h-1zm1 6h1v2h-1zm1-2h1v6h-1zm1 0h1v4h-1zm1 0h1v1h-1zm1 0h1v2h-1zm1-2h1v5h-1zm1 1h1v8h-1zm1 0h1v6h-1zm1-2h1v8h-1zm1 2h1v7h-1zm1 1h1v6h-1zm1 0h1v5h-1zm1-1h2v6h-2zm2 0h1v7h-1zm1 1h1v5h-1zm1-2h1v7h-1zm1 2h1v4h-1zm1 1h1v5h-1zm1-1h1v1h-1zm1 0h1v5h-1zm2 3h1v2h-1zm1-4h1v7h-1zm1 0h1v5h-1zm1 0h1v6h-1zm1-3h1v9h-1zm1 1h1v6h-1zm1 0h2v8h-2zm2 0h1v4h-1zm1 1h1v7h-1zm1 0h2v6h-2zm2-2h1v6h-1zm1 3h1v5h-1zm1-1h1v6h-1zm1 0h1v4h-1zm1 1h1v5h-1zm1 0h1v7h-1zm1-1h1v6h-1zm1 1h1v7h-1zm1-1h1v8h-1zm1 2h1v4h-1zm1 1h1v2h-1zm1-2h1v6h-1zm1 0h1v4h-1zm1 0h1v6h-1zm1 0h1v5h-1zm1 0h1v4h-1zm1-2h1v5h-1zm1 2h1v7h-1zm1 0h1v2h-1zm1 1h1v6h-1zm1-1h1v7h-1zm1 0h1v2h-1zm1-2h1v9h-1zm1 2h1v6h-1zm1 2h1v5h-1zm1-1h1v5h-1zm1-1h2v7h-2zm2 3h1v4h-1zm1-3h1v6h-1zm3 2h1v5h-1zm1-1h1v2h-1zm1 2h1v4h-1zm1-3h1v2h-1zm1 2h1v5h-1zm0 11h1v1h-1zm1-9h1v3h-1zm0 8h1v2h-1zm1-9h1v3h-1zm1 1h1v2h-1zm1-1h1v4h-1zm1 1h1v2h-1zm3-3h1v3h-1zm0 13h1v1h-1zm1-10h2v3h-2zm2-1h1v4h-1zm0 10h1v1h-1zm1-8h1v1h-1zm1 0h1v2h-1zm1-2h1v3h-1zm1 1h1v3h-1zm1-3h1v3h-1zm1 3h1v3h-1zm0 9h3v1h-3zm1-9h3v1h-3zm3-1h1v2h-1zm1 2h1v1h-1zm1-1h1v1h-1zm1-1h1v2h-1zm1 2h2v1h-2zm2-3h1v2h-1zm1 3h3v2h-3zm3-2h1v2h-1zm2 1h1v2h-1zm2-1h1v2h-1zm1 10h1v2h-1zm2 0h1v1h-1zm1-8h1v2h-1zm2-1h1v1h-1zm1 2h1v1h-1zm2 7h1v1h-1zm1-8h1v1h-1zm1-1h1v3h-1zm1 1h1v1h-1zm3 1h1v1h-1zm4-1h2v1h-2zm2 1h1v1h-1zm1-2h1v2h-1zm1-1h1v3h-1zm2 2h1v2h-1zm2 1h1v1h-1zm1-3h2v2h-2zm6 2h1v3h-1zm2 0h1v2h-1zm3-3h1v5h-1zm1 4h1v1h-1zm1-3h1v3h-1zm3-1h1v4h-1zm1 2h1v3h-1zm1 0h1v2h-1zm5 0h1v2h-1zm0 10h1v1h-1zm1-13h1v4h-1zm1 2h1v2h-1zm1-2h1v4h-1zm2 2h1v4h-1zm0 10h1v1h-1zm1-9h1v3h-1zm0 10h1v1h-1zm1-14h1v5h-1zm1 4h1v2h-1zm1-2h1v3h-1zm2 0h1v4h-1zm2 3h1v2h-1zm1-3h1v2h-1zm2 1h1v2h-1zm1 0h1v3h-1zm2-3h1v5h-1zm1-1h1v4h-1zm2 5h1v2h-1zm1-1h1v3h-1zm1 1h1v2h-1zm1-1h1v3h-1zm4 1h1v3h-1zm1 1h1v2h-1zm3-1h1v1h-1zm1-1h1v2h-1zm2 2h1v2h-1zm2-3h1v3h-1zm1 2h1v2h-1zm1 1h1v1h-1zm1-1h1v2h-1zm2 1h1v3h-1zm2 0h1v2h-1zm1-1h1v3h-1zm2 0h1v3h-1zm1-2h1v3h-1zm1 2h1v2h-1zm1-1h1v3h-1zm2 2h1v2h-1zm0 8h1v1h-1zm1-12h1v4h-1zm5 3h1v1h-1zm1-4h1v4h-1zm1 3h1v4h-1zm2 1h1v2h-1zm3 8h1v1h-1zm2-9h1v3h-1zm2 1h1v2h-1zm4 0h1v2h-1zm1-2h1v3h-1zm1 3h1v1h-1zm1-1h1v3h-1zm1 0h1v2h-1zm3-3h1v3h-1zm3 3h1v1h-1zm0 8h1v2h-1zm1-8h1v3h-1zm0 9h1v1h-1zm1-10h1v3h-1zm1 10h2v1h-2zm2-9h1v2h-1zm1-1h1v3h-1zm1 1h1v3h-1zm2-1h1v3h-1z"/>
<path fill="#800000" d="M0 0m97 168h1v1h-1zm0 79h1v13h-1zm2-14h1v20h-1zm2 16h1v7h-1zm3-11h1v7h-1zm2 1h1v18h-1zm18-72h1v2h-1zm0 74h1v18h-1zm7-34h1v26h-1zm2 3h1v27h-1zm2 18h1v22h-1zm6-61h1v2h-1zm14 27h1v59h-1zm2-1h1v49h-1zm1-25h1v1h-1zm2 56h1v13h-1zm13 2h1v5h-1zm3-8h1v31h-1zm3-8h1v22h-1zm2-3h1v30h-1zm6 2h1v18h-1zm2-42h1v2h-1zm3 56h1v4h-1zm5-6h1v6h-1zm3-54h1v7h-1zm0 62h1v10h-1zm3-23h1v2h-1zm1 4h1v8h-1zm13-3h1v3h-1zm5 9h1v18h-1zm1-4h1v4h-1zm6-43h1v1h-1zm2 47h1v2h-1zm3-44h1v1h-1zm2 70h1v7h-1zm2-14h1v16h-1zm3-51h1v2h-1zm0 47h1v2h-1zm10-17h1v25h-1zm2-6h1v2h-1zm4 17h1v4h-1zm1-51h1v3h-1zm0 46h1v5h-1zm4 10h1v16h-1zm3-2h1v10h-1zm8-1h1v23h-1zm5-42h1v1h-1zm1 34h1v7h-1zm3-41h1v1h-1zm1-2h1v9h-1zm3 44h1v18h-1zm1-16h1v13h-1zm1-28h1v1h-1zm0 47h1v3h-1zm5-46h1v3h-1zm0 44h1v2h-1zm8 14h1v3h-1zm1-61h1v3h-1zm0 46h1v17h-1zm3-40h1v3h-1zm3 4h1v2h-1zm0 39h1v1h-1zm10-4h1v12h-1zm4-10h1v2h-1zm1 6h1v16h-1zm3-31h1v1h-1zm4 16h1v12h-1zm4 14h1v4h-1zm1 1h1v3h-1zm6-38h1v1h-1zm1 397h1v31h-1zm1-3h1v29h-1zm1-3h1v24h-1zm1-358h1v7h-1zm0 357h1v37h-1zm1-367h1v14h-1zm0 365h1v95h-1zm1-365h1v3h-1zm0 361h1v30h-1zm1 1h1v43h-1zm1-342h1v4h-1zm0 339h1v46h-1zm1-1h1v31h-1zm1-3h1v35h-1zm1-1h1v37h-1zm1-371h1v2h-1zm0 370h1v48h-1zm1 0h1v37h-1zm1-342h1v13h-1zm0 339h1v110h-1zm1-2h1v45h-1zm1 0h1v55h-1zm1-1h1v41h-1zm1-339h1v14h-1zm0 336h1v47h-1zm1-1h1v59h-1zm1-358h1v1h-1zm0 357h1v45h-1zm1 2h1v60h-1zm1-344h1v3h-1zm0 343h1v61h-1zm1-336h1v13h-1zm0 334h1v45h-1zm1-1h1v52h-1zm1-1h1v47h-1zm1 1h1v52h-1zm1-2h1v32h-1zm1 1h1v60h-1zm1-326h1v2h-1zm0 328h1v53h-1zm1 1h1v64h-1zm1 1h1v61h-1zm1-1h1v65h-1zm1 1h1v66h-1zm1 1h1v116h-1zm1 2h1v114h-1zm1-344h1v14h-1zm0 344h1v51h-1zm1-366h1v1h-1zm0 366h1v52h-1zm1 0h1v70h-1zm1-362h1v1h-1zm0 365h1v65h-1zm1-1h1v69h-1zm1-340h1v4h-1zm0 352h1v56h-1zm1-12h1v112h-1zm1 1h1v54h-1zm1 0h1v69h-1zm1-341h1v3h-1zm0 343h1v60h-1zm1-368h1v3h-1zm0 17h1v1h-1zm0 363h1v54h-1zm1-12h2v68h-2zm2-365h1v1h-1zm0 14h1v11h-1zm0 349h1v111h-1zm1-354h1v14h-1zm0 354h1v60h-1zm1 8h1v66h-1zm1-377h1v3h-1zm0 368h1v111h-1zm1-3h1v68h-1zm1-344h1v7h-1zm0 345h1v80h-1zm1-2h1v71h-1zm1 0h1v116h-1zm1-3h1v86h-1zm1 0h1v72h-1zm1-2h1v83h-1zm1-330h1v5h-1zm0 330h1v80h-1zm1 0h1v87h-1zm1-1h1v78h-1zm1 0h1v122h-1zm1-335h1v9h-1zm0 333h1v93h-1zm1-2h1v93h-1zm1 3h1v75h-1zm1-1h1v124h-1zm1-334h1v9h-1zm0 336h1v76h-1zm1 1h1v116h-1zm1 1h1v89h-1zm1 1h1v89h-1zm1-1h1v79h-1zm1 1h1v77h-1zm1 1h1v116h-1zm1-357h1v1h-1zm0 359h1v66h-1zm1 0h1v63h-1zm1 2h1v72h-1zm1-1h1v71h-1zm1 2h1v62h-1zm1 2h1v41h-1zm1-1h1v1h-1zm1 1h1v45h-1zm1-348h1v5h-1zm0 350h1v53h-1zm1 1h1v68h-1zm1-1h1v60h-1zm1-1h1v75h-1zm1 0h1v66h-1zm1 1h1v82h-1zm1-1h1v85h-1zm1-365h1v1h-1zm0 17h1v1h-1zm0 346h1v112h-1zm1 1h1v89h-1zm1 0h1v90h-1zm1-2h1v89h-1zm1-1h1v88h-1zm1 1h1v82h-1zm1-341h1v4h-1zm0 341h1v88h-1zm1-2h1v79h-1zm1-340h1v2h-1zm0 340h1v85h-1zm1-2h1v117h-1zm1 0h1v96h-1zm1-360h1v3h-1zm0 359h1v94h-1zm1 3h1v86h-1zm1-3h1v83h-1zm1-343h1v2h-1zm0 343h1v117h-1zm1-338h1v2h-1zm0 335h1v92h-1zm1 0h1v99h-1zm1 1h1v102h-1zm1-355h1v1h-1zm0 353h1v99h-1zm1-337h1v3h-1zm0 337h1v104h-1zm1 0h1v86h-1zm1-337h1v3h-1zm0 338h1v100h-1zm1-1h1v122h-1zm1-1h1v97h-1zm1 0h1v84h-1zm1 1h1v94h-1zm1-344h1v4h-1zm0 343h1v85h-1zm1-336h1v2h-1zm0 336h1v84h-1zm1-2h1v83h-1zm1 2h1v89h-1zm1-2h1v92h-1zm1 1h1v93h-1zm1-336h1v4h-1zm0 337h1v89h-1zm1 0h1v87h-1zm1-352h1v1h-1zm0 352h1v88h-1zm1-351h1v1h-1zm0 350h2v90h-2zm2 1h1v80h-1zm1 0h1v92h-1zm1 0h1v77h-1zm1 0h1v123h-1zm1 1h1v77h-1zm1 0h1v75h-1zm1 0h1v78h-1zm1 1h1v17h-1zm1-339h1v1h-1zm0 338h1v63h-1zm1 0h1v81h-1zm1 3h1v87h-1zm1-341h1v3h-1zm0 340h1v77h-1zm1 0h1v80h-1zm1-341h1v1h-1zm0 340h1v92h-1zm1 2h1v119h-1zm1-1h1v89h-1zm1 0h1v75h-1zm1 1h1v73h-1zm1-345h1v3h-1zm0 345h1v74h-1zm1-355h1v1h-1zm0 357h1v76h-1zm1-2h1v118h-1zm1 1h1v82h-1zm1 0h1v85h-1zm1-1h1v119h-1zm1 2h1v88h-1zm1 2h1v84h-1zm1-2h1v74h-1zm1 4h1v86h-1zm1-1h1v89h-1zm1-350h1v2h-1zm0 349h1v90h-1zm1-358h1v1h-1zm0 360h1v113h-1zm1 0h1v89h-1zm1-351h1v2h-1zm0 350h1v77h-1zm1-348h1v1h-1zm0 350h1v105h-1zm1-17h1v129h-1zm1 3h1v86h-1zm1 21h1v66h-1zm1 0h1v105h-1zm1 2h1v103h-1zm1 2h1v73h-1zm1 2h1v99h-1zm1-366h1v2h-1zm0 367h1v72h-1zm1 2h1v96h-1zm1-370h1v5h-1zm0 372h1v94h-1zm1 3h1v66h-1zm1 2h1v62h-1zm1 2h1v58h-1zm1-376h1v2h-1zm0 379h1v60h-1zm1 2h1v82h-1zm1-391h1v1h-1zm0 393h1v80h-1zm1-381h1v1h-1zm0 384h1v77h-1zm1 2h1v43h-1zm1 2h1v50h-1zm1 3h1v70h-1zm1 2h1v46h-1zm1 2h1v59h-1zm1-396h1v1h-1zm0 398h1v27h-1zm1 1h1v63h-1zm1 2h1v56h-1zm1-404h1v2h-1zm0 406h1v59h-1zm1 2h1v33h-1zm1-406h1v1h-1zm0 406h1v31h-1zm1 1h1v56h-1zm2 1h1v2h-1zm1-409h2v1h-2zm0 409h1v20h-1zm1 1h1v54h-1zm1 0h1v20h-1zm1-409h1v1h-1zm0 409h2v54h-2zm2-420h1v1h-1zm0 420h1v35h-1zm1 0h1v34h-1zm1 0h1v53h-1zm1-412h1v2h-1zm0 412h1v36h-1zm1 0h1v33h-1zm1 0h1v34h-1zm1 0h1v31h-1zm17-411h1v1h-1zm5-1h1v1h-1zm4 1h1v1h-1zm3-1h1v2h-1zm1-8h1v2h-1zm2 9h1v1h-1zm8-1h1v1h-1zm5 0h1v1h-1zm2 0h1v1h-1zm6 1h1v1h-1zm21-8h1v1h-1zm0 7h1v1h-1zm3 1h1v1h-1zm3-1h1v2h-1zm11 1h1v1h-1zm1-9h1v2h-1zm4 8h1v2h-1zm15 1h1v1h-1zm15-7h1v1h-1zm1 6h1v1h-1zm1 1h1v1h-1zm13 0h1v1h-1zm2 0h1v1h-1zm6 0h1v1h-1zm3-1h1v1h-1zm5-7h1v1h-1zm2 7h1v1h-1zm5-8h1v1h-1zm0 9h1v1h-1zm3 0h1v1h-1zm11-7h1v1h-1zm0 7h1v1h-1zm16-1h1v1h-1zm8 0h1v1h-1zm4 0h1v1h-1zm2-7h1v1h-1zm5 0h1v1h-1zm0 8h1v1h-1zm3-1h1v1h-1zm2 0h1v1h-1zm4-8h1v1h-1zm8 8h1v1h-1zm1 1h1v1h-1zm4 0h1v1h-1zm7-1h1v1h-1zm3 0h1v2h-1zm19 0h1v1h-1zm1-6h1v1h-1zm7 6h1v2h-1zm3 0h1v1h-1zm17 0h1v1h-1zm8-7h1v1h-1zm5 7h1v1h-1zm10 1h1v1h-1zm2-1h1v1h-1zm10-1h1v1h-1zm14 1h1v1h-1zm6 0h1v1h-1zm2-7h1v1h-1zm5 8h1v1h-1zm8 0h1v1h-1zm6 0h1v1h-1zm1-1h1v1h-1zm14 1h1v1h-1zm27-1h1v1h-1zm6 0h1v1h-1z"/>
<path fill="#00ffff" d="M0 0m97 434h1v126h-1zm1-160h1v11h-1zm0 153h1v176h-1zm1 0h1v142h-1zm1 6h1v53h-1zm1-1h1v62h-1zm1-238h1v49h-1zm0 239h1v107h-1zm1 23h1v100h-1zm1-4h1v94h-1zm1-19h1v110h-1zm1 1h1v17h-1zm1-212h1v21h-1zm0 245h1v98h-1zm1-11h1v101h-1zm1-22h1v176h-1zm1-1h1v18h-1zm1 3h1v129h-1zm1-217h1v53h-1zm0 232h1v4h-1zm1-252h1v59h-1zm0 250h1v174h-1zm1-13h1v175h-1zm1 0h1v123h-1zm1-269h1v1h-1zm0 268h1v184h-1zm1-2h1v121h-1zm1-200h1v23h-1zm0 238h1v146h-1zm1-15h1v161h-1zm1-24h1v122h-1zm1-263h1v2h-1zm0 265h1v182h-1zm1-198h1v23h-1zm0 208h1v105h-1zm1-2h1v106h-1zm1-225h1v24h-1zm0 212h1v112h-1zm1-223h1v33h-1zm0 229h1v8h-1zm1 1h1v97h-1zm1 15h1v76h-1zm1 3h1v66h-1zm1 4h1v56h-1zm1-285h1v1h-1zm0 35h1v23h-1zm0 222h1v87h-1zm1 3h1v14h-1zm1-3h1v103h-1zm1 6h1v100h-1zm1-269h1v3h-1zm0 267h1v143h-1zm1-222h1v16h-1zm0 222h1v151h-1zm1-263h1v1h-1zm0 265h1v5h-1zm1-218h1v19h-1zm0 231h1v114h-1zm1-18h1v121h-1zm1 12h1v119h-1zm1-202h1v1h-1zm0 196h1v141h-1zm1 34h1v98h-1zm1-238h1v13h-1zm0 201h1v178h-1zm1 0h1v115h-1zm1 1h1v159h-1zm1 2h1v148h-1zm1 33h1v146h-1zm1-33h1v109h-1zm1-1h1v122h-1zm1 24h1v156h-1zm1-25h1v179h-1zm1 11h1v114h-1zm1-11h1v165h-1zm1-195h1v14h-1zm0 218h1v100h-1zm1-23h1v163h-1zm1-242h1v1h-1zm0 244h1v28h-1zm1 24h1v95h-1zm1-3h1v72h-1zm1-26h1v122h-1zm1-260h1v3h-1zm0 51h1v19h-1zm0 207h1v184h-1zm1 6h1v3h-1zm1 12h1v112h-1zm1-10h1v178h-1zm1-3h1v140h-1zm1-220h1v35h-1zm0 222h1v170h-1zm2-2h1v15h-1zm1 33h1v149h-1zm1-31h1v138h-1zm1-2h1v182h-1zm1 18h1v150h-1zm1-240h1v8h-1zm0 236h1v12h-1zm1-19h1v170h-1zm1-224h1v20h-1zm0 231h1v178h-1zm1-241h1v23h-1zm0 239h1v134h-1zm1 3h1v179h-1zm1-278h1v5h-1zm0 56h1v2h-1zm0 220h1v123h-1zm1 0h1v176h-1zm1 2h1v161h-1zm1-1h1v121h-1zm1 34h1v139h-1zm1-5h1v97h-1zm1-28h1v119h-1zm1-1h1v163h-1zm1-225h1v3h-1zm0 220h1v30h-1zm1-216h1v4h-1zm0 252h1v118h-1zm1-35h1v130h-1zm1 23h1v148h-1zm1-254h1v1h-1zm0 237h1v174h-1zm1-2h1v120h-1zm1 10h1v162h-1zm1-277h1v3h-1zm0 269h1v128h-1zm1-228h1v12h-1zm0 223h1v175h-1zm1 5h1v173h-1zm1-232h1v15h-1zm0 237h1v13h-1zm1-6h1v36h-1zm1 1h1v138h-1zm1-274h1v1h-1zm0 274h1v170h-1zm1-215h1v1h-1zm0 216h1v167h-1zm1 9h1v129h-1zm1-258h1v34h-1zm0 249h1v65h-1zm1-3h1v170h-1zm1-1h1v145h-1zm1 1h1v168h-1zm1 32h1v114h-1zm1-1h1v105h-1zm1-17h1v107h-1zm1-280h1v2h-1zm0 266h1v134h-1zm1 0h1v87h-1zm1 0h1v133h-1zm1 1h1v131h-1zm1-265h1v2h-1zm0 278h1v117h-1zm1-17h1v133h-1zm1-259h1v1h-1zm0 265h1v126h-1zm1 16h1v109h-1zm1 0h1v108h-1zm1-291h1v1h-1zm0 274h1v123h-1zm1-1h1v16h-1zm1-218h1v7h-1zm0 232h1v19h-1zm1-295h1v14h-1zm0 284h1v118h-1zm1-3h1v120h-1zm1-1h1v119h-1zm1 2h1v116h-1zm1 7h1v107h-1zm1-234h1v8h-1zm0 223h1v117h-1zm1-238h1v19h-1zm0 244h1v109h-1zm1 19h1v88h-1zm1-21h1v108h-1zm1 11h1v95h-1zm1-233h1v8h-1zm0 223h1v103h-1zm1-2h1v103h-1zm1-239h1v13h-1zm0 234h1v43h-1zm1 8h1v97h-1zm1 10h1v4h-1zm1-282h1v2h-1zm0 278h1v13h-1zm1-9h1v79h-1zm1 2h1v90h-1zm1-1h1v47h-1zm1 1h1v7h-1zm1-1h1v85h-1zm1 19h1v64h-1zm1-251h1v13h-1zm0 229h1v84h-1zm1 4h1v78h-1zm1 1h1v75h-1zm1-225h1v4h-1zm0 224h1v74h-1zm1-2h1v12h-1zm1-225h1v4h-1zm0 227h1v71h-1zm1-216h1v5h-1zm0 250h1v35h-1zm1-316h1v6h-1zm0 282h1v67h-1zm1-240h1v36h-1zm0 277h1v28h-1zm1-274h1v7h-1zm0 236h1v64h-1zm1 2h1v61h-1zm1-234h1v1h-1zm0 258h1v36h-1zm1 2h1v33h-1zm1-26h1v57h-1zm1 19h1v37h-1zm1-286h1v1h-1zm0 30h1v3h-1zm0 236h1v56h-1zm1-237h1v11h-1zm0 266h1v27h-1zm1-269h1v9h-1zm0 263h1v32h-1zm1-21h1v52h-1zm1-1h1v53h-1zm1 2h1v51h-1zm1-240h1v16h-1zm0 261h1v29h-1zm1-300h1v1h-1zm0 29h1v25h-1zm0 249h1v51h-1zm1-7h1v59h-1zm1-266h1v3h-1zm0 275h1v50h-1zm1-237h1v5h-1zm0 234h1v53h-1zm1 25h1v29h-1zm1-23h1v20h-1zm1 1h1v51h-1zm1-275h1v5h-1zm0 37h1v14h-1zm0 237h1v52h-1zm1-2h1v54h-1zm1-278h1v1h-1zm0 291h1v41h-1zm1-1h1v42h-1zm1-283h1v1h-1zm1 30h1v33h-1zm0 242h1v52h-1zm1-275h1v1h-1zm0 276h1v50h-1zm1-1h1v50h-1zm1 1h1v48h-1zm1 0h1v32h-1zm1-248h1v32h-1zm0 245h1v53h-1zm1 23h1v31h-1zm1-18h1v9h-1zm1-7h1v24h-1zm1-245h1v24h-1zm0 249h1v54h-1zm1 2h1v52h-1zm1-281h1v3h-1zm0 319h1v14h-1zm1-4h1v18h-1zm1-32h1v50h-1zm1-3h1v54h-1zm1 1h1v53h-1zm1 8h1v21h-1zm1-255h1v12h-1zm0 254h1v4h-1zm1-5h1v12h-1zm1 11h1v41h-1zm1-12h1v53h-1zm1 24h1v29h-1zm1-298h1v2h-1zm0 291h1v36h-1zm1-247h1v1h-1zm0 229h1v55h-1zm1 14h1v41h-1zm1-263h1v12h-1zm0 287h1v17h-1zm1-315h1v6h-1zm0 316h1v17h-1zm1-39h1v57h-1zm1-275h1v3h-1zm0 291h1v42h-1zm1-12h1v3h-1zm1-1h1v57h-1zm1-254h1v17h-1zm0 249h1v64h-1zm1 3h1v62h-1zm1-234h1v1h-1zm0 231h1v67h-1zm1 7h1v61h-1zm1-278h1v1h-1zm0 16h1v27h-1zm0 270h1v13h-1zm1-3h1v59h-1zm1-283h1v4h-1zm0 278h1v66h-1zm1-2h1v69h-1zm1 25h1v46h-1zm1-22h1v70h-1zm1-4h1v75h-1zm1-4h1v80h-1zm1 7h1v75h-1zm1-276h1v1h-1zm0 22h1v4h-1zm0 252h1v21h-1zm1 39h1v41h-1zm1-319h1v3h-1zm0 282h1v80h-1zm1-4h1v86h-1zm1 5h1v84h-1zm1-280h1v4h-1zm0 276h1v90h-1zm1 35h1v57h-1zm1-32h1v91h-1zm1 9h1v84h-1zm1-19h1v106h-1zm1-233h1v2h-1zm0 259h1v82h-1zm1-277h1v1h-1zm0 276h1v85h-1zm1-295h1v1h-1zm0 277h1v105h-1zm1-2h1v108h-1zm1-243h1v14h-1zm0 252h1v99h-1zm1-254h1v4h-1zm0 255h1v84h-1zm1-288h1v2h-1zm0 284h1v23h-1zm1-279h1v3h-1zm0 282h1v5h-1zm1-281h1v3h-1zm0 274h1v9h-1zm1-271h1v1h-1zm0 168h10v28h-10zm0 111h1v68h-1zm1 38h1v60h-1zm1 37h1v17h-1zm1-77h1v109h-1zm1 4h1v107h-1zm1 0h1v104h-1zm1-262h1v10h-1zm0 294h1v69h-1zm1-38h1v106h-1zm1 10h1v29h-1zm1-274h1v3h-1zm0 267h1v97h-1zm1-279h1v2h-1zm0 280h1v97h-1zm1-4h1v98h-1zm1 1h1v96h-1zm1 6h1v87h-1zm1 1h1v85h-1zm1-6h1v90h-1zm1-283h1v2h-1zm0 283h1v10h-1zm1 5h1v8h-1zm1-268h1v8h-1zm0 281h1v67h-1zm1-296h1v1h-1zm0 280h1v83h-1zm1 28h1v54h-1zm1-3h1v54h-1zm1-311h1v4h-1zm0 39h1v1h-1zm0 244h1v81h-1zm1 22h1v58h-1zm1-281h1v13h-1zm0 268h1v73h-1zm1-286h1v1h-1zm0 319h1v39h-1zm1 5h1v32h-1zm1-36h1v67h-1zm1 15h1v51h-1zm1 21h1v31h-1zm1-12h1v41h-1zm1-22h1v64h-1zm1-278h1v16h-1zm0 272h1v72h-1zm1-284h1v1h-1zm0 290h1v67h-1zm1-267h1v4h-1zm0 258h1v77h-1zm1-285h1v1h-1zm0 27h1v12h-1zm0 264h1v70h-1zm1-270h1v4h-1zm0 272h1v69h-1zm1 0h1v70h-1zm1-3h1v75h-1zm1-5h1v80h-1zm1-260h1v4h-1zm0 306h1v34h-1zm1-22h1v56h-1zm1-287h1v12h-1zm0 266h1v35h-1zm1-283h1v1h-1zm0 19h1v9h-1zm0 271h1v8h-1zm1 8h1v62h-1zm1 4h1v60h-1zm1-14h1v7h-1zm1 16h1v59h-1zm1-23h1v84h-1zm1 46h1v31h-1zm1-330h1v1h-1zm0 292h1v56h-1zm1 3h1v73h-1zm1 37h1v34h-1zm1-40h1v74h-1zm1 3h1v69h-1zm1-295h1v1h-1zm0 296h1v69h-1zm1-273h1v7h-1zm0 275h1v64h-1zm1-3h1v68h-1zm1-270h1v4h-1zm0 272h1v64h-1zm1-1h1v65h-1zm1 1h1v61h-1zm1 19h1v42h-1zm1-289h1v2h-1zm0 270h1v20h-1zm1 16h1v43h-1zm1 21h1v22h-1zm1-40h1v61h-1zm3 21h1v36h-1zm1-17h1v56h-1zm1 9h1v46h-1zm1-8h1v12h-1zm1 3h1v16h-1zm2 3h1v18h-1zm1-1h1v53h-1zm1 11h1v43h-1zm1-296h1v5h-1zm0 287h1v53h-1zm1 14h1v24h-1zm1 2h1v39h-1zm1-29h1v18h-1zm1-276h1v2h-1zm0 301h1v44h-1zm1-14h1v60h-1zm1-288h1v10h-1zm0 317h1v33h-1zm1-3h1v35h-1zm1-311h1v3h-1zm0 296h1v51h-1zm1-13h1v66h-1zm1 8h1v22h-1zm1-307h1v1h-1zm0 319h1v19h-1zm1-323h1v2h-1zm0 18h1v5h-1zm0 289h1v61h-1zm1 21h1v40h-1zm1-27h1v68h-1zm1 1h1v66h-1zm1-298h1v2h-1zm0 344h1v3h-1zm2-39h1v27h-1zm1 3h1v53h-1zm1 33h1v19h-1zm1-343h1v1h-1zm0 345h1v18h-1zm1-39h1v57h-1zm2-288h1v3h-1zm0 290h1v53h-1zm1-297h1v3h-1zm0 303h1v45h-1zm1-296h1v1h-1zm0 291h1v50h-1zm1 8h1v41h-1zm1-299h1v2h-1zm0 297h1v46h-1zm1-295h1v1h-1zm0 278h1v60h-1zm1-286h1v3h-1zm0 297h1v8h-1zm1-291h1v2h-1zm0 297h1v40h-1zm3-300h1v3h-1zm0 296h1v43h-1zm1-295h1v1h-1zm0 310h1v28h-1zm1-3h1v31h-1zm1-312h1v6h-1zm0 307h1v37h-1zm1-2h1v38h-1zm1-11h1v48h-1zm1 28h1v20h-1zm1-331h1v1h-1zm0 311h1v41h-1zm1 6h1v34h-1zm1-1h1v35h-1zm1-4h1v37h-1zm1-301h1v4h-1zm0 298h1v42h-1zm1 4h1v36h-1zm1 24h1v13h-1zm1-18h1v32h-1zm1-307h1v1h-1zm0 329h1v10h-1zm1-328h1v3h-1zm0 324h1v14h-1zm1-18h1v31h-1zm2 0h1v32h-1zm1 28h1v4h-1zm1-348h1v2h-1zm0 319h1v33h-1zm1-1h1v34h-1zm1 20h1v15h-1zm1-22h1v37h-1zm1 23h1v14h-1zm1-327h1v5h-1zm0 332h1v10h-1zm1-331h1v2h-1zm1 307h1v33h-1zm1 5h1v31h-1zm2-8h1v38h-1zm1 13h1v24h-1zm1-7h1v33h-1zm1-310h1v2h-1zm0 311h1v31h-1zm1 26h1v5h-1zm1-24h1v30h-1zm1 10h1v20h-1zm1-14h1v10h-1zm1 1h1v33h-1zm1 9h1v25h-1zm1-9h1v34h-1zm1-322h1v1h-1zm0 345h1v10h-1zm1-16h1v28h-1zm1 24h1v6h-1zm1-339h1v1h-1zm0 331h1v12h-1zm1-5h1v21h-1zm1 5h1v15h-1zm1-337h1v2h-1zm0 320h1v31h-1zm1 17h1v16h-1zm1-12h1v28h-1zm1 17h1v3h-1zm2-20h1v15h-1zm2 10h1v29h-1zm1 1h1v28h-1zm1-331h1v1h-1zm0 331h1v30h-1zm1-330h1v1h-1zm0 326h1v10h-1zm1 18h1v20h-1zm1-16h1v30h-1zm1 3h1v36h-1zm1-3h1v41h-1zm1 4h1v8h-1zm1-331h1v1h-1zm1 329h1v46h-1zm1 1h1v48h-1zm1 6h1v44h-1zm1 3h1v1h-1zm1-351h1v2h-1zm0 349h1v48h-1zm1-5h1v55h-1zm1 2h1v55h-1zm1-345h1v1h-1zm0 336h1v67h-1zm1 52h1v17h-1zm1-41h1v29h-1zm1 4h1v58h-1zm1 0h1v57h-1zm1-2h1v16h-1zm1 18h1v39h-1zm1-5h1v41h-1zm1-354h1v2h-1zm0 367h1v27h-1zm1-22h1v48h-1zm1 1h1v21h-1zm1-345h1v1h-1zm0 359h1v29h-1zm1 19h1v9h-1zm1-34h1v43h-1zm1-345h1v1h-1zm0 343h1v43h-1zm1-2h1v43h-1zm3-340h1v1h-1zm0 350h1v29h-1zm1-360h1v2h-1zm0 378h1v11h-1zm1 0h1v9h-1zm1-1h1v8h-1zm1-16h1v22h-1zm1 5h1v16h-1zm1-11h1v25h-1zm2 7h1v7h-1zm1 0h1v12h-1zm1-362h1v1h-1zm0 363h1v9h-1zm1 2h1v5h-1zm1 0h1v3h-1zm13-357h1v1h-1zm6 0h1v1h-1zm2-8h1v1h-1zm1 1h1v1h-1zm1 8h1v1h-1zm6 0h1v1h-1zm11-2h1v1h-1zm24-6h1v1h-1zm2 0h1v1h-1zm3 7h1v1h-1zm4-1h1v1h-1zm2 1h1v1h-1zm2 1h1v1h-1zm15-1h1v1h-1zm1 1h1v1h-1zm8-9h1v1h-1zm3 8h1v1h-1zm8 1h1v1h-1zm2-1h1v1h-1zm3 1h1v1h-1zm12-1h1v1h-1zm4 1h1v1h-1zm6-1h1v2h-1zm5 0h1v1h-1zm6 1h1v1h-1zm3-1h1v2h-1zm7 0h1v1h-1zm1 0h2v2h-2zm3 0h1v1h-1zm3 0h1v1h-1zm19-7h1v1h-1zm2 0h1v1h-1zm5 7h1v1h-1zm6-1h1v1h-1zm1-6h1v1h-1zm1 7h1v1h-1zm4 1h1v1h-1zm1-1h1v1h-1zm2-8h1v2h-1zm10 9h1v1h-1zm7 0h1v1h-1zm1-1h1v1h-1zm3 0h1v2h-1zm10 0h2v1h-2zm4-1h1v3h-1zm4-6h1v1h-1zm6 7h1v1h-1zm2 1h1v1h-1zm4-1h1v1h-1zm8 0h1v1h-1zm5 0h1v1h-1zm7-7h1v1h-1zm15 7h1v1h-1zm2 0h1v1h-1zm4 0h1v1h-1zm5 0h1v1h-1zm9 0h1v1h-1zm11 0h1v1h-1zm1-1h1v2h-1zm5 1h1v1h-1zm1-8h1v2h-1zm2 0h1v2h-1zm4 0h1v1h-1zm2 7h1v1h-1zm0 461h1v3h-1zm1-4h1v12h-1zm1-1h1v13h-1zm2-7h1v20h-1zm2-448h1v1h-1zm0 441h1v27h-1zm1-449h1v1h-1zm2 443h1v33h-1zm2-1h1v6h-1zm1-1h1v35h-1zm2-4h1v39h-1zm1 2h1v6h-1zm1-438h1v1h-1zm0 434h1v41h-1zm1 2h1v39h-1zm1-429h2v1h-2zm2-1h1v2h-1zm0 427h1v42h-1zm1-3h1v11h-1zm1 3h1v42h-1zm1 14h1v28h-1zm1-21h1v18h-1zm1-5h1v26h-1zm1 0h1v54h-1zm1 0h1v23h-1zm1-6h1v60h-1zm1-416h1v1h-1zm0 9h1v1h-1zm0 406h1v38h-1zm1-407h1v1h-1zm0 407h1v61h-1zm1-2h1v63h-1zm1-2h1v48h-1zm1-403h1v1h-1zm0 400h1v56h-1zm2-3h1v42h-1zm1 1h1v47h-1zm1-2h1v53h-1zm1 3h1v55h-1zm1-5h1v74h-1zm3 1h1v73h-1zm1-4h1v65h-1zm1-392h1v1h-1zm0 412h1v57h-1zm1-412h1v2h-1zm0 388h1v81h-1zm1-4h1v60h-1zm1 8h1v77h-1zm1-10h1v87h-1zm1-1h1v67h-1zm1-1h1v89h-1zm1-1h1v77h-1zm1 1h1v89h-1zm1 1h1v28h-1zm1-4h1v79h-1zm1-3h1v95h-1zm1-373h1v1h-1zm0 371h1v97h-1zm1 3h1v79h-1zm1 0h1v94h-1zm1-381h1v1h-1zm0 7h1v1h-1zm0 371h1v90h-1zm1-3h1v100h-1zm1-1h1v101h-1zm1 12h1v78h-1zm1-6h1v95h-1zm1-373h2v1h-2zm0 361h1v107h-1zm1 0h1v101h-1zm1-369h1v2h-1zm0 9h1v1h-1zm0 360h1v107h-1zm1-368h1v1h-1zm0 365h1v110h-1zm1-2h1v108h-1zm1-2h1v114h-1zm1 4h1v110h-1zm1-358h1v1h-1zm0 349h2v119h-2zm2 3h1v63h-1zm1 9h1v107h-1zm1-14h1v50h-1zm1 6h1v47h-1zm1-8h1v123h-1zm1-1h1v124h-1zm1 6h1v118h-1zm1 6h1v112h-1zm1 5h1v107h-1zm1-21h1v128h-1zm1-1h1v129h-1zm1-339h1v1h-1zm0 336h1v132h-1z"/>
<path fill="#ff00ff" d="M0 0m96 271h1v30h-1zm1 348h1v32h-1zm1-16h1v48h-1zm1-395h1v25h-1zm2 14h1v27h-1zm2-14h1v4h-1zm0 412h1v31h-1zm3-415h1v34h-1zm0 412h1v34h-1zm2 6h1v28h-1zm1-13h1v41h-1zm2-395h1v33h-1zm0 403h1v33h-1zm2 5h1v28h-1zm1-12h1v40h-1zm4 6h2v34h-2zm2-1h2v35h-2zm1-384h1v8h-1zm2-31h1v46h-1zm1 6h1v10h-1zm0 402h1v42h-1zm1-420h1v17h-1zm1 15h1v35h-1zm1 415h1v32h-1zm1-424h1v36h-1zm0 421h1v35h-1zm2-417h1v9h-1zm0 419h1v33h-1zm2 2h1v31h-1zm1-448h1v2h-1zm0 442h1v37h-1zm2-415h1v13h-1zm6 38h1v3h-1zm1 375h1v39h-1zm1-63h1v102h-1zm1-351h1v50h-1zm0 396h1v57h-1zm1 21h1v36h-1zm1 1h1v35h-1zm1-393h1v11h-1zm0 392h1v36h-1zm2-397h1v27h-1zm0 398h1v35h-1zm1-2h1v37h-1zm1-426h1v47h-1zm0 429h1v34h-1zm1-17h1v51h-1zm1 17h1v34h-1zm1-19h1v53h-1zm2-364h1v25h-1zm0 384h1v33h-1zm1-426h1v1h-1zm0 427h2v32h-2zm1-450h1v1h-1zm0 56h1v17h-1zm1 389h1v37h-1zm3-422h1v18h-1zm0 424h1v35h-1zm1-442h1v1h-1zm0 444h1v33h-1zm1-11h1v44h-1zm2 8h1v36h-1zm1 2h1v34h-1zm1-1h1v35h-1zm1-449h1v4h-1zm0 61h1v13h-1zm0 389h1v34h-1zm1-383h1v14h-1zm0 369h1v48h-1zm1-397h1v7h-1zm1-32h1v1h-1zm0 426h1v51h-1zm1-411h1v17h-1zm0 426h1v36h-1zm1-441h1v2h-1zm1 34h1v34h-1zm0 409h1v34h-1zm2-454h1v4h-1zm0 449h1v39h-1zm1-13h1v52h-1zm1-392h1v3h-1zm0 402h1v42h-1zm1 1h1v41h-1zm2-437h1v2h-1zm0 21h1v1h-1zm1 0h1v19h-1zm0 406h1v51h-1zm1-399h1v11h-1zm0 340h1v110h-1zm1 45h1v65h-1zm1 11h1v54h-1zm1 7h1v47h-1zm1-408h1v6h-1zm0 417h1v38h-1zm1-410h1v11h-1zm1-2h1v16h-1zm0 408h1v42h-1zm1-436h1v1h-1zm0 424h1v54h-1zm1-388h1v2h-1zm0 400h1v42h-1zm1 3h1v39h-1zm1-414h1v9h-1zm0 402h1v51h-1zm1 11h1v40h-1zm1-424h1v30h-1zm0 409h1v55h-1zm1 13h1v42h-1zm1-416h1v31h-1zm0 414h1v44h-1zm2-437h1v1h-1zm1 49h1v2h-1zm0 388h1v44h-1zm2-438h1v2h-1zm0 26h1v7h-1zm0 410h1v46h-1zm2-3h1v49h-1zm3-8h1v57h-1zm2-429h1v3h-1zm0 429h1v57h-1zm1 9h1v48h-1zm2-3h1v51h-1zm2 5h1v46h-1zm1-439h1v6h-1zm0 435h1v50h-1zm2-383h1v2h-1zm1 386h1v47h-1zm1-370h1v7h-1zm0 365h2v52h-2zm2-432h1v4h-1zm0 436h1v48h-1zm1-402h1v7h-1zm0 445h1v5h-1zm1-3h1v8h-1zm1-472h1v3h-1zm0 16h1v10h-1zm0 412h1v52h-1zm1-9h1v61h-1zm1-389h1v5h-1zm0 401h1v49h-1zm1-439h1v9h-1zm0 465h1v23h-1zm1-44h1v67h-1zm1-345h1v4h-1zm0 362h1v50h-1zm1-1h2v51h-2zm2-435h1v10h-1zm0 433h1v53h-1zm1-427h1v1h-1zm0 418h1v62h-1zm1-382h1v11h-1zm0 435h1v9h-1zm1 7h1v2h-1zm1-1h1v3h-1zm1-452h1v28h-1zm0 453h1v2h-1zm1-47h1v49h-1zm1-436h1v1h-1zm0 433h1v52h-1zm1-424h1v1h-1zm0 427h1v49h-1zm1-437h1v5h-1zm0 436h1v50h-1zm1-2h1v52h-1zm1-394h1v11h-1zm0 435h1v11h-1zm1-51h1v62h-1zm1 9h1v53h-1zm1-2h1v55h-1zm1-14h1v69h-1zm1 12h1v57h-1zm1-393h1v2h-1zm0 392h1v58h-1zm1-425h2v3h-2zm0 424h1v59h-1zm1-404h1v19h-1zm0 453h1v10h-1zm1-58h1v68h-1zm1-359h1v4h-1zm0 360h1v67h-1zm1-416h1v5h-1zm0 426h1v57h-1zm1-419h1v1h-1zm0 417h1v59h-1zm1 2h1v57h-1zm1-13h1v70h-1zm1 68h1v2h-1zm1-446h1v16h-1zm0 383h1v65h-1zm1-373h1v2h-1zm0 436h2v2h-2zm2-70h1v72h-1zm1-17h1v89h-1zm1 10h1v79h-1zm1-398h1v2h-1zm0 399h1v78h-1zm1-3h1v81h-1zm1-361h1v14h-1zm0 357h1v85h-1zm1-400h1v4h-1zm0 399h1v86h-1zm1 84h2v2h-2zm2-86h1v88h-1zm1-361h1v14h-1zm0 447h1v2h-1zm1-71h1v73h-1zm1 5h1v68h-1zm1-1h1v69h-1zm1-8h1v77h-1zm1 75h1v2h-1zm1-7h2v9h-2zm2-474h1v4h-1zm0 424h2v59h-2zm2-399h1v28h-1zm0 408h1v50h-1zm1-427h1v1h-1zm0 11h1v8h-1zm0 403h1v63h-1zm1-384h1v7h-1zm0 397h1v50h-1zm1-435h1v6h-1zm0 436h2v49h-2zm2-436h1v4h-1zm0 39h1v7h-1zm0 444h1v2h-1zm1-44h1v46h-1zm1 1h1v45h-1zm1-14h1v59h-1zm1 12h1v47h-1zm1-403h1v9h-1zm0 448h1v2h-1zm1-49h1v51h-1zm1-408h1v20h-1zm0 457h1v2h-1zm1-489h1v7h-1zm0 430h1v61h-1zm1 8h1v53h-1zm1-406h1v23h-1zm0 405h1v54h-1zm1-1h1v55h-1zm1-10h1v65h-1zm1-413h1v2h-1zm0 424h1v54h-1zm1 2h1v52h-1zm1 50h1v2h-1zm1-51h1v53h-1zm1-12h1v65h-1zm1-418h1v4h-1zm0 481h1v2h-1zm1-67h1v69h-1zm1 2h1v67h-1zm1 10h1v57h-1zm1-14h1v71h-1zm1-413h1v4h-1zm0 429h1v55h-1zm1-395h1v3h-1zm0 435h1v15h-1zm1-428h1v10h-1zm0 371h1v72h-1zm1 70h1v2h-1zm1-74h1v76h-1zm1-403h1v2h-1zm0 27h1v18h-1zm0 388h1v64h-1zm1-415h1v5h-1zm0 46h1v4h-1zm0 356h1v77h-1zm1 1h1v76h-1zm1 10h1v66h-1zm1-416h1v1h-1zm0 415h1v67h-1zm1-414h1v2h-1zm0 398h1v83h-1zm1 12h1v71h-1zm1-386h1v10h-1zm0 455h1v2h-1zm1-456h1v26h-1zm0 389h1v69h-1zm1-414h1v3h-1zm0 415h2v68h-2zm2-1h1v69h-1zm1-412h1v2h-1zm0 479h2v2h-2zm2-481h1v4h-1zm0 421h1v62h-1zm1-3h1v65h-1zm1-392h1v13h-1zm0 455h1v2h-1zm1-450h1v2h-1zm0 390h1v62h-1zm1 4h1v58h-1zm1-3h1v61h-1zm1 54h1v7h-1zm1-455h1v11h-1zm0 398h1v64h-1zm1 4h1v60h-1zm1 1h1v59h-1zm1-1h1v60h-1zm1-392h1v5h-1zm0 390h1v62h-1zm1-377h1v2h-1zm0 382h1v57h-1zm1-5h1v62h-1zm1-397h1v2h-1zm0 389h1v70h-1zm1-394h1v12h-1zm0 406h1v58h-1zm1 56h1v2h-1zm1-69h1v71h-1zm1-384h1v6h-1zm0 398h2v57h-2zm1-393h1v8h-1zm1-8h1v7h-1zm0 385h1v73h-1zm1 1h1v72h-1zm1-379h1v12h-1zm0 380h1v71h-1zm1-374h1v3h-1zm0 384h1v61h-1zm1-419h1v3h-1zm0 408h1v72h-1zm1 70h1v2h-1zm1-67h1v69h-1zm1-398h1v18h-1zm0 408h1v59h-1zm1-15h1v74h-1zm1-393h1v13h-1zm0 396h1v71h-1zm1-408h1v2h-1zm0 419h1v60h-1zm1-416h1v2h-1zm0 401h1v75h-1zm1-387h1v3h-1zm0 404h2v58h-2zm2-18h1v76h-1zm1-375h1v6h-1zm0 381h1v70h-1zm1-6h1v76h-1zm1-400h1v1h-1zm0 30h1v2h-1zm0 376h1v70h-1zm1-22h1v92h-1zm1 29h1v63h-1zm1-414h1v2h-1zm0 409h1v68h-1zm1-384h1v3h-1zm0 396h1v56h-1zm1-422h1v2h-1zm0 420h1v58h-1zm1-399h1v3h-1zm0 402h1v55h-1zm1 2h1v53h-1zm1-398h1v3h-1zm0 449h2v2h-2zm2-63h1v65h-1zm1 1h1v64h-1zm1 18h1v46h-1zm1-2h1v48h-1zm1-418h1v9h-1zm0 421h1v45h-1zm1-1h1v46h-1zm1-416h1v13h-1zm0 460h1v2h-1zm1-57h1v59h-1zm1 15h1v44h-1zm1-412h1v2h-1zm0 405h1v51h-1zm1-425h1v1h-1zm0 431h1v45h-1zm1 2h2v43h-2zm2-424h1v5h-1zm0 465h1v2h-1zm1-51h1v53h-1zm1 14h1v39h-1zm1-439h1v2h-1zm0 19h1v6h-1zm0 456h1v3h-1zm1-46h1v49h-1zm1 13h1v36h-1zm1-425h1v7h-1zm0 414h1v47h-1zm1-411h1v8h-1zm0 456h1v2h-1zm1-33h1v35h-1zm1-14h1v49h-1zm1-428h1v2h-1zm0 437h1v40h-1zm1-3h1v43h-1zm1-409h1v4h-1zm0 416h1v36h-1zm1-428h1v6h-1zm0 418h1v46h-1zm1 44h1v2h-1zm1-31h1v33h-1zm1-431h1v2h-1zm0 429h1v35h-1zm1-443h1v3h-1zm0 17h1v1h-1zm0 411h1v50h-1zm1 48h1v2h-1zm1-461h1v3h-1zm0 415h1v48h-1zm1-415h1v11h-1zm0 456h1v7h-1zm1-26h1v33h-1zm1 1h1v32h-1zm1-11h1v43h-1zm1-1h1v44h-1zm1 40h1v4h-1zm1-472h1v2h-1zm0 424h1v52h-1zm1-3h1v55h-1zm1 11h1v44h-1zm1-433h1v1h-1zm0 431h1v46h-1zm1-429h1v1h-1zm0 422h1v53h-1zm1-19h1v72h-1zm1-41h1v113h-1zm1-348h1v1h-1zm0 393h1v68h-1zm1-409h1v2h-1zm0 419h1v58h-1zm1 16h1v42h-1zm1-9h1v51h-1zm1 14h1v37h-1zm1-425h1v7h-1zm0 416h1v46h-1zm1-432h1v1h-1zm0 449h1v29h-1zm1-429h1v2h-1zm0 431h1v27h-1zm1 25h1v2h-1zm1-460h1v8h-1zm0 438h1v24h-1zm1 1h1v23h-1zm1-440h1v8h-1zm0 437h1v26h-1zm1-2h1v28h-1zm1-5h1v33h-1zm1 6h1v27h-1zm1-11h1v38h-1zm1-438h1v1h-1zm0 15h1v1h-1zm0 429h1v32h-1zm1 30h1v2h-1zm1-21h1v23h-1zm1-453h1v1h-1zm0 450h1v26h-1zm1-5h1v31h-1zm1-6h1v37h-1zm1 34h1v3h-1zm1-28h1v31h-1zm1-447h1v1h-1zm0 454h1v24h-1zm1 4h1v20h-1zm1-5h1v25h-1zm1 5h1v20h-1zm1-444h1v6h-1zm0 426h1v38h-1zm1-430h1v1h-1zm0 445h1v23h-1zm1 21h1v2h-1zm1-26h1v28h-1zm1-438h1v7h-1zm0 425h1v41h-1zm1 11h1v30h-1zm1-10h1v40h-1zm1-424h1v3h-1zm0 423h1v41h-1zm1-3h1v44h-1zm1-432h1v1h-1zm0 8h1v3h-1zm0 432h1v36h-1zm1 1h1v35h-1zm1-433h1v3h-1zm0 435h1v33h-1zm1-443h1v1h-1zm0 10h1v4h-1zm0 430h1v36h-1zm1-2h1v38h-1zm1-428h1v3h-1zm0 429h1v37h-1zm1 1h2v36h-2zm2-9h1v45h-1zm1-421h1v4h-1zm0 433h1v33h-1zm1-15h1v48h-1zm1-428h1v1h-1zm0 11h1v5h-1zm0 463h1v2h-1zm1-475h1v2h-1zm0 10h1v4h-1zm0 420h1v47h-1zm1-2h1v49h-1zm1-428h1v1h-1zm0 431h1v46h-1zm1-60h1v106h-1zm1 45h1v61h-1zm1 18h1v43h-1zm1 9h1v34h-1zm1-431h1v3h-1zm0 420h1v45h-1zm1-423h1v2h-1zm0 426h1v42h-1zm1-423h1v2h-1zm0 434h1v31h-1zm1 29h1v2h-1zm1-31h1v33h-1zm1-443h1v1h-1zm0 429h1v47h-1zm1-1h1v48h-1zm1 1h1v47h-1zm1-419h1v3h-1zm0 423h1v43h-1zm1 40h1v3h-1zm1-35h1v38h-1zm1 3h1v35h-1zm1-432h1v1h-1zm0 465h1v2h-1zm1-466h1v5h-1zm0 437h1v31h-1zm1-445h1v1h-1zm0 443h1v33h-1zm1-432h1v3h-1zm0 420h1v45h-1zm1 16h1v29h-1zm1-439h1v2h-1zm0 441h2v27h-2zm2-439h1v1h-1zm0 464h1v2h-1zm1-466h1v5h-1zm0 442h1v26h-1zm1-13h1v39h-1zm1 30h1v9h-1zm1 7h1v2h-1zm1-465h1v4h-1zm0 425h1v42h-1zm1 1h1v41h-1zm1 39h2v2h-2zm1-465h1v1h-1zm1 1h1v1h-1zm0 436h1v30h-1zm1 28h1v2h-1zm1-26h1v28h-1zm1 26h2v2h-2zm2-25h1v27h-1zm1-439h1v2h-1zm0 437h1v29h-1zm1-2h1v31h-1zm1 5h1v26h-1zm1 24h3v2h-3zm3-32h1v34h-1zm1-433h1v3h-1zm0 442h1v25h-1zm1-442h1v2h-1zm0 465h1v2h-1zm1-22h1v24h-1zm1 15h1v9h-1zm1-30h1v39h-1zm1-436h1v1h-1zm0 473h1v2h-1zm1-5h1v7h-1zm1 5h1v2h-1zm1-24h1v26h-1zm1-2h1v28h-1zm1 26h1v2h-1zm1-98h1v100h-1zm1 45h1v55h-1zm1-414h1v3h-1zm0 432h1v37h-1zm1 35h1v2h-1zm1-467h1v2h-1zm0 433h1v36h-1zm1 34h2v2h-2zm2-473h1v1h-1zm0 454h1v21h-1zm1-446h1v1h-1zm0 445h1v22h-1zm1 19h1v3h-1zm1-17h1v20h-1zm1-448h1v3h-1zm0 445h1v23h-1zm1-443h1v1h-1zm0 444h1v22h-1zm1-446h1v2h-1zm0 443h1v25h-1zm1-10h1v35h-1zm1 4h1v31h-1zm1-5h1v36h-1zm1 7h1v29h-1zm1 27h2v2h-2zm2-29h1v31h-1zm1-436h1v1h-1zm0 465h1v2h-1zm1-31h1v33h-1zm1-442h1v1h-1zm0 448h1v27h-1zm1-440h1v2h-1zm0 439h1v28h-1zm1-3h1v31h-1zm1 7h1v24h-1zm1 22h4v2h-4zm4-472h1v1h-1zm0 6h1v1h-1zm0 441h1v27h-1zm1 5h1v22h-1zm1 20h6v2h-6zm5-474h1v2h-1zm1 450h1v26h-1zm1 24h2v2h-2zm2-17h1v19h-1zm1-449h1v1h-1zm0 448h1v20h-1zm1-2h1v22h-1zm1 20h1v2h-1zm1-22h1v24h-1zm1 22h1v2h-1zm1-14h1v16h-1zm1-453h1v2h-1zm0 449h1v20h-1zm1-448h1v2h-1zm0 453h1v15h-1zm1-452h1v1h-1zm0 444h1v23h-1zm1-445h1v1h-1zm0 453h1v15h-1zm1 13h1v2h-1zm1-18h1v20h-1zm1 18h1v2h-1zm1-78h1v80h-1zm1 45h1v35h-1zm1 33h1v2h-1zm1-473h1v1h-1zm0 457h1v18h-1zm1 16h1v2h-1zm1-13h1v15h-1zm1 13h2v2h-2zm1-466h1v1h-1zm1 456h1v12h-1zm1-4h1v16h-1zm1 14h1v2h-1zm1-14h1v16h-1zm1 14h4v2h-4zm4-467h1v2h-1zm0 450h1v19h-1zm1-1h1v20h-1zm1 18h2v2h-2zm2-18h1v20h-1zm1 18h1v2h-1zm1-16h1v18h-1zm1 16h1v2h-1zm1-12h1v14h-1zm1-453h1v1h-1zm0 451h2v16h-2zm2 3h1v13h-1zm1 11h1v2h-1zm1-13h1v15h-1zm1-6h1v21h-1zm1 3h1v18h-1zm1 16h4v2h-4zm2-467h1v2h-1zm1 1h1v2h-1zm1 450h1v18h-1zm1 16h1v2h-1zm1-15h1v17h-1zm1 6h1v11h-1zm1-4h1v15h-1zm1 13h1v2h-1zm1-466h1v2h-1zm0 449h1v19h-1zm1 17h2v2h-2zm1-474h1v1h-1zm1 462h1v14h-1zm1-1h1v15h-1zm1 13h6v2h-6zm2-466h1v2h-1zm4 453h2v15h-2zm2-453h1v2h-1zm0 457h1v11h-1zm1-55h1v66h-1zm1 45h1v21h-1zm1-446h1v1h-1zm0 465h2v2h-2zm2-6h1v8h-1zm1-460h1v1h-1zm0 466h3v2h-3zm1-465h1v1h-1zm2 460h1v7h-1zm1 2h1v5h-1zm1-463h1v1h-1zm0 466h4v2h-4zm4-7h1v9h-1zm1 4h1v5h-1zm1 2h1v3h-1zm1-4h3v7h-3zm3-461h1v1h-1zm0 454h1v14h-1zm1-454h1v2h-1zm0 461h1v7h-1zm1-6h1v13h-1zm1-455h1v2h-1zm0 466h2v2h-2zm2-7h1v9h-1zm1 7h1v2h-1zm1-12h1v14h-1zm1-3h1v17h-1zm1-451h1v1h-1zm0 455h1v13h-1zm1-4h1v17h-1zm1 6h2v11h-2zm2-1h2v12h-2zm2 4h1v8h-1zm1-459h1v1h-1zm0 457h1v10h-1zm1 3h1v7h-1zm1-461h1v1h-1zm0 460h1v8h-1zm1 6h2v2h-2zm2-7h1v9h-1zm1-459h1v1h-1zm0 464h1v4h-1zm1 1h1v3h-1zm1 1h1v2h-1zm1-1h1v3h-1zm1-464h1v1h-1zm0 465h5v2h-5zm3-466h1v1h-1zm2 465h1v3h-1zm1 1h1v2h-1zm1-1h1v3h-1zm1-473h1v2h-1zm0 474h2v2h-2zm2-46h1v48h-1zm1 45h1v3h-1zm1 1h4v2h-4zm1-465h1v1h-1zm5-1h1v1h-1zm3-1h1v1h-1zm10 464h1v5h-1zm3-463h1v1h-1zm0 463h1v5h-1zm3 0h1v5h-1zm2-463h1v1h-1zm0 463h1v5h-1zm3-463h1v1h-1zm3-7h1v1h-1zm0 7h1v1h-1zm8-7h1v1h-1zm12 1h1v1h-1zm2 450h1v24h-1zm3-444h1v2h-1zm1-1h1v1h-1zm14-7h1v1h-1zm0 7h1v1h-1zm5 0h1v2h-1zm1 0h1v1h-1zm2 1h1v2h-1zm6 0h1v1h-1zm4 1h1v1h-1zm1-1h1v2h-1zm2 0h1v1h-1zm9-9h1v1h-1zm6 8h1v1h-1zm2-8h1v1h-1zm0 9h1v1h-1zm1-6h1v1h-1zm3 5h1v1h-1zm11-7h1v2h-1zm4 8h1v2h-1zm7 0h1v1h-1zm12-1h1v1h-1zm9 1h1v1h-1zm4 0h1v1h-1zm3 0h1v2h-1zm3-1h1v1h-1zm6 1h1v1h-1zm8 0h2v1h-2zm6 0h1v1h-1zm1-1h1v1h-1zm6 1h1v1h-1zm1-1h1v1h-1zm2 0h1v2h-1zm2 1h3v1h-3zm3-7h1v1h-1zm1 7h1v1h-1zm5-9h1v3h-1zm10 9h1v1h-1zm5 0h1v1h-1zm9-1h1v1h-1zm6 0h1v1h-1zm1 1h2v1h-2zm1-9h1v3h-1zm3 9h1v1h-1zm2-9h1v3h-1zm2 8h1v1h-1zm1-5h1v1h-1zm1-1h2v1h-2zm2 7h1v1h-1zm4 0h1v1h-1zm2 0h1v1h-1zm2 0h1v1h-1zm2-9h1v3h-1zm6 8h1v1h-1zm2-6h2v1h-2z"/>
<path fill="#c0c000" d="M0 0m96 232h1v39h-1zm1-5h1v20h-1zm1-34h1v81h-1zm1-5h1v20h-1zm2 6h1v28h-1zm2 5h1v9h-1zm1 1h1v38h-1zm2-5h1v10h-1zm1 6h1v21h-1zm1 4h1v32h-1zm2-8h1v41h-1zm1 6h1v12h-1zm3 18h1v12h-1zm1-48h1v1h-1zm0 46h1v35h-1zm1-19h1v65h-1zm1 13h1v13h-1zm2-41h1v3h-1zm1 21h1v77h-1zm1-22h1v2h-1zm1 24h1v41h-1zm4-24h1v1h-1zm2 19h1v5h-1zm1 6h1v50h-1zm3 1h1v56h-1zm2-27h1v3h-1zm1 18h1v11h-1zm3 20h1v52h-1zm2-22h1v55h-1zm1 8h1v43h-1zm1-4h1v43h-1zm2-1h1v9h-1zm1 18h1v8h-1zm1-6h1v24h-1zm1 4h1v18h-1zm1 5h1v37h-1zm2-16h1v56h-1zm3-5h1v51h-1zm1-18h1v2h-1zm1 18h1v4h-1zm1 26h1v19h-1zm1-24h1v1h-1zm1 21h1v13h-1zm1-9h1v20h-1zm1-5h1v26h-1zm1-32h1v6h-1zm3 40h1v9h-1zm1 14h1v13h-1zm1-53h1v1h-1zm0 53h1v34h-1zm2-4h1v15h-1zm1-17h1v29h-1zm3 19h1v7h-1zm1-32h1v3h-1zm1 4h1v6h-1zm2 11h1v15h-1zm4-10h1v19h-1zm1 2h1v14h-1zm6-20h1v1h-1zm2-4h1v1h-1zm1-10h1v13h-1zm1 36h1v29h-1zm2 2h1v26h-1zm2-32h1v2h-1zm0 29h1v27h-1zm1-20h1v1h-1zm2-10h1v4h-1zm1 29h1v32h-1zm1-22h1v3h-1zm1 20h1v28h-1zm2-20h1v4h-1zm2-6h1v9h-1zm0 41h1v25h-1zm1 15h1v39h-1zm0 63h3v17h-3zm1-56h1v32h-1zm1 16h1v16h-1zm2 2h1v14h-1zm1-9h1v23h-1zm1-12h1v35h-1zm1-15h1v45h-1zm1 8h1v20h-1zm1-30h1v32h-1zm1 10h1v27h-1zm2-10h1v30h-1zm1 27h1v16h-1zm1-10h1v29h-1zm1-3h1v9h-1zm1-12h1v22h-1zm1-26h1v1h-1zm1 0h1v7h-1zm1 10h1v1h-1zm0 12h1v1h-1zm2 1h1v14h-1zm2 26h1v4h-1zm1-48h1v3h-1zm0 34h1v40h-1zm1-12h1v12h-1zm1-16h1v2h-1zm0 35h1v1h-1zm1-14h1v8h-1zm1-20h1v1h-1zm3-4h1v3h-1zm0 29h1v29h-1zm1-10h1v9h-1zm2 6h1v25h-1zm1 1h1v13h-1zm2 9h1v10h-1zm2-39h1v4h-1zm0 30h1v31h-1zm1 16h1v3h-1zm2-24h1v22h-1zm1 9h1v5h-1zm1-24h1v2h-1zm0 19h1v11h-1zm1 6h1v7h-1zm3 3h1v25h-1zm3-14h1v18h-1zm1 5h1v10h-1zm2-16h1v2h-1zm0 25h1v4h-1zm2-40h1v2h-1zm0 32h1v12h-1zm1-26h1v5h-1zm0 21h1v7h-1zm1 3h1v40h-1zm1-17h1v3h-1zm0 33h1v12h-1zm2-11h1v27h-1zm2-24h1v1h-1zm3 17h1v47h-1zm1-16h1v2h-1zm1 30h1v27h-1zm1-32h1v1h-1zm1-1h1v2h-1zm0 17h1v48h-1zm1-24h1v13h-1zm0 34h1v35h-1zm1-4h1v27h-1zm1-23h1v2h-1zm0 20h1v20h-1zm1-21h1v8h-1zm2 1h1v4h-1zm0 31h1v15h-1zm1-12h1v6h-1zm2 4h1v13h-1zm3-21h1v4h-1zm1-3h1v1h-1zm0 38h1v20h-1zm1-35h1v3h-1zm1-8h1v12h-1zm0 27h1v40h-1zm1-19h1v1h-1zm0 19h1v8h-1zm1-20h1v7h-1zm0 25h1v7h-1zm1-2h1v15h-1zm1-18h1v3h-1zm1-7h1v1h-1zm1 6h1v1h-1zm0 24h1v26h-1zm1-26h1v3h-1zm1-3h1v3h-1zm1 25h1v2h-1zm1 10h1v21h-1zm1-17h1v23h-1zm2 6h1v27h-1zm1 10h1v18h-1zm1-30h1v1h-1zm1 30h1v13h-1zm1-27h2v2h-2zm1 26h1v20h-1zm1-16h1v2h-1zm4 12h1v2h-1zm4-23h1v1h-1zm0 33h1v1h-1zm1-33h1v2h-1zm2-2h1v4h-1zm2 0h1v4h-1zm2 22h1v29h-1zm1-20h1v1h-1zm0 23h1v7h-1zm1-23h1v2h-1zm0 14h1v14h-1zm1-16h1v3h-1zm1 31h1v3h-1zm1-31h1v3h-1zm2 12h1v10h-1zm1 368h1v2h-1zm1-14h1v17h-1zm1-26h1v45h-1zm1-323h1v25h-1zm0 269h1v101h-1zm1-3h1v105h-1zm1-265h1v6h-1zm0 332h1v40h-1zm1 30h1v11h-1zm1-342h1v2h-1zm1-43h1v2h-1zm1 21h1v24h-1zm5-14h1v2h-1zm1 2h1v1h-1zm2-3h1v1h-1zm0 17h1v3h-1zm3-16h1v1h-1zm0 24h1v8h-1zm1-24h1v2h-1zm2 12h1v3h-1zm2 21h1v6h-1zm2-5h1v5h-1zm2-16h1v3h-1zm1-2h1v5h-1zm1-15h1v4h-1zm1 18h1v13h-1zm2-11h1v1h-1zm0 28h1v1h-1zm1-33h1v4h-1zm0 14h1v21h-1zm1-11h1v3h-1zm1 2h1v1h-1zm0 7h1v3h-1zm1-8h1v1h-1zm2-4h1v2h-1zm1-3h1v4h-1zm1 8h1v1h-1zm0 8h1v16h-1zm2 2h1v5h-1zm3-12h1v2h-1zm1 10h1v1h-1zm1 351h1v14h-1zm2-343h1v8h-1zm1 10h1v1h-1zm2 331h1v19h-1zm1-348h1v5h-1zm1 2h1v17h-1zm1-11h1v1h-1zm2 360h1v10h-1zm4-352h1v6h-1zm1-11h1v3h-1zm1 10h1v18h-1zm4-13h1v4h-1zm0 21h1v8h-1zm4-5h1v1h-1zm1-10h1v1h-1zm1 8h1v12h-1zm3-8h1v1h-1zm0 13h1v7h-1zm2-16h1v1h-1zm0 13h1v8h-1zm4 1h1v10h-1zm4-13h1v2h-1zm2 12h1v4h-1zm2 4h1v1h-1zm2-5h1v4h-1zm5 1h1v3h-1zm1 2h1v2h-1zm1-14h1v1h-1zm1 21h1v2h-1zm1-12h1v6h-1zm3-7h1v1h-1zm0 13h1v1h-1zm5-1h1v5h-1zm3 3h1v5h-1zm1-17h1v2h-1zm1 10h1v4h-1zm1 3h1v2h-1zm1-14h1v4h-1zm4 10h1v2h-1zm1 7h1v1h-1zm8-7h1v4h-1zm1 1h1v1h-1zm1-1h1v8h-1zm2 6h1v3h-1zm1-13h1v1h-1zm0 8h1v1h-1zm1 4h1v1h-1zm2-12h1v1h-1zm2-1h1v1h-1zm1 10h1v1h-1zm2 2h1v4h-1zm1-4h1v7h-1zm1-8h1v2h-1zm0 8h1v3h-1zm3 3h1v3h-1zm2-10h1v1h-1zm0 11h1v3h-1zm1-4h1v4h-1zm1 0h1v2h-1zm1-7h1v1h-1zm2-2h1v1h-1zm0 10h1v6h-1zm1 1h1v2h-1zm3-9h1v1h-1zm0 8h1v1h-1zm1-9h1v2h-1zm0 10h1v1h-1zm1-9h1v1h-1zm6 9h1v2h-1zm1 1h1v1h-1zm2-3h1v1h-1zm3 1h1v1h-1zm1 3h1v2h-1zm5-3h1v1h-1zm1 1h1v4h-1zm1-1h1v2h-1zm6-1h1v1h-1zm1 3h1v1h-1zm3-2h1v3h-1zm5-1h1v4h-1zm2 0h1v2h-1zm2 1h1v1h-1zm2-2h1v4h-1zm1 0h1v5h-1zm1 0h1v1h-1zm3 0h2v1h-2zm2 1h1v2h-1zm2-7h1v1h-1zm0 7h1v2h-1zm1 0h1v1h-1zm3-7h1v1h-1zm1 7h1v2h-1zm1 1h1v2h-1zm3-1h2v1h-2zm3-7h1v1h-1zm2 7h1v1h-1zm2-7h1v1h-1zm0 6h1v2h-1zm3 0h1v1h-1zm3 1h1v2h-1zm5-7h1v1h-1zm0 7h1v2h-1zm11-1h1v1h-1zm2 0h1v1h-1zm3 1h1v1h-1zm5 0h1v1h-1zm1-7h1v1h-1zm1 6h1v3h-1zm1 1h1v1h-1zm2 1h1v1h-1zm2-2h1v3h-1zm5-5h1v1h-1zm1 6h1v1h-1zm1-1h1v1h-1zm1 0h1v2h-1zm1 2h1v1h-1zm2-8h1v1h-1zm0 7h2v1h-2zm4 1h1v1h-1zm10-8h1v1h-1zm0 7h1v2h-1zm2 1h1v1h-1zm0 328h1v1h-1zm1-4h1v8h-1zm1-326h1v1h-1zm0 320h1v16h-1zm1-319h1v2h-1zm0 319h1v20h-1zm1-320h1v2h-1zm0 320h1v22h-1zm1-319h1v2h-1zm0 315h1v29h-1zm1-1h1v35h-1zm1-1h1v39h-1zm1 0h1v42h-1zm1-314h1v1h-1zm0 312h1v46h-1zm1-2h1v50h-1zm1-1h1v55h-1zm1 0h1v56h-1zm1 0h1v58h-1zm1-2h1v64h-1zm1 0h1v67h-1zm1-314h1v2h-1zm0 313h1v71h-1zm1-305h3v1h-3zm0 303h1v77h-1zm1 0h1v79h-1zm1-3h1v85h-1zm1-301h1v2h-1zm0 301h1v90h-1zm1-1h1v93h-1zm1-1h1v94h-1zm1-299h1v2h-1zm0 296h1v94h-1zm1-2h1v96h-1zm1-294h1v1h-1zm0 292h1v96h-1zm1 1h1v93h-1zm1-3h1v96h-1zm1 0h1v94h-1zm1-289h1v1h-1zm0 295h1v86h-1zm1-5h1v91h-1zm1-3h1v93h-1zm1 2h1v88h-1zm1-2h1v90h-1zm1-288h1v3h-1zm0 287h1v89h-1zm1-286h1v2h-1zm0 289h1v86h-1zm1 0h1v83h-1zm1-1h1v84h-1zm1-289h2v1h-2zm0 290h1v81h-1zm1-4h1v84h-1zm1-284h1v1h-1zm0 293h1v74h-1zm1-6h2v78h-2zm2-1h1v78h-1zm1 1h1v75h-1zm1-296h1v2h-1zm0 307h1v63h-1zm1-307h1v1h-1zm0 298h1v71h-1zm1-290h1v1h-1zm0 291h1v68h-1zm1-292h1v2h-1zm0 291h1v69h-1zm1 3h1v65h-1zm1 6h1v57h-1zm1-4h1v60h-1zm1-1h1v59h-1zm1 1h1v57h-1zm1-296h1v1h-1zm0 299h1v53h-1zm1 3h1v49h-1zm1 3h1v44h-1zm1 0h1v43h-1zm1-305h1v1h-1zm0 304h1v44h-1zm1 2h1v40h-1zm1-133h10v16h-10zm0 130h1v43h-1zm1-302h1v2h-1zm0 305h1v37h-1zm1-1h1v38h-1zm1-1h1v38h-1zm1-302h1v1h-1zm0 305h1v35h-1zm1-2h2v35h-2zm2-32h1v66h-1zm1-273h1v1h-1zm0 280h1v60h-1zm1-286h1v1h-1zm0 307h1v38h-1zm1-300h1v1h-1zm0 301h1v37h-1zm1-1h1v38h-1zm1-301h1v2h-1zm0 302h1v36h-1zm1 1h1v35h-1zm1-303h1v2h-1zm0 297h1v40h-1zm1 0h1v38h-1zm1-297h1v1h-1zm0 295h1v39h-1zm1 0h2v37h-2zm1-295h1v3h-1zm1 1h1v1h-1zm0 291h1v38h-1zm1 0h1v36h-1zm1-1h1v35h-1zm1 1h1v34h-1zm1-1h1v36h-1zm1-1h1v40h-1zm1-290h1v1h-1zm0 288h1v45h-1zm1 2h1v44h-1zm1-117h10v16h-10zm0 117h1v46h-1zm1-8h1v58h-1zm1-282h1v2h-1zm0 288h1v54h-1zm1 2h1v51h-1zm1-290h1v1h-1zm0 289h1v51h-1zm1-288h1v1h-1zm0 290h1v46h-1zm1-291h2v2h-2zm0 290h1v47h-1zm1 0h1v44h-1zm1-289h1v1h-1zm0 286h1v45h-1zm1 3h1v38h-1zm1-2h1v34h-1zm1-288h1v1h-1zm0 286h1v32h-1zm1 2h1v31h-1zm1-286h1v1h-1zm0 284h1v38h-1zm1-286h1v1h-1zm0 284h1v46h-1zm1-282h1v1h-1zm0 286h1v46h-1zm1-288h1v2h-1zm0 287h1v53h-1zm1 1h1v50h-1zm1 1h1v45h-1zm1-288h1v1h-1zm0 291h1v40h-1zm1 1h1v40h-1zm1-1h1v42h-1zm1 0h1v43h-1zm1 4h1v41h-1zm1 0h1v42h-1zm1 1h1v41h-1zm1-302h1v1h-1zm0 6h1v2h-1zm0 302h1v36h-1zm1-6h1v42h-1zm1 3h1v40h-1zm1-300h1v1h-1zm0 298h1v44h-1zm1-303h1v1h-1zm0 304h1v43h-1zm1 1h1v44h-1zm1-1h1v45h-1zm1-7h1v52h-1zm1-291h2v1h-2zm0 282h1v63h-1zm1 3h1v61h-1zm1 22h1v40h-1zm1 2h1v38h-1zm1-310h1v1h-1zm0 310h1v40h-1zm1-318h1v3h-1zm0 8h1v2h-1zm0 320h1v32h-1zm1-11h1v44h-1zm1 3h1v41h-1zm1 0h1v42h-1zm1-2h1v45h-1zm1 1h2v47h-2zm2 0h1v48h-1zm1-318h1v2h-1zm0 7h1v3h-1zm0 311h1v49h-1zm1-2h2v52h-2zm2 2h1v50h-1zm1-310h1v1h-1zm0 309h1v52h-1zm1-310h1v1h-1zm0 306h1v54h-1zm1 2h1v52h-1zm1-306h1v1h-1zm0 303h1v53h-1zm1 11h1v42h-1zm1-11h1v52h-1zm1 1h1v50h-1zm1-306h1v1h-1zm0 304h1v51h-1zm1 0h1v50h-1zm1 11h1v38h-1zm1-314h1v1h-1zm0 307h1v44h-1zm1-308h1v2h-1zm0 310h1v40h-1zm1-6h1v45h-1zm1-3h1v46h-1zm1-1h1v45h-1zm1 2h1v42h-1zm1-1h1v41h-1zm1 2h1v36h-1zm1-2h1v37h-1zm1 1h1v33h-1zm1-302h1v2h-1zm0 304h1v30h-1zm1-309h1v1h-1zm0 313h1v23h-1zm1-2h1v22h-1zm1 0h1v21h-1zm1-312h1v1h-1zm0 314h1v16h-1zm1 0h1v13h-1zm1 3h1v9h-1zm1-1h1v9h-1zm1 2h1v4h-1zm5-311h1v1h-1zm4-1h1v3h-1zm2-7h1v1h-1zm1 7h1v1h-1zm1 1h1v1h-1zm2-7h1v1h-1zm3 7h1v1h-1zm1-8h1v1h-1zm3 7h1v1h-1zm2 1h1v1h-1zm1-7h1v1h-1zm2-1h1v2h-1zm0 8h1v1h-1zm4-1h1v3h-1zm1-5h1v1h-1zm0 6h1v1h-1zm2-1h1v3h-1zm2-6h1v1h-1zm2 6h1v1h-1zm2 1h1v1h-1zm2 0h1v1h-1zm2 1h1v1h-1zm7-7h1v1h-1zm0 5h1v1h-1zm8 1h1v1h-1zm1-1h1v2h-1zm1 1h1v1h-1zm2-6h1v1h-1zm1 6h1v1h-1zm2-8h1v2h-1zm11 2h1v1h-1zm2 5h1v2h-1zm1 0h1v1h-1zm2-6h1v1h-1zm4 8h1v1h-1zm1-2h1v2h-1zm5 0h1v1h-1zm1 1h1v1h-1zm1-6h1v1h-1zm1 5h1v2h-1zm6 0h1v2h-1zm1 1h1v1h-1zm4-7h1v1h-1zm2-1h1v2h-1zm0 7h1v1h-1zm4-6h1v2h-1zm1 7h1v1h-1zm2 0h1v1h-1zm2-1h1v1h-1zm2-5h1v1h-1zm4 5h1v2h-1zm3 0h1v2h-1zm3 1h1v1h-1zm4 0h1v1h-1zm4 0h1v2h-1zm1 0h1v1h-1zm1-1h1v1h-1zm7 0h1v2h-1zm4-5h1v1h-1zm0 6h1v2h-1zm1-1h1v2h-1zm1 0h1v1h-1zm2 0h1v1h-1zm3 0h1v1h-1zm3 0h1v1h-1zm1-8h1v1h-1zm4 9h1v1h-1zm2-7h1v1h-1zm7 6h1v1h-1zm4 0h1v1h-1zm3 1h1v1h-1z"/>
<path fill="#0000ff" d="M0 0m98 187h1v6h-1zm1-2h1v3h-1zm0 384h1v82h-1zm1-384h1v72h-1zm0 301h1v165h-1zm1 8h1v157h-1zm1-325h1v4h-1zm0 20h1v5h-1zm0 351h1v111h-1zm1-354h1v13h-1zm0 370h1v64h-1zm1-369h1v13h-1zm0 359h1v105h-1zm1-351h1v49h-1zm0 348h1v108h-1zm1-92h1v166h-1zm1-266h1v16h-1zm0 380h1v86h-1zm1-8h1v66h-1zm1-340h1v55h-1zm1 234h1v200h-1zm1-286h1v10h-1zm0 400h1v53h-1zm1-110h1v196h-1zm1-265h1v9h-1zm2 8h1v21h-1zm1 421h1v32h-1zm1-420h1v14h-1zm1-10h1v44h-1zm2-29h1v12h-1zm1 30h1v42h-1zm1-26h1v11h-1zm1 21h1v16h-1zm1-16h1v1h-1zm1 274h1v208h-1zm1-240h1v1h-1zm1 19h1v42h-1zm1-59h1v9h-1zm0 22h1v5h-1zm1 8h1v3h-1zm2-1h1v15h-1zm0 255h1v204h-1zm2-257h1v20h-1zm1-17h1v1h-1zm0 12h1v53h-1zm0 392h1v74h-1zm1-410h1v7h-1zm0 418h1v66h-1zm1-394h1v48h-1zm0 250h1v210h-1zm1-237h1v14h-1zm0 359h1v88h-1zm1-370h1v15h-1zm1 13h1v42h-1zm0 356h1v89h-1zm1 16h1v73h-1zm1-409h1v5h-1zm0 400h1v82h-1zm2-372h1v50h-1zm2-2h1v12h-1zm1-10h1v16h-1zm1 0h1v20h-1zm0 361h1v69h-1zm1-344h1v8h-1zm2-35h1v9h-1zm0 25h1v2h-1zm1-29h1v3h-1zm1 22h1v18h-1zm2-12h1v1h-1zm0 18h1v52h-1zm1-6h1v4h-1zm0 280h1v186h-1zm1-280h1v30h-1zm1 4h1v2h-1zm0 341h1v89h-1zm1-360h1v1h-1zm0 21h1v21h-1zm1-16h1v1h-1zm1 264h1v212h-1zm1-267h1v4h-1zm0 51h1v4h-1zm1-64h1v5h-1zm3 49h1v12h-1zm0 235h1v208h-1zm1-275h1v7h-1zm0 282h1v165h-1zm1-280h1v5h-1zm0 33h1v32h-1zm1-33h1v6h-1zm0 15h1v31h-1zm1-14h1v4h-1zm0 25h1v3h-1zm1-7h1v45h-1zm1 272h1v190h-1zm2-276h1v1h-1zm1 0h1v5h-1zm1-15h1v2h-1zm1-5h1v10h-1zm0 28h1v8h-1zm1-26h1v8h-1zm0 21h1v57h-1zm1-23h1v11h-1zm0 20h1v21h-1zm2-21h1v11h-1zm1 3h1v2h-1zm1 20h1v7h-1zm0 370h1v94h-1zm2-95h1v79h-1zm1-270h1v24h-1zm1-1h1v20h-1zm1-17h1v2h-1zm2-4h1v5h-1zm0 19h1v14h-1zm0 368h1v94h-1zm1-385h1v4h-1zm0 26h1v3h-1zm1-24h1v2h-1zm1 24h1v11h-1zm1-36h1v4h-1zm0 22h1v13h-1zm1 1h1v13h-1zm0 272h1v143h-1zm1-290h1v3h-1zm0 20h1v7h-1zm0 287h1v137h-1zm2-308h1v9h-1zm0 35h1v16h-1zm3-27h1v1h-1zm0 10h1v7h-1zm0 321h1v146h-1zm3-330h1v1h-1zm1 24h1v7h-1zm1-25h1v1h-1zm0 24h1v8h-1zm1-34h1v12h-1zm0 46h1v11h-1zm0 348h1v14h-1zm1-385h1v3h-1zm0 46h1v9h-1zm1 1h1v24h-1zm0 304h1v47h-1zm1-356h2v6h-2zm0 43h1v49h-1zm0 73h1v17h-1zm1-81h1v43h-1zm1-28h1v2h-1zm0 20h1v42h-1zm1-23h1v4h-1zm0 22h1v31h-1zm1-3h1v19h-1zm1-4h1v31h-1zm1-13h1v2h-1zm0 10h1v4h-1zm1-12h1v3h-1zm1-5h1v9h-1zm0 30h1v6h-1zm0 257h1v107h-1zm1-267h1v1h-1zm0 284h1v89h-1zm1-300h1v6h-1zm1-1h1v5h-1zm1 31h1v1h-1zm1-30h1v5h-1zm1-6h1v12h-1zm0 20h1v16h-1zm1-14h1v1h-1zm0 31h1v10h-1zm1-17h1v1h-1zm1 4h1v42h-1zm2-1h1v12h-1zm1-22h1v10h-1zm0 32h1v15h-1zm1-30h1v8h-1zm1-2h1v11h-1zm0 19h1v2h-1zm0 291h1v64h-1zm2-21h1v81h-1zm1-282h1v3h-1zm0 26h1v40h-1zm0 261h1v74h-1zm1-288h1v5h-1zm0 33h1v2h-1zm0 312h1v15h-1zm1-325h1v46h-1zm1 294h1v42h-1zm1-324h1v14h-1zm0 22h1v3h-1zm0 263h1v79h-1zm1-289h1v19h-1zm1 9h1v10h-1zm2 3h1v6h-1zm0 22h1v11h-1zm1-29h1v6h-1zm0 26h1v14h-1zm1-15h1v3h-1zm0 11h1v20h-1zm1 4h1v5h-1zm0 261h1v62h-1zm1-282h1v8h-1zm0 38h1v4h-1zm1-32h1v3h-1zm0 14h1v36h-1zm1-24h1v12h-1zm1 23h1v8h-1zm1-14h1v1h-1zm0 16h1v1h-1zm1-18h1v5h-1zm1 0h1v3h-1zm1-8h1v13h-1zm2 25h1v30h-1zm1-12h1v1h-1zm0 15h1v13h-1zm2-25h1v8h-1zm0 18h1v6h-1zm1-10h1v2h-1zm0 11h1v28h-1zm1-9h1v1h-1zm1-4h1v3h-1zm1-11h1v16h-1zm1 9h1v7h-1zm0 14h1v2h-1zm1-16h1v8h-1zm1 7h1v2h-1zm0 14h1v16h-1zm1-5h1v23h-1zm1-21h1v13h-1zm1 10h1v3h-1zm0 290h1v32h-1zm1-292h1v6h-1zm0 14h1v45h-1zm2-12h1v4h-1zm0 12h1v46h-1zm1-21h1v13h-1zm0 22h1v1h-1zm1-13h1v4h-1zm1-2h1v5h-1zm0 288h1v36h-1zm1-289h1v6h-1zm0 16h1v14h-1zm1-16h1v5h-1zm0 14h1v1h-1zm1-10h1v1h-1zm0 10h1v11h-1zm1-9h1v2h-1zm1 300h1v17h-1zm1-300h1v2h-1zm1 24h1v35h-1zm1-27h1v5h-1zm0 13h1v14h-1zm0 269h1v41h-1zm1-280h1v1h-1zm0 12h1v1h-1zm0 276h1v33h-1zm1-278h1v1h-1zm1 5h1v2h-1zm1-17h1v2h-1zm0 26h1v11h-1zm1-14h1v9h-1zm2-16h1v4h-1zm1 5h1v4h-1zm1 1h1v3h-1zm0 299h1v24h-1zm1-302h1v6h-1zm0 13h1v5h-1zm0 271h1v42h-1zm1-279h1v1h-1zm0 8h1v10h-1zm0 274h1v40h-1zm1-274h1v8h-1zm1 7h1v1h-1zm1-23h1v8h-1zm1 19h1v10h-1zm1-13h1v3h-1zm1-3h1v6h-1zm0 29h1v8h-1zm1-16h1v9h-1zm1-9h1v2h-1zm1-9h1v8h-1zm0 18h1v2h-1zm1-12h1v4h-1zm0 12h1v19h-1zm1 267h1v52h-1zm1-279h1v5h-1zm0 16h1v14h-1zm1-15h1v5h-1zm1 1h1v3h-1zm0 11h1v17h-1zm1 6h1v20h-1zm1-7h1v17h-1zm1-12h1v5h-1zm0 12h1v1h-1zm0 286h1v42h-1zm1-283h1v39h-1zm1-12h1v2h-1zm2 13h1v9h-1zm1-22h1v11h-1zm0 25h1v23h-1zm1-17h1v1h-1zm1 31h1v13h-1zm1-30h1v2h-1zm0 23h1v9h-1zm1-11h1v8h-1zm0 281h1v58h-1zm1-283h1v37h-1zm2-9h2v1h-2zm1 14h1v4h-1zm1-16h1v3h-1zm1-3h1v3h-1zm1 4h1v2h-1zm0 10h1v12h-1zm1 0h1v3h-1zm1-10h1v1h-1zm0 17h1v10h-1zm1-16h1v2h-1zm1 11h1v1h-1zm1 7h1v13h-1zm1-20h1v4h-1zm2 10h1v15h-1zm1-16h1v3h-1zm0 16h1v20h-1zm0 289h1v39h-1zm1-299h1v3h-1zm1 1h1v2h-1zm2 0h1v3h-1zm0 22h1v18h-1zm1-25h1v5h-1zm0 15h1v23h-1zm0 359h1v19h-1zm1-377h1v8h-1zm0 392h1v5h-1zm1-375h1v2h-1zm2-19h1v10h-1zm1 17h1v3h-1zm1 305h1v65h-1zm1-313h1v1h-1zm1 11h1v9h-1zm1-17h1v7h-1zm0 17h1v14h-1zm1-13h1v3h-1zm0 9h1v7h-1zm2 1h1v16h-1zm1-9h1v1h-1zm0 10h1v13h-1zm1-9h2v1h-2zm0 13h1v22h-1zm0 273h1v80h-1zm1-279h1v17h-1zm0 282h1v74h-1zm2-290h1v1h-1zm1-4h1v4h-1zm0 28h1v8h-1zm1-29h1v7h-1zm0 13h1v1h-1zm1-9h1v2h-1zm3 1h1v2h-1zm1-2h1v4h-1zm2 24h1v13h-1zm1-10h1v17h-1zm1-12h1v2h-1zm0 8h1v2h-1zm1 8h1v16h-1zm2-15h1v1h-1zm1 9h1v12h-1zm2-13h1v3h-1zm1 11h1v1h-1zm1 0h1v23h-1zm2-13h1v6h-1zm0 15h1v10h-1zm1 8h1v10h-1zm1-17h2v1h-2zm0 317h1v45h-1zm1-20h1v64h-1zm1-288h1v12h-1zm1-14h1v2h-1zm1 18h1v3h-1zm0 281h1v68h-1zm1-284h1v16h-1zm1-3h1v12h-1zm1-7h1v1h-1zm1 7h1v2h-1zm0 337h1v20h-1zm1-346h1v2h-1zm0 9h1v4h-1zm3 3h1v11h-1zm1-11h1v2h-1zm1-4h1v6h-1zm0 21h1v3h-1zm2-9h1v1h-1zm1-7h1v2h-1zm0 10h1v7h-1zm1-13h1v3h-1zm1 20h1v5h-1zm1-8h1v14h-1zm0 304h1v39h-1zm1-314h1v1h-1zm0 10h1v13h-1zm1-11h1v2h-1zm1 2h1v1h-1zm0 10h1v1h-1zm1-2h1v14h-1zm0 271h1v72h-1zm1-272h1v9h-1zm0 287h1v55h-1zm1-287h1v3h-1zm2 0h1v1h-1zm1 4h1v1h-1zm0 296h1v44h-1zm1-297h1v2h-1zm0 304h1v38h-1zm1-313h1v1h-1zm0 302h1v50h-1zm1-305h1v3h-1zm0 10h1v7h-1zm0 311h1v35h-1zm1-321h1v1h-1zm0 11h1v1h-1zm1-8h1v1h-1zm2 6h1v10h-1zm0 333h1v17h-1zm1-342h1v2h-1zm1 13h1v9h-1zm0 296h1v52h-1zm3-307h1v2h-1zm1 0h1v1h-1zm0 11h1v2h-1zm1-3h1v2h-1zm2-1h1v7h-1zm0 321h1v37h-1zm1 9h1v27h-1zm1-340h1v4h-1zm0 10h1v2h-1zm2-9h1v2h-1zm0 9h1v11h-1zm1-8h1v3h-1zm0 8h1v10h-1zm1 339h1v15h-1zm1-33h1v49h-1zm1 18h1v31h-1zm1-332h1v2h-1zm1 2h1v1h-1zm0 7h1v11h-1zm1-10h1v3h-1zm1 15h1v6h-1zm1-13h1v1h-1zm0 7h1v13h-1zm0 272h1v79h-1zm2-272h1v1h-1zm1 0h1v8h-1zm1-7h1v1h-1zm0 7h1v13h-1zm1-8h1v2h-1zm0 15h1v1h-1zm2-7h1v2h-1zm0 307h1v41h-1zm1-306h1v7h-1zm1-10h1v2h-1zm0 281h1v73h-1zm1-279h1v1h-1zm0 294h1v59h-1zm2-296h1v4h-1zm0 9h1v4h-1zm1 2h1v2h-1zm1-3h1v1h-1zm1 1h1v6h-1zm3-7h1v2h-1zm0 11h1v3h-1zm1-5h1v1h-1zm1-6h1v1h-1zm0 7h1v4h-1zm1 0h1v7h-1zm1-7h1v1h-1zm2 0h1v1h-1zm0 6h1v1h-1zm1 1h1v2h-1zm2-8h1v2h-1zm0 7h1v2h-1zm1 0h1v1h-1zm1 4h1v5h-1zm0 313h1v26h-1zm1-324h1v1h-1zm0 8h1v6h-1zm2 0h1v5h-1zm1-7h1v1h-1zm0 7h1v3h-1zm2 0h1v8h-1zm1 1h1v9h-1zm1-1h1v2h-1zm0 184h3v4h-3zm1-191h1v1h-1zm0 309h1v42h-1zm1-301h1v3h-1zm1-2h1v1h-1zm4 0h1v4h-1zm1 0h1v5h-1zm1 1h1v4h-1zm3 323h1v26h-1zm2-331h1v1h-1zm1 0h1v2h-1zm0 8h1v2h-1zm1-1h1v2h-1zm1 0h1v1h-1zm3 1h1v6h-1zm3 0h1v2h-1zm1-9h1v3h-1zm0 8h1v1h-1zm1-7h1v2h-1zm0 353h1v7h-1zm1-352h1v1h-1zm2-1h1v2h-1zm0 8h1v1h-1zm1-1h1v1h-1zm3 340h1v26h-1zm1-347h1v2h-1zm0 7h1v5h-1zm1 0h1v2h-1zm0 362h1v7h-1zm1-362h1v4h-1zm1 0h1v1h-1zm1 2h1v2h-1zm0 342h1v32h-1zm1-343h1v1h-1zm0 345h1v32h-1zm3-346h1v6h-1zm1 2h1v2h-1zm0 343h1v42h-1zm1-342h1v3h-1zm1-2h1v4h-1zm1 0h1v1h-1zm1-1h1v1h-1zm1-7h1v2h-1zm0 7h1v4h-1zm1 370h1v31h-1zm1-370h1v5h-1zm1-5h1v1h-1zm0 5h1v2h-1zm1 359h1v41h-1zm1-359h1v2h-1zm2-6h1v1h-1zm2 7h1v4h-1zm3-7h1v1h-1zm0 7h1v1h-1zm3-8h1v3h-1zm0 316h1v76h-1zm1 2h1v74h-1zm2-311h1v4h-1zm1-5h1v1h-1zm2 5h1v1h-1zm2 0h1v1h-1zm2 0h1v3h-1zm0 362h1v7h-1zm2-360h1v2h-1zm1-9h1v2h-1zm1 1h1v2h-1zm0 6h1v2h-1zm2 0h4v1h-4zm4 1h1v2h-1zm1-8h1v2h-1zm2 1h1v1h-1zm0 7h1v2h-1zm1-6h1v1h-1zm2 6h1v2h-1zm2-1h1v3h-1zm1-6h2v1h-2zm2 6h1v3h-1zm1 1h1v2h-1zm1-1h1v1h-1zm1 1h1v1h-1zm1-1h2v1h-2zm3 0h1v3h-1zm1 1h1v1h-1zm1-1h1v2h-1zm1 0h1v3h-1zm1-6h1v2h-1zm0 7h1v2h-1zm2-1h1v1h-1zm2-6h1v2h-1zm4 1h1v1h-1zm2 5h1v1h-1zm3 1h1v2h-1zm1-1h2v1h-2zm2-7h1v1h-1zm2 8h1v1h-1zm1-1h2v2h-2zm3 2h1v2h-1zm3-2h2v3h-2zm2 0h1v1h-1zm2-6h1v2h-1zm1 6h2v2h-2zm4 1h1v2h-1zm2-1h1v2h-1zm1-5h1v1h-1zm1 5h1v1h-1zm2-6h1v1h-1zm0 6h1v2h-1zm1-7h1v3h-1zm0 7h1v1h-1zm1-6h1v1h-1zm2 0h1v2h-1zm0 6h1v3h-1zm2 0h2v1h-2zm2 0h1v2h-1zm1 1h1v1h-1zm3-7h1v1h-1zm2 6h1v3h-1zm1 1h1v1h-1zm4-1h2v2h-2zm2-6h1v1h-1zm4 6h2v1h-2zm4-6h1v2h-1zm1 6h1v2h-1zm2 0h1v2h-1zm1-6h1v1h-1zm4 6h1v1h-1zm1 1h1v3h-1zm1 1h1v1h-1zm1-2h1v2h-1zm1 0h1v3h-1zm2-5h1v1h-1zm1 5h1v1h-1zm5-5h1v1h-1zm2 7h1v1h-1zm1-2h1v1h-1zm2 0h1v2h-1zm4 1h1v2h-1zm1-1h1v2h-1zm1 1h1v1h-1zm1-1h1v1h-1zm5-6h1v1h-1zm1-1h1v2h-1zm0 7h2v2h-2zm1-6h1v1h-1zm1 6h1v1h-1zm5 0h2v2h-2zm1-6h1v1h-1zm6-1h1v2h-1zm4 1h1v1h-1zm0 6h1v1h-1zm3 0h1v1h-1zm1-6h1v1h-1zm0 6h2v2h-2zm5 0h1v1h-1zm2-7h1v1h-1zm9 8h1v1h-1zm2-8h1v2h-1zm0 7h1v2h-1zm3 1h1v1h-1zm3-1h1v2h-1zm2 0h1v1h-1zm2 1h1v1h-1zm1-1h1v3h-1zm4 0h1v1h-1zm2-7h1v2h-1zm1 7h1v1h-1zm2 0h1v1h-1zm4-7h1v2h-1zm4 7h1v1h-1zm10 0h1v2h-1zm1 0h1v1h-1zm1-6h1v1h-1zm1 7h4v1h-4zm4-7h1v1h-1zm0 6h1v2h-1zm2 0h1v1h-1zm2 0h1v1h-1zm3 0h1v3h-1zm3 0h1v1h-1zm2-6h1v1h-1zm0 6h1v2h-1zm1 0h1v1h-1zm2 0h1v1h-1zm1-5h1v1h-1zm3 5h1v1h-1zm2 1h1v1h-1zm4-6h1v1h-1zm3 5h1v1h-1zm1 0h1v2h-1zm4-6h1v2h-1zm0 6h1v1h-1zm2 0h1v1h-1zm2 0h1v1h-1zm1 1h1v1h-1zm5-8h2v2h-2zm0 7h1v1h-1zm3-7h1v1h-1zm1 7h1v1h-1zm2 0h1v1h-1zm1 1h1v1h-1zm1-1h2v1h-2zm3 0h1v1h-1zm4 0h1v2h-1zm1 0h1v3h-1zm1-7h1v2h-1zm2 7h1v1h-1zm4-7h1v1h-1zm0 7h1v2h-1zm1-5h1v1h-1zm4 5h1v2h-1zm3 0h1v1h-1zm1 0h1v2h-1zm4-6h1v1h-1zm4 6h1v1h-1zm1 0h1v2h-1zm1 0h1v1h-1zm3 0h1v1h-1zm1-7h1v2h-1zm0 8h1v1h-1zm2 1h1v1h-1zm1-2h1v1h-1zm1 1h1v1h-1zm2-1h1v1h-1zm1 0h2v2h-2zm3 0h1v1h-1zm4 0h1v2h-1zm3-6h1v1h-1zm1 6h1v2h-1zm3 0h1v2h-1zm1-6h1v1h-1zm1 6h1v1h-1zm4 406h1v25h-1zm2-412h2v1h-2zm2-1h1v2h-1zm1 8h1v1h-1zm1-6h1v1h-1zm5-1h1v2h-1zm1 435h1v40h-1zm5-429h1v2h-1zm0 185h4v4h-4zm0 212h1v41h-1zm1-397h1v1h-1zm2 1h1v1h-1zm2-1h1v1h-1zm0 323h1v114h-1zm1 2h1v144h-1zm2-324h1v1h-1zm2-1h2v2h-2zm1-7h2v2h-2zm2 7h1v2h-1zm1 1h1v1h-1zm2-1h1v1h-1zm2 0h1v1h-1zm1 0h1v2h-1zm1 0h1v1h-1zm1 373h1v96h-1zm2-372h2v1h-2zm4-8h1v2h-1zm0 353h1v92h-1zm1 2h1v121h-1zm1-348h1v2h-1zm3-7h1v2h-1zm1 7h1v2h-1zm1 1h1v1h-1zm3-8h1v2h-1zm0 7h1v1h-1zm2 0h1v1h-1zm1 409h1v60h-1zm2-409h1v2h-1zm5 0h1v1h-1zm1 1h1v1h-1zm5-6h1v1h-1zm1 5h1v1h-1zm2 0h2v1h-2zm3 1h1v2h-1zm1-1h1v3h-1zm0 416h1v53h-1zm2-423h1v2h-1zm0 405h1v71h-1zm1-403h1v1h-1zm0 406h1v68h-1zm1-400h1v2h-1zm5-1h1v2h-1z"/>
<path fill="#00ff00" d="M0 0m97 169h1v5h-1zm0 30h1v28h-1zm0 361h1v59h-1zm1-417h1v32h-1zm0 42h1v2h-1zm1-17h2v7h-2zm2-3h1v9h-1zm1 8h1v2h-1zm1-27h1v29h-1zm0 38h1v2h-1zm1-35h1v25h-1zm0 35h1v3h-1zm1-12h1v3h-1zm0 15h1v8h-1zm1-20h1v7h-1zm0 16h1v12h-1zm1-11h1v2h-1zm1-32h1v32h-1zm0 46h1v19h-1zm1-39h1v26h-1zm0 38h1v32h-1zm1-19h1v10h-1zm0 18h1v13h-1zm1-1h1v20h-1zm1-15h1v7h-1zm0 32h1v19h-1zm1-47h1v20h-1zm0 31h1v6h-1zm1-35h1v25h-1zm0 36h1v36h-1zm1 0h1v13h-1zm0 374h1v92h-1zm1-391h1v5h-1zm0 16h1v16h-1zm1-17h1v9h-1zm0 387h1v97h-1zm1-399h1v17h-1zm0 28h1v6h-1zm2-11h1v4h-1zm0 13h1v8h-1zm0 369h1v62h-1zm1-381h1v3h-1zm0 11h1v6h-1zm1 365h1v102h-1zm1-396h1v22h-1zm0 395h1v103h-1zm1-378h1v4h-1zm0 19h1v18h-1zm0 352h1v68h-1zm1-375h1v10h-1zm0 19h1v4h-1zm1 0h1v18h-1zm0 348h1v118h-1zm1-385h1v26h-1zm0 36h1v38h-1zm0 343h1v92h-1zm1-355h1v3h-1zm0 348h1v96h-1zm1-349h1v4h-1zm0 12h1v10h-1zm0 331h1v137h-1zm1-329h1v14h-1zm0 332h1v101h-1zm1-346h1v1h-1zm0 12h1v9h-1zm1-37h1v29h-1zm0 38h1v13h-1zm0 349h1v87h-1zm1-349h1v6h-1zm0 352h1v78h-1zm1-352h1v1h-1zm1 0h1v4h-1zm1 1h1v6h-1zm1-29h1v19h-1zm0 27h1v21h-1zm1-35h1v28h-1zm0 36h1v9h-1zm0 368h1v99h-1zm1-385h1v8h-1zm0 18h1v21h-1zm1-15h1v6h-1zm0 15h1v1h-1zm1-11h1v1h-1zm1-28h1v28h-1zm1 3h1v27h-1zm0 34h1v14h-1zm1-12h1v5h-1zm0 13h1v5h-1zm1-17h1v7h-1zm0 22h1v6h-1zm0 396h1v30h-1zm1-414h1v3h-1zm1-23h1v25h-1zm0 35h1v2h-1zm1-40h1v32h-1zm0 52h1v7h-1zm0 363h1v93h-1zm1-392h1v8h-1zm0 17h1v35h-1zm1 1h1v8h-1zm1-18h1v9h-1zm0 394h1v57h-1zm1-415h1v30h-1zm0 38h1v2h-1zm1-27h1v18h-1zm0 27h1v6h-1zm0 375h1v59h-1zm2-387h1v3h-1zm1-14h1v17h-1zm0 26h1v2h-1zm0 373h1v62h-1zm1-383h1v1h-1zm0 10h1v6h-1zm1-12h1v5h-1zm0 13h1v7h-1zm0 370h1v65h-1zm1-360h1v9h-1zm1-47h1v29h-1zm0 36h1v15h-1zm1 0h1v40h-1zm0 377h1v91h-1zm1-396h1v10h-1zm1 19h1v38h-1zm0 392h1v43h-1zm1-420h1v21h-1zm0 29h1v22h-1zm1-25h1v14h-1zm0 25h1v24h-1zm1-1h1v37h-1zm1 10h1v10h-1zm1-10h1v2h-1zm0 392h1v41h-1zm1-392h1v13h-1zm1-26h1v16h-1zm0 27h1v5h-1zm1-18h1v10h-1zm0 18h1v22h-1zm1-1h1v35h-1zm1-25h1v16h-1zm1 26h1v1h-1zm0 385h1v82h-1zm1-397h1v2h-1zm0 12h1v24h-1zm1-2h1v11h-1zm0 377h1v92h-1zm1-375h1v4h-1zm1-1h1v2h-1zm1-14h1v4h-1zm0 14h1v24h-1zm0 375h1v51h-1zm2-389h1v6h-1zm0 394h1v88h-1zm1-377h1v1h-1zm1-31h1v20h-1zm0 28h1v11h-1zm1-25h1v17h-1zm0 25h1v18h-1zm1-20h1v12h-1zm0 20h1v9h-1zm1-20h1v13h-1zm0 400h1v34h-1zm1-380h1v26h-1zm1-10h1v2h-1zm0 14h1v9h-1zm2-3h1v14h-1zm1-2h1v13h-1zm0 385h1v30h-1zm1-406h1v16h-1zm0 22h1v15h-1zm1-17h1v9h-1zm0 17h1v1h-1zm1-20h1v13h-1zm1 7h1v5h-1zm1 5h1v1h-1zm0 9h1v3h-1zm0 393h1v19h-1zm1-393h1v17h-1zm1-16h1v6h-1zm0 14h1v11h-1zm1-10h1v4h-1zm0 11h1v10h-1zm0 395h1v73h-1zm1-395h1v1h-1zm1-21h1v13h-1zm0 21h1v8h-1zm1-11h1v4h-1zm0 12h1v16h-1zm0 397h1v70h-1zm1-395h1v9h-1zm1-25h1v15h-1zm0 30h1v8h-1zm0 392h1v68h-1zm1-390h1v5h-1zm1 6h1v11h-1zm1 4h1v16h-1zm1-31h1v5h-1zm0 26h1v22h-1zm1-4h1v17h-1zm0 400h1v57h-1zm1-420h1v2h-1zm0 21h1v8h-1zm1-1h1v1h-1zm1-18h1v1h-1zm0 7h1v11h-1zm0 413h1v55h-1zm1-412h1v7h-1zm1-21h1v14h-1zm0 443h1v45h-1zm1-423h1v1h-1zm1-8h1v1h-1zm0 7h1v16h-1zm1 1h1v14h-1zm1-8h1v1h-1zm0 11h1v1h-1zm1-2h1v31h-1zm1-2h1v23h-1zm1-16h1v9h-1zm0 22h1v13h-1zm1-4h1v6h-1zm1-2h1v3h-1zm1-10h1v4h-1zm0 10h1v20h-1zm1-7h1v2h-1zm0 9h1v1h-1zm1-13h2v5h-2zm0 12h1v6h-1zm2-11h1v5h-1zm1 10h1v16h-1zm1 3h1v14h-1zm1-2h1v2h-1zm1-10h1v4h-1zm0 16h1v17h-1zm2-7h1v17h-1zm1 5h1v18h-1zm1-15h1v2h-1zm0 11h1v9h-1zm1-12h1v6h-1zm0 13h1v13h-1zm1-2h1v2h-1zm1 1h1v37h-1zm1 0h1v10h-1zm1 0h1v11h-1zm1 0h1v9h-1zm1-14h1v5h-1zm0 13h1v7h-1zm1 0h1v3h-1zm1-14h1v9h-1zm1 15h1v23h-1zm1 2h1v3h-1zm1-2h1v3h-1zm1-12h1v6h-1zm1 3h1v2h-1zm1 19h1v3h-1zm1-19h1v2h-1zm0 11h1v3h-1zm1-3h1v15h-1zm1-13h1v6h-1zm0 13h1v17h-1zm1-9h1v2h-1zm0 9h1v6h-1zm2-10h1v2h-1zm0 10h1v3h-1zm1-8h1v3h-1zm0 8h1v2h-1zm1 0h1v3h-1zm1 0h1v17h-1zm1-7h1v1h-1zm0 7h1v31h-1zm1 0h1v9h-1zm1 0h1v2h-1zm1 2h1v5h-1zm1 2h1v3h-1zm1-4h1v2h-1zm1 1h1v11h-1zm1 8h1v18h-1zm1-9h1v3h-1zm1-8h1v2h-1zm0 13h1v19h-1zm3-5h1v20h-1zm1 0h1v19h-1zm1 0h1v4h-1zm1-7h2v1h-2zm0 7h2v2h-2zm2 8h1v1h-1zm1-20h1v6h-1zm0 12h1v6h-1zm1 0h1v13h-1zm1-10h1v4h-1zm0 16h1v11h-1zm1-6h1v3h-1zm1-7h1v1h-1zm0 7h1v4h-1zm1-7h1v2h-1zm0 7h1v2h-1zm1-10h1v5h-1zm0 10h1v7h-1zm1-8h1v3h-1zm0 8h1v16h-1zm1-12h1v8h-1zm0 13h1v1h-1zm1-9h1v3h-1zm0 8h2v23h-2zm1-10h1v6h-1zm1 10h1v25h-1zm1 5h1v2h-1zm2-4h2v1h-2zm2-1h1v9h-1zm1 0h1v26h-1zm1-8h1v2h-1zm0 8h1v5h-1zm1 5h1v5h-1zm1-5h1v18h-1zm1-11h1v6h-1zm1 15h1v17h-1zm1-12h1v4h-1zm0 8h1v2h-1zm1 1h1v1h-1zm1-13h1v7h-1zm0 17h1v5h-1zm2-5h1v11h-1zm1 0h1v3h-1zm2 0h2v2h-2zm2-11h1v6h-1zm0 13h1v3h-1zm1 3h1v14h-1zm1-3h1v24h-1zm1-13h1v6h-1zm1 11h1v9h-1zm1 1h1v16h-1zm1-2h1v24h-1zm1 8h1v9h-1zm1-7h1v5h-1zm1-12h1v6h-1zm0 13h1v2h-1zm1-7h1v1h-1zm0 7h1v25h-1zm1 2h1v13h-1zm2-4h1v12h-1zm1-7h1v3h-1zm0 8h1v12h-1zm1-1h1v4h-1zm1 1h1v3h-1zm1 0h1v10h-1zm1-1h1v22h-1zm2-11h1v7h-1zm0 17h1v7h-1zm1-5h1v2h-1zm1-12h1v7h-1zm0 11h1v18h-1zm1 1h2v2h-2zm1-11h1v6h-1zm2 13h1v5h-1zm1-2h1v8h-1zm1 4h1v11h-1zm1-4h1v5h-1zm1 0h1v17h-1zm1-12h1v7h-1zm0 11h1v5h-1zm1-8h1v4h-1zm0 9h1v17h-1zm1 5h1v5h-1zm1-12h1v2h-1zm0 7h1v2h-1zm1-11h1v6h-1zm0 11h1v7h-1zm1-1h1v5h-1zm1 1h1v5h-1zm2-1h1v2h-1zm1 1h1v9h-1zm1-11h1v5h-1zm0 10h1v3h-1zm1-5h1v1h-1zm0 8h1v1h-1zm1-3h1v8h-1zm1 1h1v1h-1zm1-6h1v1h-1zm0 7h1v3h-1zm1-1h1v2h-1zm1-7h1v2h-1zm0 8h1v16h-1zm1-1h1v1h-1zm1 0h1v20h-1zm1 0h1v15h-1zm1-8h1v3h-1zm0 8h1v4h-1zm1 0h1v2h-1zm1 3h1v11h-1zm1-10h1v3h-1zm0 10h1v2h-1zm1-11h1v3h-1zm0 8h1v15h-1zm1 0h1v5h-1zm1 0h1v1h-1zm1 3h1v6h-1zm1-3h1v1h-1zm1 2h1v15h-1zm1-9h1v1h-1zm0 7h1v3h-1zm1-9h1v4h-1zm0 12h1v9h-1zm1-10h1v2h-1zm0 7h1v9h-1zm1 0h2v1h-2zm1-9h1v4h-1zm1 1h1v2h-1zm0 10h1v2h-1zm1-2h1v3h-1zm1-7h1v2h-1zm0 7h1v11h-1zm1 0h1v10h-1zm2 0h1v3h-1zm1-9h1v4h-1zm0 9h1v7h-1zm1-8h1v3h-1zm0 9h1v6h-1zm1-7h1v1h-1zm0 6h1v4h-1zm1-9h1v4h-1zm0 9h1v1h-1zm1 0h1v7h-1zm1-9h1v4h-1zm0 9h1v1h-1zm1-6h1v1h-1zm2-4h1v4h-1zm0 9h1v3h-1zm1-9h1v5h-1zm0 10h1v4h-1zm1 0h2v10h-2zm2-6h1v1h-1zm0 8h1v6h-1zm1-10h1v3h-1zm0 7h1v2h-1zm1 1h1v4h-1zm1-6h1v2h-1zm0 6h1v1h-1zm1 0h1v11h-1zm1-6h3v1h-3zm0 6h2v3h-2zm2 1h1v8h-1zm1 0h1v3h-1zm1-10h1v4h-1zm0 9h1v2h-1zm1-6h1v1h-1zm0 5h1v2h-1zm1-10h1v7h-1zm0 11h1v1h-1zm1 0h1v8h-1zm1-8h1v3h-1zm0 7h1v2h-1zm1-4h1v1h-1zm0 5h1v5h-1zm1-8h1v3h-1zm0 8h1v4h-1zm1 2h1v5h-1zm2-9h1v2h-1zm0 7h1v3h-1zm1 0h1v9h-1zm1 3h1v6h-1zm1-3h1v1h-1zm1-6h1v1h-1zm0 5h1v6h-1zm1-8h1v4h-1zm0 9h1v5h-1zm1-7h1v2h-1zm0 7h1v7h-1zm1 0h1v9h-1zm1 1h1v5h-1zm1-2h1v6h-1zm2 1h1v8h-1zm1-6h1v1h-1zm0 6h1v1h-1zm1 2h1v7h-1zm1-2h1v1h-1zm1-7h1v1h-1zm0 7h1v7h-1zm1-6h1v1h-1zm0 6h2v1h-2zm2-1h1v10h-1zm1-6h1v2h-1zm0 7h1v4h-1zm1-1h1v7h-1zm1 1h1v6h-1zm1 0h1v2h-1zm2-9h1v4h-1zm0 9h1v7h-1zm1 0h1v1h-1zm1 0h1v7h-1zm1 0h2v1h-2zm1-9h1v4h-1zm1 8h1v2h-1zm1 2h1v7h-1zm1-9h1v4h-1zm0 8h1v6h-1zm2-7h1v1h-1zm0 7h1v2h-1zm1 0h1v9h-1zm1 0h1v7h-1zm1-7h1v1h-1zm0 8h1v1h-1zm1-1h1v1h-1zm1 1h1v2h-1zm3-2h1v6h-1zm1-9h1v5h-1zm0 10h1v1h-1zm1 0h1v5h-1zm2-1h1v2h-1zm2 1h1v1h-1zm1 0h1v7h-1zm3-7h1v2h-1zm0 7h1v1h-1zm2-6h1v1h-1zm1 7h1v3h-1zm1-7h1v1h-1zm0 6h1v1h-1zm1 1h1v1h-1zm1-7h1v1h-1zm1 6h1v1h-1zm1 1h1v1h-1zm1-9h1v3h-1zm0 8h1v1h-1zm1 0h1v2h-1zm1-6h1v1h-1zm0 5h1v2h-1zm1 1h1v5h-1zm1 0h1v2h-1zm3-9h2v4h-2zm0 9h1v1h-1zm1 0h1v4h-1zm1-10h1v6h-1zm2 9h1v2h-1zm2-5h1v1h-1zm0 5h1v2h-1zm1 0h1v4h-1zm1-6h1v2h-1zm0 8h1v1h-1zm1-1h1v2h-1zm3-6h1v1h-1zm1 6h1v2h-1zm1-1h1v4h-1zm1 1h3v1h-3zm1-9h1v3h-1zm1 2h1v2h-1zm2 6h1v1h-1zm1 1h2v3h-2zm2 0h1v4h-1zm1-5h1v1h-1zm0 5h1v1h-1zm1-9h1v4h-1zm1 8h1v4h-1zm1 0h1v3h-1zm1-5h1v1h-1zm0 6h1v2h-1zm2-7h1v2h-1zm2 6h1v1h-1zm1 1h1v2h-1zm1-7h1v2h-1zm1 1h1v1h-1zm0 6h1v3h-1zm1-9h2v4h-2zm0 9h1v2h-1zm2-1h1v3h-1zm1 1h1v3h-1zm1-7h1v3h-1zm0 6h1v2h-1zm4 1h1v3h-1zm1-7h1v2h-1zm0 6h1v1h-1zm2-5h1v1h-1zm0 6h1v2h-1zm2 0h1v3h-1zm1 0h1v2h-1zm1-9h1v3h-1zm0 9h3v1h-3zm2-6h2v1h-2zm7-3h1v4h-1zm0 9h1v2h-1zm4-9h1v5h-1zm0 8h1v1h-1zm1-6h1v3h-1zm0 7h1v1h-1zm2-5h1v1h-1zm0 5h1v1h-1zm3-1h1v3h-1zm1 0h1v2h-1zm1 0h1v1h-1zm1-7h1v3h-1zm0 8h1v2h-1zm3-1h1v1h-1zm2 1h1v1h-1zm1 0h1v2h-1zm1 0h2v1h-2zm4-7h1v3h-1zm1 0h1v2h-1zm2 6h1v2h-1zm1 1h1v1h-1zm1-9h1v4h-1zm1 9h1v1h-1zm5-1h1v2h-1zm1-6h1v2h-1zm1 1h1v1h-1zm0 6h1v1h-1zm3 0h1v1h-1zm1-8h1v3h-1zm2 8h1v2h-1zm2-10h1v6h-1zm1 2h1v3h-1zm0 7h1v1h-1zm1-6h1v3h-1zm0 6h1v2h-1zm1 1h2v1h-2zm1-9h1v5h-1zm1 8h1v1h-1zm2-9h1v5h-1zm0 9h1v1h-1zm1 0h1v2h-1zm2 0h1v1h-1zm2 1h1v1h-1zm1-5h1v1h-1zm0 4h1v2h-1zm2-9h1v5h-1zm2 9h1v3h-1zm1-5h1v2h-1zm0 6h1v2h-1zm2-6h1v1h-1zm0 5h1v1h-1zm2-7h1v3h-1zm1 1h1v2h-1zm2 6h1v1h-1zm2 1h4v1h-4zm2-6h1v1h-1zm1-1h1v2h-1zm2 7h1v2h-1zm5-1h1v1h-1zm1-8h1v4h-1zm2 0h1v5h-1zm0 8h1v1h-1zm2-6h1v2h-1zm1-1h1v3h-1zm2 0h1v3h-1zm1 8h1v1h-1zm2 0h1v1h-1zm1-1h1v1h-1zm1-8h2v4h-2zm1 9h1v2h-1zm2-7h1v3h-1zm0 7h1v1h-1zm1-7h1v2h-1zm1-1h1v3h-1zm1 8h1v1h-1zm1-10h1v5h-1zm0 10h1v2h-1zm1-7h1v2h-1zm0 7h1v1h-1zm2-1h2v1h-2zm2-9h1v5h-1zm0 10h1v1h-1zm2 0h1v1h-1zm2-8h1v3h-1zm2 7h1v1h-1zm1-6h1v2h-1zm0 7h1v1h-1zm1 0h1v2h-1zm1 0h1v1h-1zm1-11h1v6h-1zm1 10h1v2h-1zm1 1h1v2h-1zm1-10h1v5h-1zm1 2h1v3h-1zm2 8h1v1h-1zm1-1h1v1h-1zm1-7h1v2h-1zm0 8h1v1h-1zm3 0h2v2h-2zm2 0h1v1h-1zm1-1h1v3h-1zm1-6h1v2h-1zm1 7h1v1h-1zm3-1h1v1h-1zm1 2h1v1h-1zm1-8h1v2h-1zm0 7h1v1h-1zm1-9h1v3h-1zm0 8h1v1h-1zm3-5h1v1h-1zm1-4h1v5h-1zm0 10h1v2h-1zm1-7h1v2h-1zm0 6h1v2h-1zm1 1h1v2h-1zm1-5h1v1h-1zm0 4h1v1h-1zm4 1h1v2h-1zm1-1h1v2h-1zm1-8h1v4h-1zm0 8h1v3h-1zm3 0h1v1h-1zm1-6h1v3h-1zm1 7h3v1h-3zm2-7h1v3h-1zm1-2h1v5h-1zm1 9h1v1h-1zm2 0h1v2h-1zm3-7h1v3h-1zm1 0h1v2h-1zm0 7h1v1h-1zm1-6h1v1h-1zm0 5h1v1h-1zm3-5h1v1h-1zm0 5h1v1h-1zm1 1h1v1h-1zm1-9h1v4h-1zm0 8h1v1h-1zm1-6h1v2h-1zm1 7h1v2h-1zm1 0h1v1h-1zm1-6h2v1h-2zm1 6h1v2h-1zm1-1h1v1h-1zm2 0h1v1h-1zm2 1h1v1h-1zm1-6h1v1h-1zm0 5h1v2h-1zm2-5h1v1h-1zm2 6h1v2h-1zm1-7h1v2h-1zm0 6h1v1h-1zm1-9h1v6h-1zm1 1h1v4h-1zm0 8h1v1h-1zm1-7h1v4h-1zm0 8h1v1h-1zm4 0h1v2h-1zm1 0h1v1h-1zm2-6h1v2h-1zm1 6h1v1h-1zm2-6h1v2h-1zm0 5h1v1h-1zm1-4h1v1h-1zm2 4h1v1h-1zm1-9h1v4h-1zm1 4h1v1h-1zm0 5h1v1h-1zm1-8h1v4h-1zm0 9h1v2h-1zm2 0h1v1h-1zm2 0h1v1h-1zm5-10h1v4h-1zm0 9h1v3h-1zm1 1h1v1h-1zm1 0h1v2h-1zm2-9h1v4h-1zm2 2h1v2h-1zm0 7h2v1h-2zm1-9h1v4h-1zm1 2h1v2h-1zm4 7h1v1h-1zm1-7h1v2h-1zm1-1h1v3h-1zm0 8h1v1h-1zm2-8h1v3h-1zm1 2h2v1h-2zm2-2h1v3h-1zm1-1h1v4h-1zm2-1h1v6h-1zm1 9h1v1h-1zm2-9h1v5h-1zm2 9h1v1h-1zm2-5h1v1h-1zm1 5h1v1h-1zm3 0h1v2h-1zm1-8h1v3h-1zm1 0h1v4h-1zm0 9h3v1h-3zm1 467h1v2h-1zm1-476h1v4h-1zm2-1h1v5h-1zm0 10h2v1h-2zm0 461h1v8h-1zm2-462h1v1h-1zm1 1h1v1h-1zm0 459h1v10h-1zm1-465h1v2h-1zm0 5h2v1h-2zm2-5h1v1h-1zm0 6h1v1h-1zm0 456h1v13h-1zm1-466h1v5h-1zm0 9h1v1h-1zm1-9h1v6h-1zm0 10h1v1h-1zm1 457h1v12h-1zm3-457h1v1h-1zm0 453h1v16h-1zm2-453h1v1h-1zm1 449h1v20h-1zm1-449h2v1h-2zm1-6h1v1h-1zm1 5h1v2h-1zm0 448h1v22h-1zm2-448h1v1h-1zm1-6h1v2h-1zm0 452h1v24h-1zm1-451h1v1h-1zm0 5h1v2h-1zm2-6h1v3h-1zm0 7h1v1h-1zm0 462h1v7h-1zm2-468h1v1h-1zm0 6h1v1h-1zm1-1h1v1h-1zm0 440h1v30h-1zm1-447h1v3h-1zm0 452h1v25h-1zm1-6h1v31h-1zm2-438h1v2h-1zm1 442h1v27h-1zm1-451h1v4h-1zm0 9h1v2h-1zm1-1h1v1h-1zm1 441h1v29h-1zm1-441h1v1h-1zm0 442h1v28h-1zm1-449h1v3h-1zm0 7h1v2h-1zm1-10h1v5h-1zm0 10h1v1h-1zm0 438h1v32h-1zm1-447h1v6h-1zm0 10h2v1h-2zm2 434h1v35h-1zm1-440h1v1h-1zm1 6h1v1h-1zm1-8h1v3h-1zm0 464h1v13h-1zm1-465h1v3h-1zm1 9h1v2h-1zm1 436h1v33h-1zm1-442h1v2h-1zm0 6h1v1h-1zm0 439h1v30h-1zm2-448h1v4h-1zm0 465h1v13h-1zm2-463h1v2h-1zm0 6h1v2h-1zm1-7h2v4h-2zm0 8h1v1h-1zm0 440h1v29h-1zm1 1h1v28h-1zm1-442h1v1h-1zm0 437h1v33h-1zm1-442h1v1h-1zm0 6h1v1h-1zm0 440h1v29h-1zm2-446h1v2h-1zm0 5h2v1h-2zm0 441h2v29h-2zm1-446h1v1h-1zm1-2h1v4h-1zm1 444h2v33h-2zm1-437h1v2h-1zm1 1h1v1h-1zm1-5h1v1h-1zm0 445h1v29h-1zm1-440h1v1h-1zm1-8h1v3h-1zm0 7h1v2h-1zm1-10h1v7h-1zm0 11h1v2h-1zm0 444h1v25h-1zm1-445h1v1h-1zm1-9h1v6h-1zm0 10h2v1h-2zm1 447h1v22h-1zm1-457h1v6h-1zm2 464h1v15h-1zm1-464h1v5h-1zm0 9h1v1h-1zm2 0h1v1h-1zm0 467h1v3h-1zm1-472h1v2h-1zm1-3h1v4h-1zm1 8h1v1h-1zm1 1h2v1h-2zm3-11h1v7h-1zm1 3h1v4h-1zm0 7h1v3h-1zm2-10h1v7h-1zm1 10h1v2h-1zm2-6h1v2h-1zm1 6h1v1h-1zm1 1h1v1h-1zm1-1h1v2h-1zm2 1h1v1h-1zm1 462h1v7h-1zm2-462h2v1h-2zm2-10h1v5h-1zm0 9h1v1h-1zm1 0h1v2h-1zm1-7h1v3h-1zm0 8h1v1h-1zm0 444h1v25h-1zm2-445h1v3h-1zm0 441h1v29h-1zm2-449h1v4h-1zm0 8h1v3h-1zm1 439h1v31h-1zm1-447h1v5h-1zm0 9h1v1h-1zm0 441h1v28h-1zm2-3h1v31h-1zm2-444h1v1h-1zm0 6h2v1h-2zm0 438h1v31h-1zm3-447h1v4h-1zm0 8h2v1h-2zm0 438h1v32h-1zm3-2h1v34h-1zm1-445h1v5h-1zm1 9h1v1h-1zm1 439h1v31h-1zm1 3h1v28h-1zm1-448h1v2h-1zm1 7h1v1h-1zm0 438h1v31h-1zm2 8h1v23h-1zm1-452h1v2h-1zm1 5h1v1h-1zm1 453h1v17h-1zm1 5h1v12h-1zm1-457h2v1h-2zm1-10h1v5h-1zm0 450h1v29h-1zm1-441h1v2h-1zm0 447h1v23h-1zm1-446h3v1h-3zm0 450h1v19h-1zm1 5h1v14h-1zm2-456h1v2h-1zm0 439h1v31h-1zm3 19h1v12h-1zm1-458h1v1h-1zm2-10h2v6h-2zm0 455h1v25h-1zm1-444h1v1h-1zm2-12h1v7h-1zm0 460h1v21h-1zm1-449h1v1h-1zm1 0h1v2h-1zm0 457h1v13h-1zm3-462h1v1h-1zm0 462h1v13h-1zm1-464h1v3h-1zm1 3h1v1h-1zm1-5h1v6h-1zm0 464h1v15h-1zm2 8h1v7h-1zm2-462h1v1h-1zm1-8h1v4h-1zm0 466h1v11h-1zm1-465h1v2h-1zm0 6h1v2h-1zm1 1h3v1h-3zm1-6h1v1h-1zm0 469h1v6h-1zm3 2h1v4h-1zm3-474h1v4h-1zm0 9h1v1h-1zm2-8h1v3h-1zm1 7h1v2h-1zm1 0h2v1h-2zm2-5h1v2h-1zm0 6h1v1h-1zm1-9h1v5h-1zm1 9h1v1h-1zm2 0h1v1h-1zm2 0h2v1h-2zm1-6h1v1h-1z"/>
<path fill="#ff0000" d="M0 0m97 185h1v14h-1zm4 0h1v9h-1zm1 0h1v4h-1zm3-1h1v3h-1zm1-10h1v2h-1zm1 0h1v1h-1zm1-2h1v2h-1zm0 12h1v2h-1zm1-11h1v3h-1zm3 2h1v1h-1zm0 10h1v15h-1zm1-12h1v2h-1zm2 10h1v2h-1zm1-10h1v2h-1zm1 11h1v15h-1zm1-12h1v3h-1zm1 12h1v13h-1zm3-1h1v12h-1zm2 1h1v5h-1zm2-12h1v4h-1zm4 12h1v1h-1zm1-12h1v3h-1zm1 11h1v1h-1zm4-11h1v3h-1zm5 12h1v10h-1zm1 0h1v6h-1zm3 1h1v4h-1zm2-12h1v3h-1zm1 12h1v10h-1zm3-10h1v1h-1zm0 8h1v5h-1zm3 0h1v8h-1zm3-9h1v1h-1zm2 10h1v10h-1zm3-10h1v1h-1zm0 10h1v8h-1zm3-11h1v3h-1zm2 10h1v10h-1zm3-10h1v3h-1zm3 1h1v2h-1zm0 9h1v2h-1zm1 0h1v1h-1zm1-9h1v2h-1zm1 1h2v1h-2zm3-2h1v2h-1zm1 2h1v1h-1zm0 8h1v8h-1zm1 1h1v9h-1zm1-9h1v1h-1zm0 9h1v2h-1zm3-9h1v1h-1zm1 8h1v8h-1zm2-8h2v1h-2zm0 8h1v4h-1zm1 1h1v5h-1zm4-9h1v2h-1zm1 9h1v1h-1zm1-9h1v1h-1zm0 8h1v4h-1zm2-8h1v1h-1zm1-1h1v2h-1zm3 1h1v1h-1zm2 1h1v1h-1zm0 7h1v3h-1zm1-1h1v9h-1zm1-7h1v1h-1zm0 9h1v9h-1zm1 0h1v15h-1zm1-8h1v1h-1zm0 8h1v19h-1zm1-1h1v15h-1zm1-9h1v3h-1zm0 8h1v12h-1zm1 1h1v12h-1zm1 0h1v11h-1zm2-1h1v2h-1zm1 0h1v5h-1zm3 0h1v1h-1zm1 0h1v4h-1zm1 0h1v2h-1zm1-7h2v2h-2zm1 7h1v6h-1zm1-6h1v1h-1zm0 6h1v2h-1zm3 0h1v2h-1zm2 0h1v5h-1zm1 1h1v5h-1zm2 0h1v2h-1zm2-1h1v7h-1zm1-7h1v1h-1zm0 7h1v10h-1zm2 1h1v4h-1zm1-9h1v2h-1zm1 9h1v1h-1zm6-9h1v2h-1zm2 9h1v6h-1zm2-1h1v3h-1zm1-6h1v1h-1zm1 6h1v5h-1zm1 1h1v6h-1zm1-1h1v11h-1zm1 0h1v3h-1zm2-7h1v1h-1zm1 0h1v2h-1zm1 7h1v9h-1zm1-8h1v2h-1zm2 2h1v1h-1zm5 6h1v2h-1zm1 0h1v4h-1zm3-6h1v1h-1zm0 6h1v9h-1zm2 1h1v4h-1zm1-1h1v3h-1zm1 0h1v4h-1zm2-6h1v1h-1zm2 0h2v1h-2zm2 7h1v7h-1zm1-7h1v1h-1zm2 0h1v1h-1zm0 6h1v6h-1zm2-6h1v1h-1zm4 6h1v1h-1zm4 0h1v5h-1zm1 0h1v2h-1zm2-7h1v2h-1zm2 1h2v1h-2zm2 6h1v5h-1zm2 0h1v2h-1zm1 0h1v4h-1zm2-6h1v1h-1zm0 6h1v1h-1zm1 0h1v5h-1zm1 0h1v6h-1zm3 0h1v9h-1zm3 0h1v2h-1zm1 0h1v5h-1zm1 0h1v2h-1zm1 0h1v6h-1zm2-7h1v3h-1zm0 7h1v1h-1zm2-5h1v1h-1zm0 5h1v7h-1zm1-6h2v1h-2zm0 5h1v1h-1zm1 1h2v1h-2zm1-5h1v1h-1zm1 4h1v4h-1zm1 0h1v9h-1zm4-5h1v1h-1zm1 0h1v2h-1zm2-1h1v2h-1zm0 7h2v5h-2zm1-5h1v1h-1zm5 4h1v8h-1zm1 1h1v2h-1zm1-6h1v1h-1zm0 5h1v1h-1zm1 0h1v5h-1zm4 0h1v1h-1zm1 1h1v5h-1zm5-5h1v1h-1zm0 5h1v5h-1zm2-6h2v1h-2zm2 6h1v2h-1zm3-1h1v2h-1zm1-5h1v1h-1zm1 6h1v1h-1zm1-1h2v1h-2zm1-5h1v1h-1zm4 6h2v3h-2zm5-1h1v4h-1zm2 1h1v2h-1zm1-6h1v1h-1zm1 6h1v3h-1zm4-6h2v1h-2zm0 6h1v2h-1zm3-1h1v1h-1zm1-4h1v1h-1zm0 5h1v2h-1zm1-6h1v1h-1zm1 5h1v1h-1zm1 1h1v1h-1zm5 0h1v1h-1zm1 0h1v2h-1zm1-6h1v1h-1zm4 6h1v2h-1zm7 0h2v1h-2zm9 0h2v2h-2zm1-5h1v1h-1zm3 5h1v3h-1zm6 0h1v1h-1zm2-6h1v2h-1zm0 6h1v2h-1zm1-6h1v1h-1zm1 5h1v1h-1zm1-5h1v1h-1zm0 6h1v2h-1zm1-1h1v1h-1zm1-5h1v1h-1zm1 5h1v1h-1zm2-4h1v1h-1zm2-1h1v2h-1zm3 6h1v1h-1zm3-5h1v1h-1zm0 4h1v1h-1zm2 0h1v1h-1zm2 1h1v1h-1zm2-6h3v1h-3zm0 6h1v1h-1zm4-6h1v1h-1zm0 6h1v1h-1zm2 0h1v1h-1zm1-1h1v1h-1zm1-5h1v1h-1zm0 6h1v1h-1zm4-6h1v1h-1zm2 0h1v1h-1zm0 6h1v1h-1zm4-6h1v2h-1zm0 5h1v2h-1zm4 1h1v1h-1zm1-5h1v1h-1zm1 4h2v2h-2zm1-4h2v1h-2zm2 5h1v1h-1zm2-6h1v1h-1zm5 6h1v1h-1zm6 0h1v1h-1zm3 0h1v1h-1zm1-6h1v1h-1zm1 5h1v2h-1zm1-5h1v1h-1zm1 5h1v1h-1zm3-4h1v1h-1zm1-1h1v1h-1zm2 5h1v2h-1zm3-4h1v1h-1zm4-1h1v2h-1zm8 5h1v2h-1zm1-4h1v1h-1zm6-1h1v1h-1zm0 6h1v1h-1zm8-5h1v1h-1zm2-1h1v1h-1zm1 5h1v1h-1zm3 1h1v1h-1zm14 0h1v1h-1zm6-5h1v1h-1zm6 4h1v1h-1zm2 1h1v1h-1zm1-1h1v2h-1zm5 0h1v1h-1zm2-5h1v1h-1zm1 6h1v1h-1zm2-1h1v1h-1zm7-4h1v1h-1zm3 4h1v1h-1zm1 1h1v1h-1zm6 0h1v1h-1zm2-6h1v1h-1zm3 0h1v1h-1zm5 0h1v1h-1zm3 1h1v1h-1zm7-1h1v1h-1zm8 6h1v1h-1zm1-5h1v1h-1zm0 4h1v1h-1zm2-4h1v1h-1zm1 5h1v1h-1zm6 0h1v1h-1zm4-6h1v1h-1zm2 6h1v1h-1zm5-5h1v1h-1zm3 0h1v1h-1zm1 4h1v2h-1zm4-5h1v2h-1zm6 5h1v1h-1zm7 0h2v1h-2zm4-5h2v1h-2zm9 0h1v2h-1zm1 5h1v2h-1zm2 1h1v1h-1zm1-5h1v1h-1zm1-1h1v1h-1zm1 6h1v1h-1zm2-5h1v1h-1zm3 0h1v1h-1zm5 4h1v1h-1zm1-4h1v1h-1zm2 5h1v1h-1zm2-5h1v1h-1zm8-1h1v1h-1zm0 5h1v1h-1zm1-5h1v2h-1zm7 1h1v1h-1zm1 4h1v1h-1zm4-5h1v2h-1zm1 1h1v1h-1zm3 4h1v2h-1zm5-5h1v1h-1zm0 6h1v1h-1zm5 0h1v1h-1zm4-6h1v2h-1zm0 6h1v1h-1zm2-5h1v1h-1zm0 4h2v1h-2zm3 1h1v1h-1zm1-1h1v1h-1zm1 0h1v2h-1zm2 1h1v1h-1zm3-6h1v1h-1zm0 5h1v2h-1zm3-5h1v1h-1zm0 6h1v1h-1zm1-1h1v1h-1zm1-4h1v1h-1zm1 4h1v1h-1zm4 1h1v1h-1zm1-6h1v2h-1zm2 1h1v1h-1zm1 5h1v1h-1zm1-5h2v1h-2zm1 4h1v1h-1zm6 1h1v1h-1zm2 0h1v1h-1zm4-1h1v1h-1zm1-4h1v1h-1zm3 5h1v1h-1zm4-1h1v1h-1zm1 1h1v1h-1zm5-1h2v2h-2zm1-4h1v1h-1zm2-1h1v2h-1zm0 5h1v1h-1zm5-4h1v1h-1zm3 4h1v1h-1zm12-5h1v1h-1zm1 5h2v1h-2zm1-4h1v1h-1zm2 0h1v1h-1zm2 0h2v1h-2zm2 4h1v1h-1zm4-5h1v1h-1zm5 5h1v1h-1zm3-4h1v1h-1zm3-1h1v1h-1zm2 1h1v1h-1zm1-1h1v2h-1zm0 6h1v1h-1zm4-6h1v2h-1zm0 6h1v1h-1zm1-6h1v1h-1zm3 5h1v1h-1zm5 1h1v1h-1zm3 0h1v1h-1zm2-5h1v1h-1zm3-10h1v3h-1zm3 10h1v1h-1zm3-15h1v3h-1zm1 19h1v1h-1zm4-26h1v3h-1zm5 26h1v1h-1zm1-30h1v3h-1zm1 30h2v1h-2zm5-30h1v3h-1zm0 30h2v1h-2zm4 1h1v1h-1zm2-33h1v3h-1zm2 32h2v1h-2zm4-38h1v3h-1zm2 34h1v1h-1zm3-41h1v3h-1zm2 41h1v1h-1zm2 4h2v1h-2zm2-48h1v3h-1zm0 48h1v2h-1zm5-49h1v3h-1zm0 50h1v1h-1zm2-5h1v1h-1zm2 5h1v1h-1zm1-1h1v2h-1zm1-51h1v3h-1zm5 1h1v3h-1zm1 45h1v1h-1zm1 6h1v1h-1zm1-6h1v1h-1zm1 0h1v2h-1zm0 5h1v1h-1zm1-48h1v3h-1zm4 44h1v1h-1zm1-40h1v3h-1zm0 44h1v1h-1zm1-4h1v1h-1zm2-1h2v1h-2zm2-27h1v3h-1zm0 32h1v1h-1zm1-4h1v1h-1zm1 4h1v1h-1zm2 0h1v1h-1zm1-28h1v3h-1zm3 24h1v1h-1zm2-12h1v3h-1zm1 16h1v1h-1zm4-10h1v3h-1zm3 10h2v1h-2zm2-4h1v1h-1zm1-12h1v3h-1zm3 16h1v1h-1zm1 1h1v1h-1zm2-33h1v3h-1zm2 32h1v2h-1zm1-4h1v1h-1zm1-36h1v3h-1zm5-4h1v3h-1zm2 40h1v1h-1zm2-40h1v3h-1z"/>
<path fill="#000000" d="M0 0m78 59h18v1h-18zm0 40h18v1h-18zm0 41h18v1h-18zm0 40h18v1h-18zm0 40h18v1h-18zm0 41h18v1h-18zm0 40h33v1h-33zm5 108h13v1h-13zm0 61h13v1h-13zm0 60h13v1h-13zm0 60h13v1h-13zm0 61h13v1h-13zm4-588h9v1h-9zm0 4h9v1h-9zm0 4h9v1h-9zm0 4h9v1h-9zm0 4h9v1h-9zm0 4h9v1h-9zm0 4h9v1h-9zm0 4h9v1h-9zm0 4h9v1h-9zm0 8h9v1h-9zm0 4h9v1h-9zm0 4h9v1h-9zm0 4h9v1h-9zm0 5h9v1h-9zm0 4h9v1h-9zm0 4h9v1h-9zm0 4h9v1h-9zm0 4h9v1h-9zm0 8h9v1h-9zm0 4h9v1h-9zm0 4h9v1h-9zm0 4h9v1h-9zm0 4h9v1h-9zm0 4h9v1h-9zm0 4h9v1h-9zm0 4h9v1h-9zm0 4h9v1h-9zm0 8h9v1h-9zm0 4h9v1h-9zm0 4h9v1h-9zm0 4h9v1h-9zm0 4h9v1h-9zm0 4h9v1h-9zm0 4h9v1h-9zm0 4h9v1h-9zm0 4h9v1h-9zm0 8h9v1h-9zm0 4h9v1h-9zm0 4h9v1h-9zm0 4h9v1h-9zm0 4h9v1h-9zm0 5h9v1h-9zm0 4h9v1h-9zm0 4h9v1h-9zm0 4h9v1h-9zm0 8h9v1h-9zm0 4h9v1h-9zm0 4h9v1h-9zm0 4h9v1h-9zm0 4h9v1h-9zm0 4h9v1h-9zm0 4h9v1h-9zm0 4h9v1h-9zm0 4h9v1h-9zm2 115h7v1h-7zm0 3h7v1h-7zm0 3h7v1h-7zm0 4h7v1h-7zm0 5h7v1h-7zm0 6h7v1h-7zm0 8h7v1h-7zm0 10h7v1h-7zm0 21h7v1h-7zm0 3h7v1h-7zm0 4h7v1h-7zm0 4h7v1h-7zm0 5h7v1h-7zm0 6h7v1h-7zm0 7h7v1h-7zm0 11h7v1h-7zm0 21h7v1h-7zm0 3h7v1h-7zm0 3h7v1h-7zm0 4h7v1h-7zm0 5h7v1h-7zm0 6h7v1h-7zm0 8h7v1h-7zm0 10h7v1h-7zm0 21h7v1h-7zm0 3h7v1h-7zm0 4h7v1h-7zm0 4h7v1h-7zm0 5h7v1h-7zm0 6h7v1h-7zm0 7h7v1h-7zm0 11h7v1h-7zm7-574h1v173h-1zm0 283h1v30h-1zm0 67h1v243h-1zm1-350h14v1h-14zm0 115h1v11h-1zm0 168h3v1h-3zm0 29h121v1h-121zm0 38h14v1h-14zm0 13h1v12h-1zm0 229h14v1h-14zm1-476h3v10h-3zm0 178h2v7h-2zm0 67h1v7h-1zm1 3h1v4h-1zm1-81h11v19h-11zm0 83h1v8h-1zm1-251h1v11h-1zm0 255h1v3h-1zm1-254h1v10h-1zm0 248h1v10h-1zm1-248h1v9h-1zm0 244h1v37h-1zm1-245h1v10h-1zm0 250h1v28h-1zm1-249h1v9h-1zm0 252h1v6h-1zm1-251h1v7h-1zm0 251h1v7h-1zm1-252h1v10h-1zm0 249h1v43h-1zm1-250h1v10h-1zm0 246h1v36h-1zm1-244h1v9h-1zm0 249h1v9h-1zm1-249h1v8h-1zm0 251h1v6h-1zm1-370h1v3h-1zm0 118h1v8h-1zm0 126h1v3h-1zm0 41h107v1h-107zm0 65h1v3h-1zm0 18h1v11h-1zm0 226h1v3h-1zm1-592h30v1h-30zm0 117h1v9h-1zm0 125h30v1h-30zm0 108h30v1h-30zm0 12h1v30h-1zm0 230h30v1h-30zm1-476h1v9h-1zm0 250h1v24h-1zm1-251h1v11h-1zm0 254h1v8h-1zm1-254h1v9h-1zm0 253h1v9h-1zm1-252h1v9h-1zm0 251h1v9h-1zm1-250h1v8h-1zm0 245h1v12h-1zm1-246h1v8h-1zm0 250h1v46h-1zm1-250h1v9h-1zm0 253h1v28h-1zm1-252h1v9h-1zm0 251h1v5h-1zm1-251h1v8h-1zm0 249h1v9h-1zm1-250h1v8h-1zm0 247h1v22h-1zm1-247h1v10h-1zm0 249h1v18h-1zm1-250h1v10h-1zm1 2h2v9h-2zm0 253h1v6h-1zm1-71h2v4h-2zm0 66h1v12h-1zm1-250h1v10h-1zm0 248h1v29h-1zm1-247h1v10h-1zm0 251h1v28h-1zm1-251h1v8h-1zm0 254h1v29h-1zm1-255h1v10h-1zm0 254h1v2h-1zm1-253h2v8h-2zm0 252h1v6h-1zm1-5h1v8h-1zm1-248h3v10h-3zm0 250h1v12h-1zm1 5h1v5h-1zm1-1h1v6h-1zm1-253h1v10h-1zm0 252h1v9h-1zm1-252h1v8h-1zm0 247h1v27h-1zm1-246h1v8h-1zm0 249h1v6h-1zm1-250h1v10h-1zm0 255h1v13h-1zm1-254h1v9h-1zm0 251h1v10h-1zm1-252h1v9h-1zm0 246h1v50h-1zm1-367h1v6h-1zm0 120h1v10h-1zm0 127h1v6h-1zm0 103h1v6h-1zm0 24h1v6h-1zm0 223h1v6h-1zm1-592h30v1h-30zm0 117h1v7h-1zm0 125h30v1h-30zm0 108h30v1h-30zm0 21h1v4h-1zm0 221h30v1h-30zm1-475h1v8h-1zm0 185h2v4h-2zm0 68h1v6h-1zm1-255h2v11h-2zm0 254h1v9h-1zm1-6h1v48h-1zm1-246h1v7h-1zm0 252h1v9h-1zm1-253h1v10h-1zm0 254h1v7h-1zm1-255h1v9h-1zm0 257h1v29h-1zm1-255h1v8h-1zm0 249h1v10h-1zm1-249h1v7h-1zm0 245h1v25h-1zm1-246h1v8h-1zm0 251h1v9h-1zm1-252h2v9h-2zm0 254h1v30h-1zm1 4h1v3h-1zm1-258h1v11h-1zm0 253h1v10h-1zm1-253h1v9h-1zm0 248h1v39h-1zm1-247h1v8h-1zm0 253h1v30h-1zm1-252h2v8h-2zm0 253h1v3h-1zm2-253h2v7h-2zm0 250h1v10h-1zm1-1h1v23h-1zm1-250h1v9h-1zm0 252h1v11h-1zm1-252h1v8h-1zm0 256h1v4h-1zm1-255h2v8h-2zm0 252h1v9h-1zm1-6h1v21h-1zm1-247h2v8h-2zm0 252h1v8h-1zm1 5h1v36h-1zm1-256h1v7h-1zm0 257h1v4h-1zm1-258h1v8h-1zm0 255h1v5h-1zm1-254h2v8h-2zm0 249h1v28h-1zm1 4h1v20h-1zm1-254h1v8h-1zm1-118h1v3h-1zm0 119h2v7h-2zm0 125h1v3h-1zm0 106h1v3h-1zm0 21h1v9h-1zm0 223h1v3h-1zm1-592h30v1h-30zm0 242h30v1h-30zm0 108h30v1h-30zm0 20h1v6h-1zm0 222h30v1h-30zm1-475h1v8h-1zm0 250h1v12h-1zm1-250h1v6h-1zm0 251h1v9h-1zm1-251h1v8h-1zm0 256h1v4h-1zm1-256h1v7h-1zm0 256h1v6h-1zm1-257h1v8h-1zm0 254h1v8h-1zm1-253h1v7h-1zm0 249h1v46h-1zm1-250h1v9h-1zm0 253h1v38h-1zm1-252h1v8h-1zm0 254h1v8h-1zm1-255h2v8h-2zm0 257h1v5h-1zm1-2h1v2h-1zm1-254h4v7h-4zm0 250h1v42h-1zm1 4h1v3h-1zm1 2h1v24h-1zm1 2h1v5h-1zm1-258h2v8h-2zm0 254h1v7h-1zm1-3h1v20h-1zm1-251h1v6h-1zm0 254h1v9h-1zm1-253h2v6h-2zm0 254h1v3h-1zm1-1h1v9h-1zm1-254h1v8h-1zm0 252h1v16h-1zm1-252h1v7h-1zm0 254h1v8h-1zm1-254h2v8h-2zm0 257h2v6h-2zm2-257h1v6h-1zm0 253h1v11h-1zm1-253h1v7h-1zm0 251h1v22h-1zm1-252h1v8h-1zm0 256h1v9h-1zm1-255h1v7h-1zm0 259h1v2h-1zm1-259h1v8h-1zm0 257h1v3h-1zm1-256h1v6h-1zm0 252h1v8h-1zm1-372h1v3h-1zm0 119h1v6h-1zm0 125h1v3h-1zm0 106h1v3h-1zm0 18h1v44h-1zm0 226h1v3h-1zm1-592h30v1h-30zm0 117h2v8h-2zm0 125h30v1h-30zm0 108h30v1h-30zm0 14h1v45h-1zm0 228h30v1h-30zm1-232h1v32h-1zm1-242h1v7h-1zm0 246h1v14h-1zm1-246h1v6h-1zm0 249h1v11h-1zm1-249h1v5h-1zm0 251h1v9h-1zm1-252h1v7h-1zm0 254h1v8h-1zm1-253h2v6h-2zm0 255h1v19h-1zm2-256h1v6h-1zm0 254h1v10h-1zm1-253h1v5h-1zm0 252h1v27h-1zm1-253h1v7h-1zm0 254h1v26h-1zm1-254h3v6h-3zm0 259h1v4h-1zm1-5h1v8h-1zm1-88h1v30h-1zm0 86h1v24h-1zm1-251h5v5h-5zm0 165h757v1h-757zm0 29h205v1h-205zm0 62h1v8h-1zm2 3h1v1h-1zm1-2h1v5h-1zm1-5h1v17h-1zm1-253h1v6h-1zm0 257h1v2h-1zm1-256h1v5h-1zm0 258h1v6h-1zm1-259h1v7h-1zm0 259h1v25h-1zm1-259h1v6h-1zm0 255h1v8h-1zm1-254h1v6h-1zm0 251h1v22h-1zm1-252h1v6h-1zm0 257h1v7h-1zm1-257h1v7h-1zm0 186h3v6h-3zm0 75h1v1h-1zm1-260h1v6h-1zm0 255h1v1h-1zm1-255h1v5h-1zm0 257h1v7h-1zm1-258h2v6h-2zm0 254h1v21h-1zm1 2h1v15h-1zm1-375h1v3h-1zm0 120h1v6h-1zm0 124h1v3h-1zm0 106h1v3h-1zm0 28h1v3h-1zm0 216h1v3h-1zm1-592h30v1h-30zm0 117h1v7h-1zm0 125h30v1h-30zm0 108h30v1h-30zm0 28h1v3h-1zm0 214h30v1h-30zm1-474h1v6h-1zm0 258h1v4h-1zm1-259h1v6h-1zm0 253h1v11h-1zm1-252h2v6h-2zm0 258h1v4h-1zm1 1h1v22h-1zm1-260h2v7h-2zm1 257h1v7h-1zm1-257h1v6h-1zm0 253h1v12h-1zm1-252h1v5h-1zm0 259h1v4h-1zm1-259h1v6h-1zm1-1h1v7h-1zm0 258h1v6h-1zm1-257h1v5h-1zm0 255h1v42h-1zm1-255h1v6h-1zm0 259h1v4h-1zm1-259h1v5h-1zm0 261h1v39h-1zm1-262h1v7h-1zm0 259h1v4h-1zm1-259h4v6h-4zm0 260h1v5h-1zm1-5h1v34h-1zm1 3h1v33h-1zm1 5h1v2h-1zm1-262h2v5h-2zm0 262h1v21h-1zm1-4h1v5h-1zm1-259h1v6h-1zm0 256h1v37h-1zm1-255h3v5h-3zm0 260h1v26h-1zm1 1h1v4h-1zm2-262h1v6h-1zm0 260h1v7h-1zm1-259h2v5h-2zm0 256h1v31h-1zm1 3h1v6h-1zm1-260h1v6h-1zm1 1h1v5h-1zm0 265h1v2h-1zm1-385h1v3h-1zm0 119h1v6h-1zm0 125h1v3h-1zm0 106h1v3h-1zm0 30h1v4h-1zm0 214h1v3h-1zm1-592h30v1h-30zm0 117h1v7h-1zm0 125h30v1h-30zm0 108h30v1h-30zm0 23h1v34h-1zm0 219h30v1h-30zm1-474h2v5h-2zm0 259h1v7h-1zm1 7h1v1h-1zm1-267h1v7h-1zm0 266h1v1h-1zm1-265h4v5h-4zm0 261h1v3h-1zm1-74h2v4h-2zm0 67h1v23h-1zm1 7h1v15h-1zm1 5h1v16h-1zm1-267h1v6h-1zm0 260h1v6h-1zm1-259h2v5h-2zm0 254h1v12h-1zm1 5h1v6h-1zm1-259h1v6h-1zm1 0h8v5h-8zm1 258h1v5h-1zm1-3h1v31h-1zm1 6h1v7h-1zm3-1h1v7h-1zm1-2h1v47h-1zm1-257h1v4h-1zm0 261h1v39h-1zm1-262h1v5h-1zm1 1h1v4h-1zm1-1h3v5h-3zm0 261h1v6h-1zm1-3h1v17h-1zm1 2h1v14h-1zm1-260h2v6h-2zm1 272h1v8h-1zm1-272h7v5h-7zm0 261h1v7h-1zm1-4h1v35h-1zm1-380h1v6h-1zm0 247h1v6h-1zm0 103h1v6h-1zm0 36h1v22h-1zm0 211h1v6h-1zm1-592h30v1h-30zm0 242h30v1h-30zm0 108h30v1h-30zm0 242h30v1h-30zm1-211h1v18h-1zm1-5h1v47h-1zm1 17h1v31h-1zm1-274h1v4h-1zm1-1h3v5h-3zm0 275h1v8h-1zm2-15h1v10h-1zm1-259h1v4h-1zm0 260h1v4h-1zm1-261h9v5h-9zm3 261h1v19h-1zm2 6h1v5h-1zm2 11h1v17h-1zm1-17h1v12h-1zm1-260h1v4h-1zm0 262h1v6h-1zm1-263h1v4h-1zm1 1h1v4h-1zm1-1h1v4h-1zm1 0h1v5h-1zm0 261h1v48h-1zm1-260h1v4h-1zm0 265h1v6h-1zm1-266h3v4h-3zm3 0h1v5h-1zm0 260h1v44h-1zm1-260h1v4h-1zm0 267h1v5h-1zm1-267h1v5h-1zm1-120h1v3h-1zm0 121h1v4h-1zm0 123h1v3h-1zm0 106h1v3h-1zm0 244h1v3h-1zm1-592h29v1h-29zm0 119h1v3h-1zm0 123h29v1h-29zm0 108h29v1h-29zm0 29h1v27h-1zm0 213h29v1h-29zm1-474h1v5h-1zm0 268h1v19h-1zm1-267h2v4h-2zm2-1h1v4h-1zm0 273h1v3h-1zm1-273h2v5h-2zm0 261h1v16h-1zm1 4h1v8h-1zm1-265h1v4h-1zm1 0h1v5h-1zm1 0h1v4h-1zm1 1h1v3h-1zm0 264h1v50h-1zm1-265h2v5h-2zm0 268h1v84h-1zm2-268h2v4h-2zm1 274h1v5h-1zm1-274h3v5h-3zm0 266h1v45h-1zm1 1h1v6h-1zm1 14h1v2h-1zm1-281h1v4h-1zm1 0h1v5h-1zm1 1h1v4h-1zm0 264h1v8h-1zm1-265h1v4h-1zm1 0h1v5h-1zm1 0h1v4h-1zm0 274h1v7h-1zm1-274h1v5h-1zm0 268h1v7h-1zm1-268h1v4h-1zm1 0h1v5h-1zm1 0h1v4h-1zm0 283h1v10h-1zm1-283h2v5h-2zm1-120h1v3h-1zm0 244h1v3h-1zm0 106h1v3h-1zm0 39h1v36h-1zm0 205h1v3h-1zm1-592h30v1h-30zm0 118h2v4h-2zm0 124h30v1h-30zm0 108h30v1h-30zm0 52h1v18h-1zm0 190h30v1h-30zm2-474h4v5h-4zm0 282h1v14h-1zm2-13h1v47h-1zm1 12h1v40h-1zm1-280h1v4h-1zm0 280h1v4h-1zm1-281h3v5h-3zm0 283h1v17h-1zm1 4h1v34h-1zm1-18h1v40h-1zm1-269h1v4h-1zm0 281h1v6h-1zm1-281h10v5h-10zm3 270h1v14h-1zm1 14h2v2h-2zm4-11h1v51h-1zm1 13h1v16h-1zm1-286h1v4h-1zm1 1h1v4h-1zm0 285h1v2h-1zm1-286h1v5h-1zm0 270h1v26h-1zm1-270h1v4h-1zm0 284h1v16h-1zm1-284h7v5h-7zm1 282h1v20h-1zm2-11h1v54h-1zm2-391h1v3h-1zm0 244h1v3h-1zm0 106h1v3h-1zm0 59h1v1h-1zm0 185h1v3h-1zm1-592h30v1h-30zm0 242h30v1h-30zm0 108h30v1h-30zm0 60h1v35h-1zm0 182h30v1h-30zm1-474h1v4h-1zm1 0h4v5h-4zm0 270h1v20h-1zm2 11h1v12h-1zm2-281h1v4h-1zm1 1h2v4h-2zm0 273h1v17h-1zm2-274h6v5h-6zm0 295h1v16h-1zm1-4h1v1h-1zm1 0h1v17h-1zm1-20h1v58h-1zm3-271h1v4h-1zm1 1h1v4h-1zm0 273h1v36h-1zm1-274h1v5h-1zm1 0h1v4h-1zm0 298h1v4h-1zm1-297h1v4h-1zm1-1h1v5h-1zm0 296h1v1h-1zm1-295h2v4h-2zm0 270h1v31h-1zm1 24h1v5h-1zm1-295h1v5h-1zm1 1h1v4h-1zm0 301h1v8h-1zm1-302h2v5h-2zm1 272h1v43h-1zm1-272h1v4h-1zm0 299h1v18h-1zm1-299h3v5h-3zm1 290h1v23h-1zm1-410h1v3h-1zm0 244h1v3h-1zm0 106h1v3h-1zm0 244h1v3h-1zm1-592h30v1h-30zm0 119h1v4h-1zm0 123h30v1h-30zm0 108h30v1h-30zm0 41h1v55h-1zm0 201h30v1h-30zm1-474h1v4h-1zm0 276h1v49h-1zm1-275h1v4h-1zm0 270h1v39h-1zm1-271h1v5h-1zm0 183h6v12h-6zm0 82h1v32h-1zm1-265h1v4h-1zm0 260h1v45h-1zm1-260h1v5h-1zm0 261h1v56h-1zm1-261h1v4h-1zm0 264h1v37h-1zm1-264h1v5h-1zm0 275h1v47h-1zm1-275h1v4h-1zm0 282h1v13h-1zm1-281h1v4h-1zm0 193h546v1h-546zm1-193h1v3h-1zm0 270h1v71h-1zm1-271h1v5h-1zm1 1h1v3h-1zm0 300h1v2h-1zm1-301h1v5h-1zm1 1h1v4h-1zm0 272h1v66h-1zm1-273h3v5h-3zm0 314h1v27h-1zm3-313h1v3h-1zm0 302h1v1h-1zm1-303h1v5h-1zm0 273h1v37h-1zm1-273h2v4h-2zm1 307h1v6h-1zm1-307h1v5h-1zm0 281h1v30h-1zm1-280h1v4h-1zm1-1h5v5h-5zm0 272h1v33h-1zm5-271h1v4h-1zm0 272h1v49h-1zm1-396h1v5h-1zm0 123h1v5h-1zm0 124h1v6h-1zm0 103h1v6h-1zm0 87h1v5h-1zm0 160h1v6h-1zm1-474h1v4h-1zm0 124h30v1h-30zm0 108h30v1h-30zm0 242h30v1h-30zm1-474h1v5h-1zm1 0h1v4h-1zm1 0h1v5h-1zm0 271h1v58h-1zm1-270h1v4h-1zm1-1h1v5h-1zm0 311h1v4h-1zm1-311h1v4h-1zm1 0h4v5h-4zm1 275h1v32h-1zm2 43h1v17h-1zm1-317h1v3h-1zm0 312h1v4h-1zm1-313h4v5h-4zm0 274h1v65h-1zm1 43h1v18h-1zm2-4h1v9h-1zm1-312h1v4h-1zm0 315h1v1h-1zm1-316h1v4h-1zm0 274h1v71h-1zm1-273h1v3h-1zm0 311h1v4h-1zm1-311h1v4h-1zm1-1h3v5h-3zm0 324h1v11h-1zm2-46h1v58h-1zm1-278h1v4h-1zm0 327h1v14h-1zm1-327h6v5h-6zm0 296h1v12h-1zm3-18h1v74h-1zm2 47h1v2h-1zm1-445h1v2h-1zm0 121h1v4h-1zm0 123h1v3h-1zm0 106h1v3h-1zm0 244h1v3h-1zm1-474h1v5h-1zm0 124h30v1h-30zm0 108h30v1h-30zm0 242h30v1h-30zm1-474h1v4h-1zm0 279h1v68h-1zm1-279h1v5h-1zm0 319h1v4h-1zm1-319h2v4h-2zm0 322h1v11h-1zm2-322h2v5h-2zm0 282h1v38h-1zm2-282h1v4h-1zm1 0h1v5h-1zm0 328h1v15h-1zm1-328h1v4h-1zm1 0h1v5h-1zm0 281h1v70h-1zm1-281h1v4h-1zm0 332h1v11h-1zm1-331h1v4h-1zm1-1h2v5h-2zm0 309h1v34h-1zm2-309h2v4h-2zm0 282h1v61h-1zm1 48h1v1h-1zm1-330h1v5h-1zm0 328h1v20h-1zm1-327h1v4h-1zm0 329h1v30h-1zm1-330h1v5h-1zm1 1h1v4h-1zm0 289h1v56h-1zm1-290h1v5h-1zm0 337h1v1h-1zm1-336h1v3h-1zm1-1h1v4h-1zm1 0h4v5h-4zm1 298h1v55h-1zm2 24h1v18h-1zm1-322h1v4h-1zm1 1h1v4h-1zm1-121h1v2h-1zm0 120h1v4h-1zm0 124h1v3h-1zm0 106h1v3h-1zm0 72h1v49h-1zm0 172h1v3h-1zm1-473h1v4h-1zm0 123h30v1h-30zm0 108h30v1h-30zm0 242h30v1h-30zm1-474h2v5h-2zm2 0h1v4h-1zm0 302h1v47h-1zm1-302h1v5h-1zm1 1h1v3h-1zm1-1h4v5h-4zm2 308h1v79h-1zm2-308h1v4h-1zm0 348h1v2h-1zm1-347h1v4h-1zm1-1h2v5h-2zm1 320h1v46h-1zm1-319h1v4h-1zm0 355h1v5h-1zm1-356h2v5h-2zm0 353h1v21h-1zm1-4h1v3h-1zm1-349h1v4h-1zm1 0h5v5h-5zm0 321h1v46h-1zm1 38h1v27h-1zm4-358h1v4h-1zm1-1h3v5h-3zm2 355h1v21h-1zm1-354h1v4h-1zm0 325h1v50h-1zm1-326h1v5h-1zm0 354h1v21h-1zm1-353h1v3h-1zm1-121h1v2h-1zm0 121h1v4h-1zm0 123h1v3h-1zm0 106h1v3h-1zm0 115h1v19h-1zm0 129h1v3h-1zm1-474h1v5h-1zm0 124h30v1h-30zm0 108h30v1h-30zm0 242h30v1h-30zm1-473h1v4h-1zm0 329h1v46h-1zm1-330h2v5h-2zm2 0h2v4h-2zm2 1h1v3h-1zm1-1h2v5h-2zm2 1h1v4h-1zm1-1h1v4h-1zm1 0h4v5h-4zm4 0h1v4h-1zm1 1h2v4h-2zm2 0h1v3h-1zm1-1h2v5h-2zm2 0h1v4h-1zm1 0h1v5h-1zm1 0h1v4h-1zm1 0h4v5h-4zm3-118h3v1h-3zm1 118h2v4h-2zm2-120h1v3h-1zm0 120h4v5h-4zm0 124h1v3h-1zm0 106h1v3h-1zm0 244h1v3h-1zm1-592h29v1h-29zm0 242h29v1h-29zm0 108h29v1h-29zm0 242h29v1h-29zm3-473h2v4h-2zm2-1h2v5h-2zm2 1h1v3h-1zm1 0h1v4h-1zm1-1h1v4h-1zm1 1h1v3h-1zm1 0h2v4h-2zm2-1h1v4h-1zm1 0h1v5h-1zm1 0h2v4h-2zm2 0h1v5h-1zm1 0h1v4h-1zm1 0h2v5h-2zm2 1h1v3h-1zm1-1h3v5h-3zm3 0h1v4h-1zm1 1h2v4h-2zm2-1h1v4h-1zm1-123h1v6h-1zm0 124h1v4h-1zm0 123h1v6h-1zm0 103h1v6h-1zm0 247h1v6h-1zm1-592h30v1h-30zm0 118h2v5h-2zm0 124h30v1h-30zm0 108h30v1h-30zm0 242h30v1h-30zm2-473h1v4h-1zm1-1h1v4h-1zm1 0h6v5h-6zm6 1h1v4h-1zm1-1h2v5h-2zm2 1h1v3h-1zm1 0h1v4h-1zm1 0h1v3h-1zm1-1h1v5h-1zm1 1h1v4h-1zm1 0h1v3h-1zm1-1h8v5h-8zm8 0h1v4h-1zm1 0h3v5h-3zm2-120h1v3h-1zm0 244h1v3h-1zm0 106h1v3h-1zm0 244h1v3h-1zm1-592h30v1h-30zm0 119h1v4h-1zm0 123h30v1h-30zm0 108h30v1h-30zm0 242h30v1h-30zm1-474h1v5h-1zm1 1h1v4h-1zm1-1h2v5h-2zm2 1h1v4h-1zm1-1h3v4h-3zm3 0h1v5h-1zm1 1h2v4h-2zm2-1h3v5h-3zm3 0h2v4h-2zm2 0h3v5h-3zm3 0h1v4h-1zm1 0h2v5h-2zm2 0h2v4h-2zm2 1h1v4h-1zm1-1h1v4h-1zm1 0h4v5h-4zm3-120h1v3h-1zm0 244h1v3h-1zm0 106h1v3h-1zm0 244h1v3h-1zm1-592h30v1h-30zm0 119h1v4h-1zm0 123h30v1h-30zm0 108h30v1h-30zm0 242h30v1h-30zm1-474h1v5h-1zm1 1h1v3h-1zm1-1h2v5h-2zm2 1h1v4h-1zm1-1h2v4h-2zm2 0h1v5h-1zm1 1h1v4h-1zm1-1h1v4h-1zm1 0h2v5h-2zm2 1h1v4h-1zm1-1h1v5h-1zm1 0h1v4h-1zm1 1h1v4h-1zm1 0h1v3h-1zm1-1h3v5h-3zm3 0h1v4h-1zm1 1h1v3h-1zm1-1h1v4h-1zm1 0h2v5h-2zm2 1h1v3h-1zm1 0h1v4h-1zm1-1h2v5h-2zm2-120h1v3h-1zm0 121h2v4h-2zm0 123h1v3h-1zm0 106h1v3h-1zm0 244h1v3h-1zm1-592h30v1h-30zm0 242h30v1h-30zm0 108h30v1h-30zm0 242h30v1h-30zm1-474h2v5h-2zm2 0h1v4h-1zm1 1h1v4h-1zm1-1h1v5h-1zm1 1h1v4h-1zm1-1h1v5h-1zm1 0h1v4h-1zm1 0h2v5h-2zm2 1h1v3h-1zm1-1h2v4h-2zm2 0h2v5h-2zm2 1h2v4h-2zm2-1h1v5h-1zm1 0h3v4h-3zm3 0h1v5h-1zm1 1h1v4h-1zm1-1h1v4h-1zm1 0h4v5h-4zm4 0h1v4h-1zm1-120h1v3h-1zm0 121h1v4h-1zm0 123h1v3h-1zm0 106h1v3h-1zm0 244h1v3h-1zm1-592h30v1h-30zm0 118h1v4h-1zm0 124h30v1h-30zm0 108h30v1h-30zm0 242h30v1h-30zm1-473h3v4h-3zm3-1h1v5h-1zm1 1h1v3h-1zm1-1h1v4h-1zm1 0h1v5h-1zm1 1h1v4h-1zm1-1h1v4h-1zm1 1h2v3h-2zm2 0h1v4h-1zm1-1h1v5h-1zm1 1h1v3h-1zm1-1h2v4h-2zm2 0h2v5h-2zm2 0h1v4h-1zm1 1h1v4h-1zm1-1h1v4h-1zm1 0h2v5h-2zm2 1h1v4h-1zm1-1h1v5h-1zm1 1h1v3h-1zm1-1h1v5h-1zm1 1h1v4h-1zm1-1h1v5h-1zm1-123h1v6h-1zm0 124h1v4h-1zm0 123h1v6h-1zm0 103h1v6h-1zm0 247h1v6h-1zm1-592h30v1h-30zm0 119h1v3h-1zm0 123h30v1h-30zm0 108h30v1h-30zm0 242h30v1h-30zm1-474h6v5h-6zm6 1h1v4h-1zm1-1h4v5h-4zm4 0h1v4h-1zm1 1h1v4h-1zm1-1h3v5h-3zm3 1h1v4h-1zm1-1h1v4h-1zm1 0h1v5h-1zm1 0h1v4h-1zm1 0h1v5h-1zm1 0h1v4h-1zm1 0h2v5h-2zm2 1h3v3h-3zm3-1h1v4h-1zm1 1h1v3h-1zm1-121h1v3h-1zm0 120h4v5h-4zm0 124h1v3h-1zm0 106h1v3h-1zm0 244h1v3h-1zm1-592h30v1h-30zm0 242h30v1h-30zm0 108h30v1h-30zm0 242h30v1h-30zm3-473h2v4h-2zm2-1h2v4h-2zm2 1h1v3h-1zm1-1h1v4h-1zm1 0h1v5h-1zm1 0h1v4h-1zm1 1h2v4h-2zm2-1h4v5h-4zm4 1h1v4h-1zm1-1h1v5h-1zm1 0h1v4h-1zm1 1h2v3h-2zm2 0h1v4h-1zm1-1h1v4h-1zm1 1h1v4h-1zm1 0h1v3h-1zm1-1h1v4h-1zm1 1h1v4h-1zm1-1h2v5h-2zm2-120h1v3h-1zm0 120h1v4h-1zm0 124h1v3h-1zm0 106h1v3h-1zm0 244h1v3h-1zm1-592h29v1h-29zm0 118h2v5h-2zm0 124h29v1h-29zm0 108h29v1h-29zm0 242h29v1h-29zm2-473h1v4h-1zm1-1h1v5h-1zm1 0h1v4h-1zm1 0h1v5h-1zm1 0h1v4h-1zm1 1h1v4h-1zm1-1h3v4h-3zm3 1h3v4h-3zm3-1h1v5h-1zm1 1h1v4h-1zm1-1h1v5h-1zm1 1h1v4h-1zm1-1h2v5h-2zm2 1h1v4h-1zm1 0h1v3h-1zm1-1h2v5h-2zm2 0h1v4h-1zm1 1h2v4h-2zm2-1h1v4h-1zm1 0h2v5h-2zm1-120h1v3h-1zm0 244h1v3h-1zm0 106h1v3h-1zm0 244h1v3h-1zm1-592h30v1h-30zm0 119h2v3h-2zm0 123h30v1h-30zm0 108h30v1h-30zm0 242h30v1h-30zm2-473h2v4h-2zm0 298h1v7h-1zm2-306h1v11h-1zm1 7h1v5h-1zm1 1h2v4h-2zm2-1h1v4h-1zm1 1h1v4h-1zm0 290h1v31h-1zm1-303h1v16h-1zm1 13h1v3h-1zm1 0h2v4h-2zm2-1h1v5h-1zm1-19h1v24h-1zm0 316h1v43h-1zm1-297h1v4h-1zm1 1h1v4h-1zm1-1h1v4h-1zm0 342h1v9h-1zm1-341h1v4h-1zm1-1h1v4h-1zm1-23h1v27h-1zm0 310h1v73h-1zm1-287h2v4h-2zm0 297h1v68h-1zm2-297h1v5h-1zm0 364h1v11h-1zm1-363h1v4h-1zm0 362h1v15h-1zm1-362h1v3h-1zm0 376h1v7h-1zm1-400h1v27h-1zm0 310h1v104h-1zm1-286h1v3h-1zm0 293h1v101h-1zm1-294h1v4h-1zm0 373h1v28h-1zm1-493h1v3h-1zm0 120h2v5h-2zm0 124h1v3h-1zm0 106h1v3h-1zm0 151h1v26h-1zm0 93h1v3h-1zm1-592h30v1h-30zm0 242h30v1h-30zm0 108h30v1h-30zm0 124h1v56h-1zm0 118h10v1h-10zm1-474h1v4h-1zm0 377h1v42h-1zm1-402h1v30h-1zm0 309h1v143h-1zm1-283h1v3h-1zm0 376h1v34h-1zm1-377h2v4h-2zm0 382h1v62h-1zm1-68h1v138h-1zm1-314h2v5h-2zm0 366h1v93h-1zm1-12h1v112h-1zm1-385h1v36h-1zm0 321h1v172h-1zm1-289h1v4h-1zm0 382h1v78h-1zm1-382h1v3h-1zm0 375h1v99h-1zm1-376h1v4h-1zm0 344h1v110h-1zm0 130h19v1h-19zm1-474h1v5h-1zm0 383h1v66h-1zm1-421h1v43h-1zm0 326h1v159h-1zm1-287h1v3h-1zm0 382h1v62h-1zm1-382h1v4h-1zm0 381h1v52h-1zm1-382h2v4h-2zm0 363h1v78h-1zm1 26h1v54h-1zm1-388h1v3h-1zm0 385h1v54h-1zm1-427h1v45h-1zm0 328h1v152h-1zm1-287h1v5h-1zm0 297h1v105h-1zm1-296h1v4h-1zm0 384h1v50h-1zm1-385h2v5h-2zm0 379h1v58h-1zm1 8h1v46h-1zm1-429h1v47h-1zm0 323h1v154h-1zm1-281h1v4h-1zm0 284h1v44h-1zm1-283h1v3h-1zm1-1h1v5h-1zm0 391h1v41h-1zm1-390h1v4h-1zm0 389h1v39h-1zm1-390h1v4h-1zm0 389h1v43h-1zm1-512h1v6h-1zm0 79h1v48h-1zm0 168h1v6h-1zm0 103h1v6h-1zm0 54h1v165h-1zm0 193h1v6h-1zm1-592h30v1h-30zm0 118h4v5h-4zm0 124h30v1h-30zm0 108h30v1h-30zm0 70h1v123h-1zm0 172h30v1h-30zm1-111h1v57h-1zm1-20h1v77h-1zm1 25h1v52h-1zm1-411h1v48h-1zm0 329h1v128h-1zm1-286h1v5h-1zm0 294h1v119h-1zm1-293h1v4h-1zm0 400h1v12h-1zm1-401h1v4h-1zm0 345h1v66h-1zm1-344h1v3h-1zm0 383h1v25h-1zm1-425h1v46h-1zm0 328h1v119h-1zm1-286h1v4h-1zm0 309h1v68h-1zm1-310h1v5h-1zm0 397h1v6h-1zm1-397h1v4h-1zm0 359h1v45h-1zm1-358h1v4h-1zm0 393h1v8h-1zm1-431h1v41h-1zm0 325h1v117h-1zm1-287h1v4h-1zm0 302h1v97h-1zm1-303h1v4h-1zm1 0h2v5h-2zm0 318h1v35h-1zm1 73h1v10h-1zm1-416h1v29h-1zm0 319h1v103h-1zm1-293h1v3h-1zm0 388h1v28h-1zm1-389h1v4h-1zm0 387h1v6h-1zm1-387h1v5h-1zm0 324h1v65h-1zm1-324h1v4h-1zm0 385h1v12h-1zm1-406h1v26h-1zm0 309h1v99h-1zm1-288h1v5h-1zm0 379h1v7h-1zm1-379h1v4h-1zm0 380h1v5h-1zm1-379h1v3h-1zm1 0h1v4h-1zm1-10h1v14h-1zm0 307h1v88h-1zm1-418h1v3h-1zm0 120h1v4h-1zm0 124h1v3h-1zm0 106h1v3h-1zm0 69h1v83h-1zm0 175h1v3h-1zm1-592h30v1h-30zm0 118h1v5h-1zm0 124h30v1h-30zm0 108h30v1h-30zm0 140h1v7h-1zm0 102h30v1h-30zm1-473h2v4h-2zm1 369h1v10h-1zm1-373h1v8h-1zm0 369h1v14h-1zm1-365h1v4h-1zm0 317h1v59h-1zm1-318h1v5h-1zm0 323h1v51h-1zm1-323h1v4h-1zm0 363h1v10h-1zm1-362h2v3h-2zm0 358h1v26h-1zm1 15h1v5h-1zm1-383h1v14h-1zm0 301h1v75h-1zm1-292h1v5h-1zm0 364h1v3h-1zm1-363h1v4h-1zm0 356h1v10h-1zm1-357h1v4h-1zm0 353h1v11h-1zm1-353h2v5h-2zm0 353h1v9h-1zm1-5h1v12h-1zm1-373h1v30h-1zm0 312h1v77h-1zm1-287h1v5h-1zm1 0h1v4h-1zm0 353h1v2h-1zm1-352h1v4h-1zm0 348h1v9h-1zm1-382h1v37h-1zm0 321h1v79h-1zm1-288h1v4h-1zm0 309h1v44h-1zm1-308h1v3h-1zm0 352h1v6h-1zm1-352h2v4h-2zm0 321h1v29h-1zm2-359h1v42h-1zm0 321h1v72h-1zm1-284h1v5h-1zm0 303h1v59h-1zm1-302h1v4h-1zm0 338h1v28h-1zm1-339h1v5h-1zm0 345h1v1h-1zm1-382h1v42h-1zm0 321h1v61h-1zm1-284h1v5h-1zm0 336h1v6h-1zm1-456h1v247h-1zm0 285h1v30h-1zm0 65h1v247h-1zm1-348h18v1h-18zm0 4h9v1h-9zm0 4h9v1h-9zm0 4h9v1h-9zm0 4h9v1h-9zm0 4h9v1h-9zm0 4h9v1h-9zm0 4h9v1h-9zm0 4h9v1h-9zm0 4h9v1h-9zm0 4h18v1h-18zm0 4h9v1h-9zm0 4h9v1h-9zm0 4h9v1h-9zm0 4h9v1h-9zm0 5h9v1h-9zm0 4h9v1h-9zm0 4h9v1h-9zm0 4h9v1h-9zm0 4h9v1h-9zm0 4h18v1h-18zm0 4h9v1h-9zm0 4h9v1h-9zm0 4h9v1h-9zm0 4h9v1h-9zm0 4h9v1h-9zm0 4h9v1h-9zm0 4h9v1h-9zm0 4h9v1h-9zm0 4h9v1h-9zm0 4h18v1h-18zm0 4h9v1h-9zm0 4h9v1h-9zm0 4h9v1h-9zm0 4h9v1h-9zm0 4h9v1h-9zm0 4h9v1h-9zm0 4h9v1h-9zm0 4h9v1h-9zm0 4h9v1h-9zm0 4h18v1h-18zm0 4h9v1h-9zm0 4h9v1h-9zm0 4h9v1h-9zm0 4h9v1h-9zm0 4h9v1h-9zm0 5h9v1h-9zm0 4h9v1h-9zm0 4h9v1h-9zm0 4h9v1h-9zm0 4h18v1h-18zm0 4h9v1h-9zm0 4h9v1h-9zm0 4h9v1h-9zm0 4h9v1h-9zm0 4h9v1h-9zm0 4h9v1h-9zm0 4h9v1h-9zm0 4h9v1h-9zm0 4h9v1h-9zm0 4h18v1h-18zm0 108h13v1h-13zm0 3h7v1h-7zm0 3h7v1h-7zm0 3h7v1h-7zm0 4h7v1h-7zm0 5h7v1h-7zm0 6h7v1h-7zm0 8h7v1h-7zm0 10h7v1h-7zm0 19h13v1h-13zm0 2h7v1h-7zm0 3h7v1h-7zm0 4h7v1h-7zm0 4h7v1h-7zm0 5h7v1h-7zm0 6h7v1h-7zm0 7h7v1h-7zm0 11h7v1h-7zm0 18h13v1h-13zm0 3h7v1h-7zm0 3h7v1h-7zm0 3h7v1h-7zm0 4h7v1h-7zm0 5h7v1h-7zm0 6h7v1h-7zm0 8h7v1h-7zm0 10h7v1h-7zm0 18h13v1h-13zm0 3h7v1h-7zm0 3h7v1h-7zm0 4h7v1h-7zm0 4h7v1h-7zm0 5h7v1h-7zm0 6h7v1h-7zm0 7h7v1h-7zm0 11h7v1h-7zm0 18h13v1h-13z"/>
<path fill="#c0c0c0" d="M0 0m111 60h1v105h-1zm0 188h1v53h-1zm0 95h1v28h-1zm0 67h1v15h-1zm31-350h1v86h-1zm0 213h1v28h-1zm0 70h1v28h-1zm0 67h1v18h-1zm31-350h1v98h-1zm0 177h1v64h-1zm0 106h1v28h-1zm0 67h1v18h-1zm31-350h1v101h-1zm0 164h1v36h-1zm0 60h1v17h-1zm0 59h1v28h-1zm0 67h1v15h-1zm31-350h1v109h-1zm0 171h1v29h-1zm0 53h1v17h-1zm0 59h1v28h-1zm0 67h1v25h-1zm31-350h1v114h-1zm0 194h1v6h-1zm0 30h1v17h-1zm0 59h1v28h-1zm0 67h1v27h-1zm31-350h1v108h-1zm0 164h1v36h-1zm0 60h1v17h-1zm0 59h1v28h-1zm0 67h1v30h-1zm31-350h1v103h-1zm0 146h1v54h-1zm0 78h1v17h-1zm0 59h1v28h-1zm0 67h1v29h-1zm30-350h1v40h-1zm0 180h1v20h-1zm0 44h1v17h-1zm0 59h1v28h-1zm0 67h1v36h-1zm31-248h1v2h-1zm0 42h1v56h-1zm0 80h1v17h-1zm0 59h1v28h-1zm0 67h1v44h-1zm31-343h1v28h-1zm0 86h1v8h-1zm0 11h1v1h-1zm0 27h1v69h-1zm0 93h1v17h-1zm0 59h1v28h-1zm0 67h1v55h-1zm31-349h1v45h-1zm0 99h1v2h-1zm0 33h1v67h-1zm0 91h1v17h-1zm0 59h1v28h-1zm0 67h1v81h-1zm31-327h1v42h-1zm0 59h1v1h-1zm0 12h1v3h-1zm0 12h1v1h-1zm0 23h1v71h-1zm0 95h1v17h-1zm0 59h1v28h-1zm0 67h1v75h-1zm31-316h1v29h-1zm0 41h1v4h-1zm0 53h1v72h-1zm0 96h1v17h-1zm0 59h1v28h-1zm0 67h1v69h-1zm31-339h1v33h-1zm0 85h1v1h-1zm0 29h1v75h-1zm0 99h1v17h-1zm0 59h1v28h-1zm0 67h1v8h-1zm0 31h1v78h-1zm31-381h1v17h-1zm0 32h1v33h-1zm0 52h1v12h-1zm0 19h1v3h-1zm0 22h1v75h-1zm0 99h1v17h-1zm0 59h1v28h-1zm0 67h1v8h-1zm0 31h1v53h-1zm30-381h1v104h-1zm0 146h1v54h-1zm0 78h1v17h-1zm0 59h1v28h-1zm0 67h1v8h-1zm0 31h1v25h-1zm31-338h1v14h-1zm0 61h1v1h-1zm0 21h1v75h-1zm0 99h1v17h-1zm0 59h1v28h-1zm0 67h1v8h-1zm0 31h1v51h-1zm31-256h1v75h-1zm0 99h1v17h-1zm0 59h1v28h-1zm0 67h1v8h-1zm0 31h1v34h-1zm31-381h1v13h-1zm0 123h1v77h-1zm0 101h1v17h-1zm0 59h1v28h-1zm0 67h1v8h-1zm0 31h1v40h-1zm31-381h1v14h-1zm0 45h1v3h-1zm0 80h1v75h-1zm0 99h1v17h-1zm0 59h1v28h-1zm0 67h1v8h-1zm0 31h1v27h-1zm31-359h1v4h-1zm0 30h1v2h-1zm0 72h1v76h-1zm0 100h1v17h-1zm0 59h1v28h-1zm0 67h1v8h-1zm0 31h1v48h-1zm31-381h1v22h-1zm0 74h1v6h-1zm0 50h1v76h-1zm0 100h1v17h-1zm0 59h1v28h-1zm0 67h1v8h-1zm0 31h1v39h-1zm31-381h1v52h-1zm0 96h1v2h-1zm0 28h1v76h-1zm0 100h1v17h-1zm0 59h1v28h-1zm0 67h1v8h-1zm0 31h1v30h-1zm30-381h1v73h-1zm0 75h1v20h-1zm0 96h1v29h-1zm0 53h1v17h-1zm0 59h1v28h-1zm0 67h1v8h-1zm0 31h1v37h-1zm31-321h1v2h-1zm0 15h1v18h-1zm0 49h1v76h-1zm0 100h1v17h-1zm0 59h1v28h-1zm0 67h1v8h-1zm0 31h1v115h-1zm31-381h1v11h-1zm0 20h1v46h-1zm0 104h1v76h-1zm0 100h1v17h-1zm0 59h1v28h-1zm0 67h1v8h-1zm0 31h1v14h-1zm31-381h1v18h-1zm0 21h1v56h-1zm0 70h1v4h-1zm0 16h1v1h-1zm0 17h1v76h-1zm0 100h1v17h-1zm0 59h1v28h-1zm0 67h1v8h-1zm0 31h1v31h-1z"/>
</g>
<text x="432.5" y="52" font-size="16" textLength="206" lengthAdjust="spacingAndGlyphs" class="t">A band Residual Spectra</text>
<text x="340.5" y="397" font-size="16" textLength="400" lengthAdjust="spacingAndGlyphs" class="t">Radiance Contributions at 12km Tangent Height</text>
<text x="492.5" y="336" font-size="13" textLength="86" lengthAdjust="spacingAndGlyphs" class="t">Microwindows</text>
<text class="t" x="470" y="690" font-size="13.5" letter-spacing="0.9">Wavenumber [cm<tspan dy="-5" font-size="9">−1</tspan><tspan dy="5">]</tspan></text>
<text class="t" transform="translate(27.5 181.5) rotate(-90)" font-size="13.5" text-anchor="middle" letter-spacing="0.75">Radiance [nW cm<tspan dy="-5" font-size="9">−2</tspan><tspan dy="5">sr</tspan><tspan dy="-5" font-size="9">−1</tspan><tspan dy="5">(cm</tspan><tspan dy="-5" font-size="9">−1</tspan><tspan dy="5">)</tspan><tspan dy="-5" font-size="9">−1</tspan><tspan dy="5">]</tspan></text>
<text class="t" transform="translate(27.5 530.5) rotate(-90)" font-size="13.5" text-anchor="middle" letter-spacing="0.75">Radiance [nW cm<tspan dy="-5" font-size="9">−2</tspan><tspan dy="5">sr</tspan><tspan dy="-5" font-size="9">−1</tspan><tspan dy="5">(cm</tspan><tspan dy="-5" font-size="9">−1</tspan><tspan dy="5">)</tspan><tspan dy="-5" font-size="9">−1</tspan><tspan dy="5">]</tspan></text>
<text x="74.5" y="69" font-size="13.5" text-anchor="end" textLength="23" lengthAdjust="spacingAndGlyphs" class="t">300</text>
<text x="74.5" y="105" font-size="13.5" text-anchor="end" textLength="23" lengthAdjust="spacingAndGlyphs" class="t">200</text>
<text x="74.5" y="145" font-size="13.5" text-anchor="end" textLength="23" lengthAdjust="spacingAndGlyphs" class="t">100</text>
<text x="74.5" y="185" font-size="13.5" text-anchor="end" class="t">0</text>
<text x="74.5" y="225" font-size="13.5" text-anchor="end" textLength="31" lengthAdjust="spacingAndGlyphs" class="t">−100</text>
<text x="74.5" y="266" font-size="13.5" text-anchor="end" textLength="31" lengthAdjust="spacingAndGlyphs" class="t">−200</text>
<text x="74.5" y="301" font-size="13.5" text-anchor="end" textLength="31" lengthAdjust="spacingAndGlyphs" class="t">−300</text>
<text x="79" y="419" font-size="13.5" text-anchor="end" textLength="40.0" lengthAdjust="spacingAndGlyphs" class="t">10000</text>
<text x="79" y="475" font-size="13.5" text-anchor="end" textLength="31.8" lengthAdjust="spacingAndGlyphs" class="t">1000</text>
<text x="79" y="535.5" font-size="13.5" text-anchor="end" textLength="23.6" lengthAdjust="spacingAndGlyphs" class="t">100</text>
<text x="79" y="595" font-size="13.5" text-anchor="end" textLength="15.4" lengthAdjust="spacingAndGlyphs" class="t">10</text>
<text x="79" y="652" font-size="13.5" text-anchor="end" class="t">1</text>
<text x="143.1" y="325.5" font-size="13.5" text-anchor="middle" textLength="23" lengthAdjust="spacingAndGlyphs" class="t">700</text>
<text x="143.1" y="675" font-size="13.5" text-anchor="middle" textLength="23" lengthAdjust="spacingAndGlyphs" class="t">700</text>
<text x="297.5" y="325.5" font-size="13.5" text-anchor="middle" textLength="23" lengthAdjust="spacingAndGlyphs" class="t">750</text>
<text x="297.5" y="675" font-size="13.5" text-anchor="middle" textLength="23" lengthAdjust="spacingAndGlyphs" class="t">750</text>
<text x="451.9" y="325.5" font-size="13.5" text-anchor="middle" textLength="23" lengthAdjust="spacingAndGlyphs" class="t">800</text>
<text x="451.9" y="675" font-size="13.5" text-anchor="middle" textLength="23" lengthAdjust="spacingAndGlyphs" class="t">800</text>
<text x="606.3" y="325.5" font-size="13.5" text-anchor="middle" textLength="23" lengthAdjust="spacingAndGlyphs" class="t">850</text>
<text x="606.3" y="675" font-size="13.5" text-anchor="middle" textLength="23" lengthAdjust="spacingAndGlyphs" class="t">850</text>
<text x="760.7" y="325.5" font-size="13.5" text-anchor="middle" textLength="23" lengthAdjust="spacingAndGlyphs" class="t">900</text>
<text x="760.7" y="675" font-size="13.5" text-anchor="middle" textLength="23" lengthAdjust="spacingAndGlyphs" class="t">900</text>
<text x="915.0" y="325.5" font-size="13.5" text-anchor="middle" textLength="23" lengthAdjust="spacingAndGlyphs" class="t">950</text>
<text x="915.0" y="675" font-size="13.5" text-anchor="middle" textLength="23" lengthAdjust="spacingAndGlyphs" class="t">950</text>
<text x="185" y="278" font-size="14" fill="#ffc0a0" textLength="36" lengthAdjust="spacingAndGlyphs">06km</text>
<text x="229" y="278" font-size="14" fill="#ffa500" textLength="36" lengthAdjust="spacingAndGlyphs">09km</text>
<text x="273" y="278" font-size="14" fill="#c8c8c8" textLength="36" lengthAdjust="spacingAndGlyphs">12km</text>
<text x="317" y="278" font-size="14" fill="#008080" textLength="36" lengthAdjust="spacingAndGlyphs">15km</text>
<text x="361" y="278" font-size="14" fill="#800080" textLength="36" lengthAdjust="spacingAndGlyphs">18km</text>
<text x="405" y="278" font-size="14" fill="#808000" textLength="36" lengthAdjust="spacingAndGlyphs">21km</text>
<text x="449" y="278" font-size="14" fill="#808080" textLength="36" lengthAdjust="spacingAndGlyphs">24km</text>
<text x="493" y="278" font-size="14" fill="#000080" textLength="36" lengthAdjust="spacingAndGlyphs">27km</text>
<text x="537" y="278" font-size="14" fill="#008000" textLength="36" lengthAdjust="spacingAndGlyphs">30km</text>
<text x="581" y="278" font-size="14" fill="#800000" textLength="36" lengthAdjust="spacingAndGlyphs">33km</text>
<text x="625" y="278" font-size="14" fill="#00ffff" textLength="36" lengthAdjust="spacingAndGlyphs">36km</text>
<text x="669" y="278" font-size="14" fill="#ff00ff" textLength="36" lengthAdjust="spacingAndGlyphs">39km</text>
<text x="713" y="278" font-size="14" fill="#c0c000" textLength="36" lengthAdjust="spacingAndGlyphs">42km</text>
<text x="757" y="278" font-size="14" fill="#0000ff" textLength="36" lengthAdjust="spacingAndGlyphs">47km</text>
<text x="801" y="278" font-size="14" fill="#00ff00" textLength="36" lengthAdjust="spacingAndGlyphs">52km</text>
<text x="845" y="278" font-size="14" fill="#ff0000" textLength="36" lengthAdjust="spacingAndGlyphs">60km</text>
<text x="889" y="278" font-size="14" fill="#000000" textLength="36" lengthAdjust="spacingAndGlyphs" class="t">68km</text>
<text x="536.4" y="434" font-size="13.5" fill="#808080" textLength="37.2" lengthAdjust="spacingAndGlyphs">TOTAL</text>
<text x="589.4" y="434" font-size="13.5" fill="#000000" textLength="25.6" lengthAdjust="spacingAndGlyphs" class="t">CO2</text>
<text x="624.4" y="434" font-size="13.5" fill="#00ffff" textLength="17.0" lengthAdjust="spacingAndGlyphs">O3</text>
<text x="651.6" y="434" font-size="13.5" fill="#c0c000" textLength="34.4" lengthAdjust="spacingAndGlyphs">HNO3</text>
<text x="695.6" y="434" font-size="13.5" fill="#000080" textLength="22.4" lengthAdjust="spacingAndGlyphs">F12</text>
<text x="731" y="434" font-size="13.5" fill="#008000" textLength="21.4" lengthAdjust="spacingAndGlyphs">F11</text>
<text x="765.6" y="434" font-size="13.5" fill="#0000ff" textLength="25.4" lengthAdjust="spacingAndGlyphs">H2O</text>
<text x="801" y="434" font-size="13.5" fill="#808000" textLength="33.6" lengthAdjust="spacingAndGlyphs">N2O5</text>
<text x="845" y="434" font-size="13.5" fill="#800000" textLength="51" lengthAdjust="spacingAndGlyphs">CLONO2</text>
<text x="907" y="434" font-size="13.5" fill="#ff00ff" textLength="25" lengthAdjust="spacingAndGlyphs">NO2</text>
<text x="942" y="434" font-size="13.5" fill="#00ff00" textLength="25" lengthAdjust="spacingAndGlyphs">N2O</text>
<text x="100.5" y="381" font-size="9.6" fill="#000000" textLength="9.0" lengthAdjust="spacingAndGlyphs" stroke="#000000" stroke-width="0.18">01</text>
<text x="93" y="390.5" font-size="9.6" fill="#000000" textLength="10.5" lengthAdjust="spacingAndGlyphs" stroke="#000000" stroke-width="0.18">39</text>
<text x="121.5" y="381" font-size="9.6" fill="#000000" textLength="10.0" lengthAdjust="spacingAndGlyphs" stroke="#000000" stroke-width="0.18">37</text>
<text x="139.5" y="381" font-size="9.6" fill="#000000" textLength="11.0" lengthAdjust="spacingAndGlyphs" stroke="#000000" stroke-width="0.18">38</text>
<text x="212" y="341" font-size="9.6" fill="#000000" textLength="11.2" lengthAdjust="spacingAndGlyphs" stroke="#000000" stroke-width="0.18">A5</text>
<text x="227" y="381" font-size="9.6" fill="#000000" textLength="10" lengthAdjust="spacingAndGlyphs" stroke="#000000" stroke-width="0.18">04</text>
<text x="267" y="381" font-size="9.6" fill="#000000" textLength="11" lengthAdjust="spacingAndGlyphs" stroke="#000000" stroke-width="0.18">06</text>
<text x="337" y="381" font-size="9.6" fill="#00ffff" textLength="10.5" lengthAdjust="spacingAndGlyphs" stroke="#00ffff" stroke-width="0.18">21</text>
<text x="421.5" y="381" font-size="9.6" fill="#000000" textLength="11.0" lengthAdjust="spacingAndGlyphs" stroke="#000000" stroke-width="0.18">02</text>
<text x="471" y="381" font-size="9.6" fill="#0000ff" textLength="11.5" lengthAdjust="spacingAndGlyphs" stroke="#0000ff" stroke-width="0.18">02</text>
<text x="686.5" y="381" font-size="9.6" fill="#c0c000" textLength="10.0" lengthAdjust="spacingAndGlyphs" stroke="#c0c000" stroke-width="0.18">01</text>
<text x="713" y="381" font-size="9.6" fill="#c0c000" textLength="11" lengthAdjust="spacingAndGlyphs" stroke="#c0c000" stroke-width="0.18">06</text>
<text x="900" y="381" font-size="9.6" fill="#0000ff" textLength="11.5" lengthAdjust="spacingAndGlyphs" stroke="#0000ff" stroke-width="0.18">22</text>
</svg>
</body></html>
